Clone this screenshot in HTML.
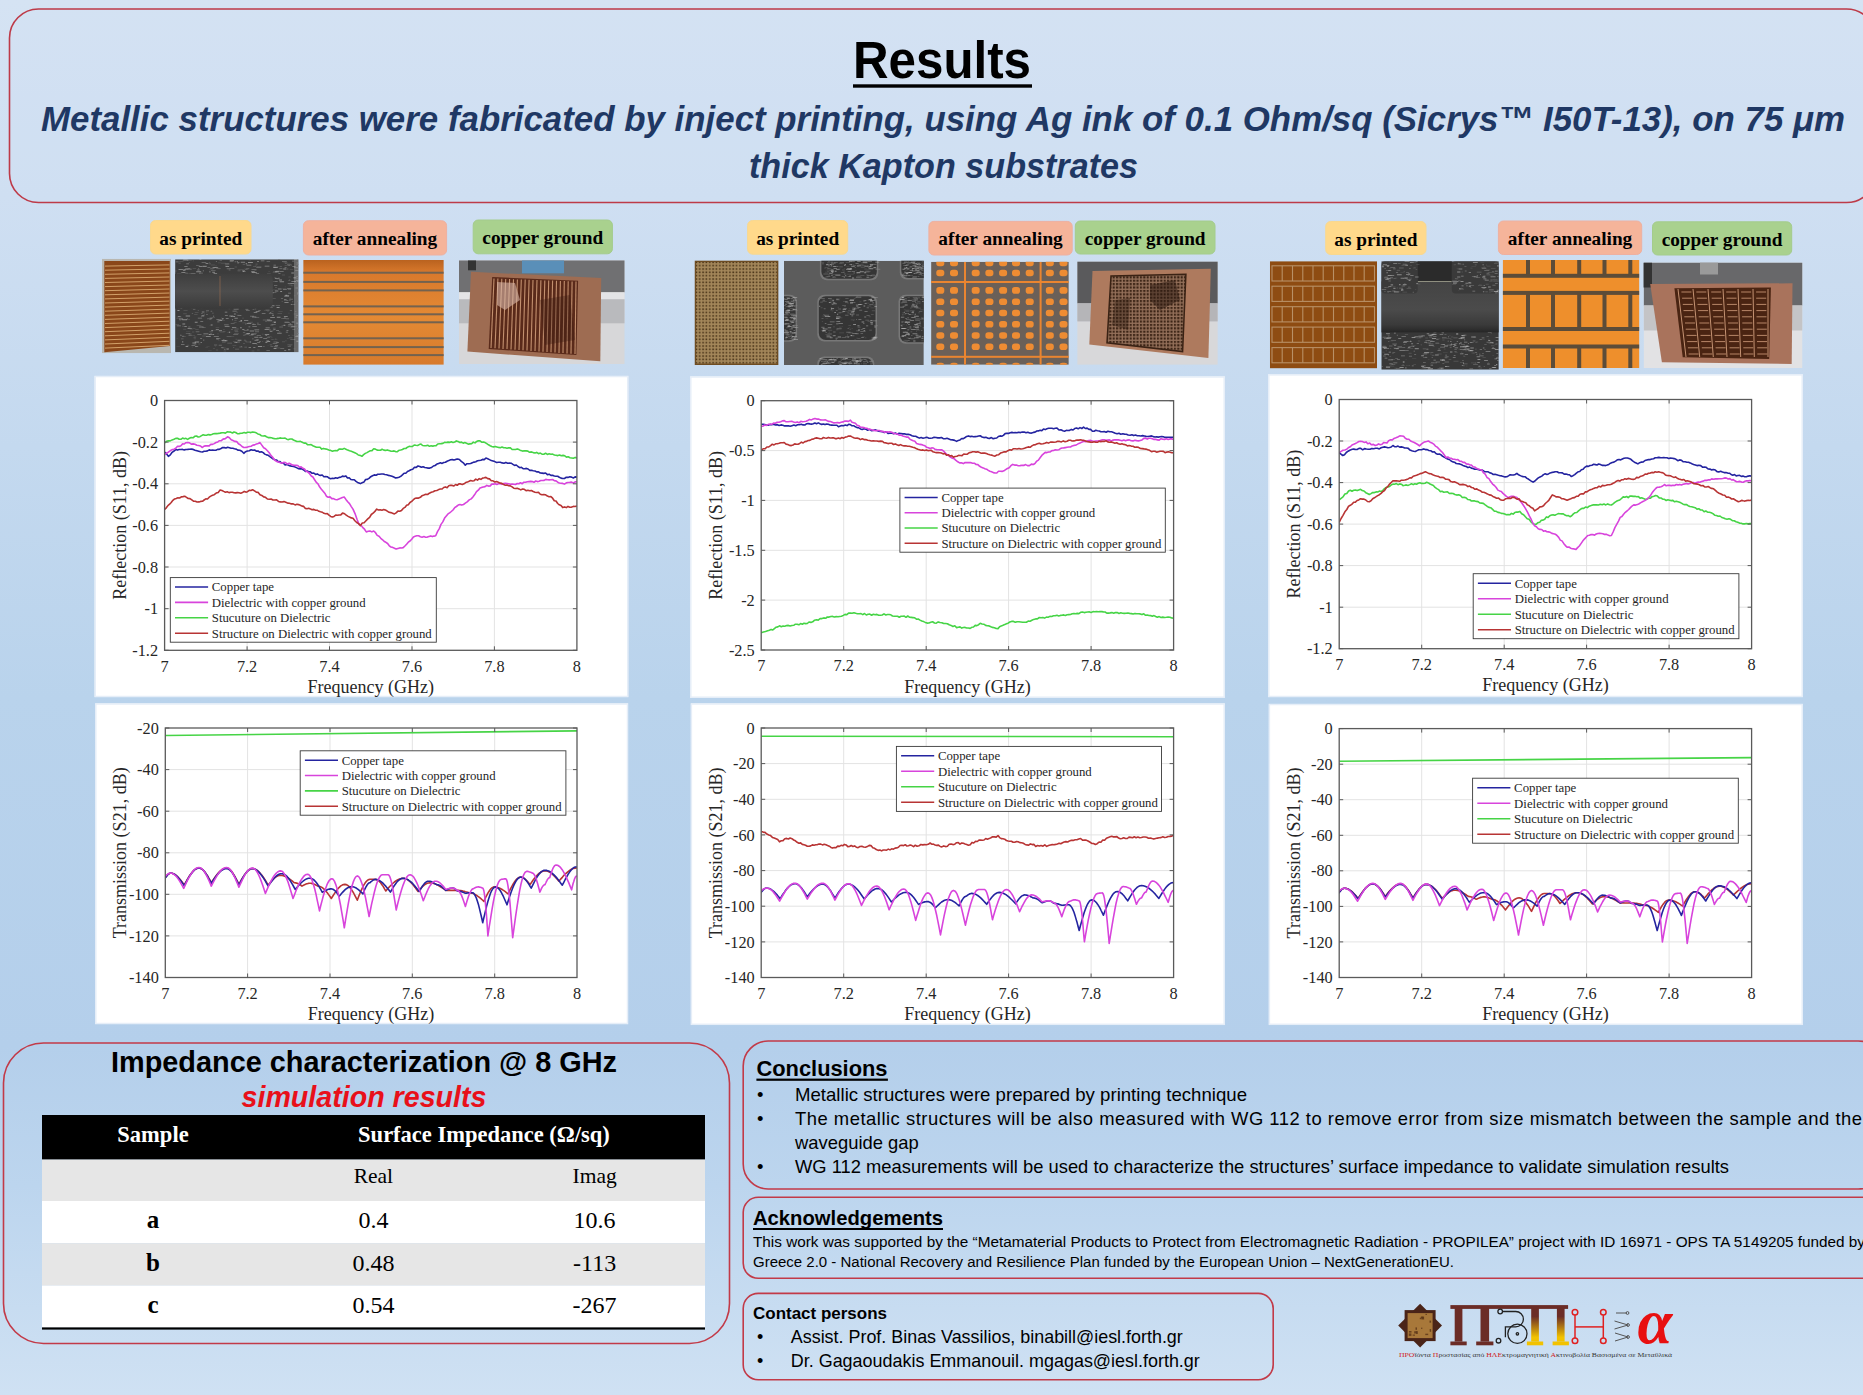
<!DOCTYPE html><html><head><meta charset="utf-8"><style>
html,body{margin:0;padding:0;width:1863px;height:1395px;overflow:hidden;}
svg{display:block;}
</style></head><body>
<svg width="1863" height="1395" viewBox="0 0 1863 1395" font-family="Liberation Sans">
<defs>
<linearGradient id="bg" x1="0" y1="0" x2="0" y2="1">
<stop offset="0" stop-color="#d5e3f3"/>
<stop offset="0.14" stop-color="#cfdff2"/>
<stop offset="0.5" stop-color="#b9d3ec"/>
<stop offset="0.75" stop-color="#b4cfeb"/>
<stop offset="0.85" stop-color="#bcd5ee"/>
<stop offset="1" stop-color="#cfe1f3"/>
</linearGradient>
</defs>
<rect x="0" y="0" width="1863" height="1395" fill="url(#bg)"/>

<rect x="9.5" y="9" width="1866" height="193.5" rx="29" ry="29" fill="#cfe0f2" fill-opacity="0.25" stroke="#bd3a48" stroke-width="1.6"/>
<text x="942" y="77.5" text-anchor="middle" font-size="51" font-weight="bold" fill="#000" textLength="178" lengthAdjust="spacingAndGlyphs">Results</text>
<rect x="853" y="84.3" width="179" height="3.4" fill="#000"/>
<text x="943" y="130.5" text-anchor="middle" font-size="35" font-weight="bold" font-style="italic" fill="#1f3864" textLength="1804" lengthAdjust="spacingAndGlyphs">Metallic structures were fabricated by inject printing, using Ag ink of 0.1 Ohm/sq (Sicrys™ I50T-13), on 75 μm</text>
<text x="943.5" y="178" text-anchor="middle" font-size="35" font-weight="bold" font-style="italic" fill="#1f3864" textLength="389" lengthAdjust="spacingAndGlyphs">thick Kapton substrates</text>
<rect x="150.5" y="220.5" width="100.5" height="33.5" rx="5" fill="#ffd98b" stroke="#f8d890" stroke-width="1"/>
<text x="200.75" y="244.5" text-anchor="middle" font-family="Liberation Serif" font-size="19.3" font-weight="bold" fill="#000">as printed</text>
<rect x="303.4" y="220.7" width="143.20000000000005" height="34.30000000000001" rx="5" fill="#f5b49a" stroke="#eeb0a0" stroke-width="1"/>
<text x="375.0" y="244.7" text-anchor="middle" font-family="Liberation Serif" font-size="19.3" font-weight="bold" fill="#000">after annealing</text>
<rect x="473.2" y="220" width="139.2" height="33.80000000000001" rx="5" fill="#a9d18e" stroke="#a4cc8c" stroke-width="1"/>
<text x="542.8" y="244" text-anchor="middle" font-family="Liberation Serif" font-size="19.3" font-weight="bold" fill="#000">copper ground</text>
<rect x="747.6" y="220.5" width="100.10000000000002" height="33.69999999999999" rx="5" fill="#ffd98b" stroke="#f8d890" stroke-width="1"/>
<text x="797.6500000000001" y="244.5" text-anchor="middle" font-family="Liberation Serif" font-size="19.3" font-weight="bold" fill="#000">as printed</text>
<rect x="928.9" y="221.4" width="143.30000000000007" height="33.599999999999994" rx="5" fill="#f5b49a" stroke="#eeb0a0" stroke-width="1"/>
<text x="1000.55" y="245.4" text-anchor="middle" font-family="Liberation Serif" font-size="19.3" font-weight="bold" fill="#000">after annealing</text>
<rect x="1075.3" y="221" width="139.70000000000005" height="33" rx="5" fill="#a9d18e" stroke="#a4cc8c" stroke-width="1"/>
<text x="1145.15" y="245" text-anchor="middle" font-family="Liberation Serif" font-size="19.3" font-weight="bold" fill="#000">copper ground</text>
<rect x="1325.7" y="221.5" width="100.29999999999995" height="33.0" rx="5" fill="#ffd98b" stroke="#f8d890" stroke-width="1"/>
<text x="1375.85" y="245.5" text-anchor="middle" font-family="Liberation Serif" font-size="19.3" font-weight="bold" fill="#000">as printed</text>
<rect x="1498.4" y="221" width="143.29999999999995" height="33.5" rx="5" fill="#f5b49a" stroke="#eeb0a0" stroke-width="1"/>
<text x="1570.0500000000002" y="245" text-anchor="middle" font-family="Liberation Serif" font-size="19.3" font-weight="bold" fill="#000">after annealing</text>
<rect x="1652.5" y="221.8" width="139.20000000000005" height="33.19999999999999" rx="5" fill="#a9d18e" stroke="#a4cc8c" stroke-width="1"/>
<text x="1722.1" y="245.8" text-anchor="middle" font-family="Liberation Serif" font-size="19.3" font-weight="bold" fill="#000">copper ground</text>
<clipPath id="cp1"><rect x="102" y="258.8" width="69" height="94.39999999999998"/></clipPath><g clip-path="url(#cp1)">
<rect x="102.0" y="258.8" width="69.0" height="94.4" fill="#b9b7b0" />
<polygon points="104.3,260.9 169.8,260.9 169.8,346.0 104.3,352.2" fill="#8a471a" />
<line x1="105" y1="266.1" x2="169.5" y2="264.9" stroke="#d2a068" stroke-width="1.0"/>
<line x1="105" y1="270.2" x2="169.5" y2="268.9" stroke="#d2a068" stroke-width="1.0"/>
<line x1="105" y1="274.3" x2="169.5" y2="272.9" stroke="#d2a068" stroke-width="1.0"/>
<line x1="105" y1="278.4" x2="169.5" y2="277.0" stroke="#d2a068" stroke-width="1.0"/>
<line x1="105" y1="282.5" x2="169.5" y2="281.0" stroke="#d2a068" stroke-width="1.0"/>
<line x1="105" y1="286.6" x2="169.5" y2="285.0" stroke="#d2a068" stroke-width="1.0"/>
<line x1="105" y1="290.7" x2="169.5" y2="289.0" stroke="#d2a068" stroke-width="1.0"/>
<line x1="105" y1="294.8" x2="169.5" y2="293.0" stroke="#d2a068" stroke-width="1.0"/>
<line x1="105" y1="298.9" x2="169.5" y2="297.1" stroke="#d2a068" stroke-width="1.0"/>
<line x1="105" y1="303.0" x2="169.5" y2="301.1" stroke="#d2a068" stroke-width="1.0"/>
<line x1="105" y1="307.1" x2="169.5" y2="305.1" stroke="#d2a068" stroke-width="1.0"/>
<line x1="105" y1="311.2" x2="169.5" y2="309.1" stroke="#d2a068" stroke-width="1.0"/>
<line x1="105" y1="315.3" x2="169.5" y2="313.1" stroke="#d2a068" stroke-width="1.0"/>
<line x1="105" y1="319.4" x2="169.5" y2="317.2" stroke="#d2a068" stroke-width="1.0"/>
<line x1="105" y1="323.5" x2="169.5" y2="321.2" stroke="#d2a068" stroke-width="1.0"/>
<line x1="105" y1="327.6" x2="169.5" y2="325.2" stroke="#d2a068" stroke-width="1.0"/>
<line x1="105" y1="331.7" x2="169.5" y2="329.2" stroke="#d2a068" stroke-width="1.0"/>
<line x1="105" y1="335.8" x2="169.5" y2="333.2" stroke="#d2a068" stroke-width="1.0"/>
<line x1="105" y1="339.9" x2="169.5" y2="337.3" stroke="#d2a068" stroke-width="1.0"/>
<line x1="105" y1="344.0" x2="169.5" y2="341.3" stroke="#d2a068" stroke-width="1.0"/>
<line x1="105" y1="348.1" x2="169.5" y2="345.3" stroke="#d2a068" stroke-width="1.0"/>
</g>
<clipPath id="cp2"><rect x="175.1" y="259.3" width="123.50000000000003" height="92.89999999999998"/></clipPath><g clip-path="url(#cp2)">
<rect x="175.1" y="259.3" width="123.5" height="93.0" fill="#3c3c3c" />
<path d="M254.8 265.7h2.2v0.6h-2.2zM242.6 264.4h2.6v0.6h-2.6zM198.0 268.0h1.2v0.8h-1.2zM289.4 297.8h1.5v0.7h-1.5zM222.9 339.2h1.3v0.6h-1.3zM244.4 346.7h2.6v0.7h-2.6zM194.9 290.3h1.1v0.6h-1.1zM240.8 346.3h1.2v0.8h-1.2zM178.3 307.6h1.4v0.8h-1.4zM295.8 315.1h2.2v0.8h-2.2zM273.0 266.8h2.8v0.9h-2.8zM242.3 271.1h3.6v0.7h-3.6zM191.0 273.0h4.3v1.0h-4.3zM234.2 330.4h3.7v0.8h-3.7zM269.7 305.7h1.8v0.7h-1.8zM189.9 299.7h4.3v0.6h-4.3zM201.1 286.9h3.6v0.8h-3.6zM232.3 327.7h1.9v0.6h-1.9zM238.4 286.2h3.8v0.7h-3.8zM203.0 339.6h1.3v1.1h-1.3zM245.0 323.4h1.4v1.1h-1.4zM296.9 262.4h1.9v1.0h-1.9zM213.0 291.8h1.8v1.1h-1.8zM211.7 316.9h3.3v0.7h-3.3zM244.7 333.8h4.6v1.0h-4.6zM272.8 327.8h2.9v0.5h-2.9zM265.3 282.2h3.6v0.5h-3.6zM233.7 321.9h2.9v0.7h-2.9zM232.0 301.9h2.0v0.8h-2.0zM287.4 344.6h5.0v0.7h-5.0zM234.6 261.3h1.8v1.0h-1.8zM222.8 339.0h1.9v0.5h-1.9zM208.7 263.4h2.3v0.8h-2.3zM234.2 320.5h2.5v0.6h-2.5zM186.1 290.5h1.4v0.6h-1.4zM274.2 277.6h2.1v0.7h-2.1zM282.0 261.0h4.8v1.0h-4.8zM188.4 273.2h4.9v0.6h-4.9zM175.2 270.6h1.2v1.0h-1.2zM283.5 318.5h1.0v0.6h-1.0zM288.4 279.9h1.9v0.9h-1.9zM219.4 295.5h3.7v0.9h-3.7zM248.1 297.2h1.0v0.5h-1.0zM262.3 287.9h1.6v0.8h-1.6zM274.5 329.5h0.9v0.7h-0.9zM216.6 284.1h3.9v1.0h-3.9zM213.8 284.4h1.9v0.9h-1.9zM273.8 346.1h3.8v0.9h-3.8zM214.2 292.3h3.4v0.7h-3.4zM194.6 296.5h2.9v0.7h-2.9zM194.7 298.2h2.8v0.8h-2.8zM266.7 336.9h3.4v0.9h-3.4zM270.4 346.0h2.7v0.7h-2.7zM242.4 317.8h1.2v0.7h-1.2zM285.0 262.8h1.8v0.9h-1.8zM270.3 306.1h1.1v0.9h-1.1zM255.0 331.2h4.0v1.0h-4.0zM195.7 331.2h3.7v1.0h-3.7zM229.2 275.3h2.3v1.0h-2.3zM180.9 303.9h2.6v0.7h-2.6zM212.9 286.6h4.2v0.6h-4.2zM207.1 318.2h1.5v1.1h-1.5zM260.2 336.8h2.2v0.9h-2.2zM284.6 266.9h2.0v1.1h-2.0zM201.0 316.3h3.2v0.7h-3.2zM178.5 262.8h2.2v0.6h-2.2zM188.7 262.2h1.2v0.6h-1.2zM210.2 268.2h4.3v0.9h-4.3zM225.6 299.2h3.4v0.5h-3.4zM240.9 278.9h2.3v0.9h-2.3zM253.0 266.4h2.9v0.6h-2.9zM224.2 295.3h3.4v0.7h-3.4zM247.8 322.4h4.8v0.6h-4.8zM294.6 326.0h2.2v0.6h-2.2zM228.3 277.0h4.1v0.9h-4.1zM230.6 287.8h3.7v0.9h-3.7zM235.1 348.7h4.1v0.7h-4.1zM296.4 275.9h3.9v0.8h-3.9zM231.7 274.1h5.0v1.1h-5.0zM214.3 303.6h2.3v0.9h-2.3zM288.9 337.6h3.6v0.7h-3.6zM294.3 267.1h3.8v0.6h-3.8zM198.3 343.8h2.1v0.5h-2.1zM250.0 315.7h4.1v1.0h-4.1zM231.1 329.2h1.7v0.9h-1.7zM226.7 268.3h3.6v1.0h-3.6zM179.2 260.9h4.4v0.6h-4.4zM232.9 341.4h3.1v0.5h-3.1zM257.1 349.8h2.6v0.5h-2.6zM287.0 263.8h3.6v1.0h-3.6zM254.8 334.2h0.8v0.5h-0.8zM274.0 285.1h3.3v1.0h-3.3zM194.3 343.7h2.2v0.7h-2.2zM295.4 287.5h4.1v0.9h-4.1zM200.3 282.4h3.6v0.8h-3.6zM185.8 333.2h4.1v0.8h-4.1zM288.5 284.7h3.3v0.6h-3.3zM296.9 293.8h4.3v0.7h-4.3zM281.7 301.2h1.0v0.8h-1.0zM288.1 324.0h4.4v0.9h-4.4zM290.4 264.5h1.5v1.1h-1.5zM192.5 279.4h2.8v0.9h-2.8zM203.2 275.2h4.3v0.8h-4.3zM264.8 296.5h1.6v0.5h-1.6zM218.7 344.8h3.2v1.0h-3.2zM202.4 275.8h0.9v1.1h-0.9zM281.6 325.0h3.8v0.6h-3.8zM246.8 329.1h1.9v0.8h-1.9zM266.5 274.1h1.4v0.8h-1.4zM226.6 336.3h4.7v0.7h-4.7zM297.3 300.7h2.6v0.7h-2.6zM252.0 333.2h4.7v0.9h-4.7zM238.8 298.9h3.4v0.7h-3.4zM245.8 284.2h4.5v1.0h-4.5zM227.3 342.8h4.8v0.6h-4.8zM247.9 291.3h2.4v0.7h-2.4zM244.3 268.8h2.5v0.5h-2.5zM175.3 324.4h3.7v0.5h-3.7zM187.1 260.4h4.7v0.7h-4.7zM189.9 273.4h3.2v0.7h-3.2zM208.8 262.0h1.4v0.6h-1.4zM223.5 329.3h0.9v0.6h-0.9zM210.6 310.7h1.6v1.1h-1.6zM216.2 318.9h2.2v1.0h-2.2zM237.5 270.5h3.0v0.7h-3.0zM192.8 260.4h0.9v0.9h-0.9zM203.4 276.3h3.7v1.0h-3.7zM295.2 310.9h1.2v0.9h-1.2zM293.9 267.2h1.5v0.8h-1.5zM201.8 293.3h4.4v0.8h-4.4zM262.1 340.9h1.1v0.5h-1.1zM251.0 333.6h4.9v1.1h-4.9zM245.2 269.4h3.1v0.6h-3.1zM273.1 271.4h4.4v0.9h-4.4zM198.5 302.7h3.1v1.1h-3.1zM292.2 301.3h1.0v0.9h-1.0zM291.2 325.4h2.4v0.9h-2.4zM218.6 289.1h4.2v0.7h-4.2zM274.1 346.3h3.1v0.9h-3.1zM234.7 303.5h0.9v1.1h-0.9zM272.7 272.0h4.1v0.6h-4.1zM269.7 344.5h2.5v0.7h-2.5zM208.2 318.1h3.8v0.5h-3.8zM201.0 289.1h3.5v1.1h-3.5zM258.2 290.1h3.5v0.7h-3.5zM290.3 339.3h4.9v0.7h-4.9zM200.8 307.7h1.5v0.5h-1.5zM224.1 349.1h1.4v0.9h-1.4zM188.2 326.5h2.2v1.0h-2.2zM211.8 267.1h4.8v0.6h-4.8zM178.0 269.3h5.0v0.7h-5.0zM179.0 280.6h4.5v1.1h-4.5zM203.4 298.6h1.0v0.8h-1.0zM284.6 264.9h3.9v0.5h-3.9zM252.6 309.2h1.7v0.8h-1.7zM293.5 277.1h0.9v0.7h-0.9zM219.5 260.0h2.5v0.8h-2.5zM273.5 341.6h4.0v1.0h-4.0zM256.3 267.0h5.0v1.0h-5.0zM196.8 346.2h1.4v0.9h-1.4zM223.5 350.7h2.7v0.6h-2.7zM206.0 310.2h3.0v1.0h-3.0zM235.9 341.9h2.4v0.8h-2.4zM202.1 266.1h4.0v0.6h-4.0zM267.4 310.9h1.2v0.6h-1.2zM291.6 334.8h0.8v0.5h-0.8zM181.0 338.4h2.6v0.9h-2.6zM270.3 324.8h3.0v0.6h-3.0zM189.0 335.2h2.6v0.9h-2.6zM255.4 307.2h3.6v0.6h-3.6zM267.0 304.7h2.0v0.7h-2.0zM212.1 312.7h1.6v0.7h-1.6zM246.1 268.3h3.2v0.7h-3.2zM215.4 292.5h2.3v0.8h-2.3zM183.5 310.4h4.1v0.7h-4.1zM194.8 295.2h3.9v0.6h-3.9zM251.5 269.1h5.0v0.8h-5.0zM203.7 313.8h1.2v0.8h-1.2zM215.5 265.4h1.0v0.8h-1.0zM278.7 331.4h1.6v0.9h-1.6zM255.3 317.2h3.9v0.9h-3.9zM243.9 339.7h1.8v0.9h-1.8zM192.9 309.2h2.5v0.7h-2.5zM250.9 285.9h2.3v1.0h-2.3zM205.7 291.4h2.7v1.0h-2.7zM182.0 335.8h2.3v1.1h-2.3zM226.6 349.0h2.0v0.8h-2.0zM194.8 311.9h3.7v0.7h-3.7zM192.1 306.5h4.1v0.7h-4.1zM195.9 287.7h1.5v0.9h-1.5zM239.9 285.5h2.3v1.1h-2.3zM207.6 281.4h2.3v1.1h-2.3zM248.9 335.2h4.5v0.6h-4.5zM196.6 325.5h4.7v0.6h-4.7zM288.3 265.1h1.7v0.9h-1.7zM236.4 341.6h3.6v1.0h-3.6zM222.1 341.5h3.5v1.0h-3.5zM244.8 340.7h2.1v0.7h-2.1zM268.7 300.1h1.7v0.8h-1.7zM195.3 328.9h3.4v0.6h-3.4zM287.8 325.5h3.9v1.1h-3.9zM196.5 291.7h2.1v0.5h-2.1zM275.8 270.8h4.1v0.8h-4.1zM222.7 291.6h3.0v0.7h-3.0zM294.3 266.9h0.9v1.0h-0.9zM218.5 340.0h0.8v0.6h-0.8zM202.5 326.9h3.2v0.9h-3.2zM289.1 279.2h1.0v0.6h-1.0zM292.3 328.9h2.8v0.8h-2.8zM195.0 306.1h1.6v1.0h-1.6zM221.8 339.9h2.9v1.1h-2.9zM275.7 305.2h4.4v0.8h-4.4zM250.4 301.1h3.8v0.9h-3.8zM265.2 320.8h1.7v0.9h-1.7zM238.7 321.3h3.4v0.6h-3.4zM272.7 343.0h4.6v0.9h-4.6zM260.2 287.0h3.6v0.9h-3.6zM184.0 265.9h3.9v0.8h-3.9zM222.6 331.2h2.2v0.6h-2.2zM257.2 284.5h4.4v1.0h-4.4zM192.6 267.9h3.6v0.6h-3.6zM244.8 279.5h2.4v0.9h-2.4zM289.8 310.0h2.3v0.8h-2.3zM209.4 331.6h3.5v0.6h-3.5zM234.0 275.6h1.3v1.1h-1.3zM285.7 318.2h3.4v1.0h-3.4z" fill="#8a8a8a" opacity="0.55"/>
<path d="M212.8 334.1h1.4v0.6h-1.4zM219.3 281.9h2.8v1.1h-2.8zM196.6 280.3h4.8v0.6h-4.8zM197.4 284.9h0.9v1.0h-0.9zM234.0 295.8h2.5v0.7h-2.5zM220.0 274.4h3.7v0.7h-3.7zM215.4 279.5h3.0v1.0h-3.0zM202.0 279.9h4.8v0.7h-4.8zM267.0 303.0h4.6v1.0h-4.6zM185.4 273.6h2.7v0.9h-2.7zM187.6 328.0h4.2v0.9h-4.2zM249.6 330.4h4.5v1.0h-4.5zM229.3 315.4h4.0v1.0h-4.0zM240.4 303.0h3.7v0.8h-3.7zM290.5 282.9h3.7v1.0h-3.7zM262.8 319.7h4.6v0.6h-4.6zM296.4 335.6h2.5v0.8h-2.5zM270.5 283.9h1.9v0.5h-1.9zM273.3 266.7h4.7v0.9h-4.7zM190.8 307.5h4.7v0.7h-4.7zM200.2 300.0h3.4v0.8h-3.4zM201.4 280.1h4.9v0.7h-4.9zM209.2 319.4h2.2v0.6h-2.2zM235.6 285.1h4.0v0.9h-4.0zM284.4 316.7h1.0v1.0h-1.0zM284.5 321.8h4.3v0.9h-4.3zM252.0 316.6h4.3v0.8h-4.3zM239.3 346.7h3.2v0.6h-3.2zM252.3 343.0h4.5v1.0h-4.5zM264.8 300.5h3.8v0.5h-3.8zM181.0 344.3h3.5v0.7h-3.5zM252.2 338.4h1.3v0.8h-1.3zM183.6 307.2h3.7v0.6h-3.7zM213.8 336.2h5.0v0.7h-5.0zM236.9 277.9h4.1v0.9h-4.1zM273.5 264.7h2.4v0.8h-2.4zM265.5 334.7h1.6v1.0h-1.6zM205.3 281.6h3.9v0.6h-3.9zM211.0 270.0h4.6v0.5h-4.6zM198.8 265.9h3.3v1.0h-3.3zM206.3 314.1h1.4v0.6h-1.4zM297.2 292.5h2.5v1.0h-2.5zM290.5 298.9h2.4v0.7h-2.4zM220.5 305.4h1.2v0.9h-1.2zM293.5 277.2h2.9v1.0h-2.9zM259.4 341.0h1.2v0.9h-1.2zM199.0 302.5h3.4v0.9h-3.4zM194.2 292.0h1.0v1.1h-1.0zM250.8 334.3h2.8v0.8h-2.8zM237.5 262.8h1.2v0.8h-1.2zM264.8 334.0h4.4v1.1h-4.4zM210.3 333.6h1.4v1.0h-1.4zM208.7 334.0h1.5v1.0h-1.5zM233.9 313.5h1.9v1.1h-1.9zM221.1 292.9h3.9v0.7h-3.9zM191.5 345.2h3.4v0.8h-3.4zM286.8 268.7h1.6v0.6h-1.6zM278.2 277.7h1.5v1.0h-1.5zM282.9 289.2h3.9v0.7h-3.9zM175.8 261.4h2.8v0.8h-2.8zM179.0 269.3h3.2v0.6h-3.2zM274.9 345.3h3.2v0.6h-3.2zM221.5 340.3h4.6v0.8h-4.6zM269.8 312.3h1.5v0.8h-1.5zM278.4 273.2h2.1v0.9h-2.1zM248.9 291.1h4.9v0.9h-4.9zM199.0 272.9h1.5v0.9h-1.5zM252.5 301.6h3.7v0.8h-3.7zM254.3 336.8h3.7v0.9h-3.7zM224.1 324.6h4.6v0.6h-4.6zM262.8 346.5h1.9v0.6h-1.9zM212.2 295.8h3.2v0.6h-3.2zM232.5 310.7h4.2v0.9h-4.2zM285.8 331.8h2.3v0.6h-2.3zM189.5 297.6h3.6v0.6h-3.6zM248.5 326.6h1.8v0.6h-1.8zM234.4 328.7h4.2v0.6h-4.2zM232.9 284.3h1.7v0.6h-1.7zM288.1 292.7h2.7v0.9h-2.7zM272.8 292.4h3.6v0.6h-3.6zM284.2 350.3h2.0v0.6h-2.0zM242.9 332.4h2.3v0.6h-2.3zM198.2 276.7h2.8v0.9h-2.8zM245.8 292.0h4.2v0.7h-4.2zM220.5 280.6h1.6v1.0h-1.6zM234.0 274.5h1.9v0.6h-1.9zM284.4 302.0h4.2v1.0h-4.2zM230.5 290.3h4.3v0.9h-4.3zM284.0 299.4h1.6v0.8h-1.6zM182.0 341.3h1.3v1.1h-1.3zM229.2 305.7h1.4v0.9h-1.4zM201.8 311.6h2.6v1.0h-2.6zM264.6 329.0h4.3v1.0h-4.3zM235.7 306.2h4.5v1.1h-4.5zM292.1 260.8h2.1v0.8h-2.1zM253.1 301.7h1.9v1.0h-1.9zM191.8 313.4h1.3v0.7h-1.3zM270.2 290.1h2.5v1.1h-2.5zM252.6 292.5h1.8v0.8h-1.8zM236.9 260.9h1.1v0.8h-1.1zM289.3 299.5h1.2v0.9h-1.2zM230.7 322.9h3.9v0.7h-3.9zM213.1 281.3h3.4v0.8h-3.4zM211.2 330.0h2.0v1.1h-2.0zM268.5 306.9h4.3v0.7h-4.3zM287.8 288.8h3.2v0.6h-3.2zM275.1 278.1h3.5v0.8h-3.5zM242.8 283.5h1.6v0.8h-1.6zM205.6 263.0h2.6v0.9h-2.6zM190.9 277.1h4.2v0.6h-4.2zM221.2 347.2h2.3v0.9h-2.3zM200.1 338.0h2.0v0.8h-2.0zM273.7 328.8h1.1v1.0h-1.1zM286.4 330.3h2.0v0.7h-2.0zM197.3 269.6h2.3v0.9h-2.3zM179.9 273.9h3.8v0.5h-3.8zM265.5 309.8h4.0v0.6h-4.0zM246.7 323.0h4.6v1.0h-4.6zM260.2 295.2h3.9v0.6h-3.9zM200.3 320.9h2.9v0.9h-2.9zM218.9 296.9h1.8v0.5h-1.8zM261.8 313.1h3.7v0.6h-3.7zM242.2 329.0h2.2v1.0h-2.2zM210.5 292.2h4.3v0.6h-4.3zM197.8 317.7h4.3v0.7h-4.3zM235.6 305.0h4.6v1.1h-4.6zM251.8 272.1h5.0v0.9h-5.0zM276.3 342.2h2.6v0.9h-2.6zM273.6 321.1h2.4v0.5h-2.4zM238.4 298.4h2.8v0.8h-2.8zM229.1 283.0h2.3v0.6h-2.3zM257.2 324.2h3.5v0.6h-3.5zM283.9 316.1h3.8v0.8h-3.8zM176.4 282.5h4.2v0.9h-4.2zM260.0 300.3h4.3v1.1h-4.3zM184.3 289.3h4.5v0.9h-4.5zM252.3 325.9h4.5v0.9h-4.5zM236.3 283.1h1.9v0.7h-1.9zM243.7 329.9h5.0v0.5h-5.0zM265.7 305.8h2.1v1.0h-2.1zM270.9 305.3h3.6v1.0h-3.6zM277.8 288.4h3.8v1.1h-3.8zM199.1 326.5h4.4v0.9h-4.4zM217.2 321.6h2.3v0.7h-2.3zM241.6 277.9h3.4v0.6h-3.4zM265.4 342.1h1.9v0.9h-1.9zM285.5 294.8h1.7v1.0h-1.7zM257.7 291.3h4.2v1.0h-4.2zM287.7 345.9h3.2v0.7h-3.2zM228.8 299.0h1.0v1.0h-1.0zM236.6 291.4h1.4v0.7h-1.4zM191.7 298.4h1.3v0.8h-1.3zM292.4 266.1h3.0v1.0h-3.0zM202.5 265.7h4.4v1.1h-4.4zM274.7 281.0h3.0v0.8h-3.0zM272.9 328.8h2.7v0.8h-2.7zM249.5 282.6h4.9v0.8h-4.9zM176.2 280.4h1.4v1.0h-1.4zM224.9 263.6h4.3v0.6h-4.3zM200.0 277.7h2.5v0.9h-2.5zM176.7 325.4h4.2v0.8h-4.2zM257.7 286.1h2.9v0.9h-2.9zM186.2 263.6h2.8v0.6h-2.8zM286.1 322.1h3.6v0.7h-3.6zM246.4 288.3h2.0v0.6h-2.0zM242.3 278.7h2.1v0.7h-2.1zM221.6 318.0h2.4v0.5h-2.4zM199.3 272.7h3.6v0.9h-3.6zM269.1 329.4h1.6v0.8h-1.6zM186.9 318.5h0.9v0.8h-0.9zM184.3 325.9h2.5v1.0h-2.5zM188.1 281.0h2.1v0.7h-2.1zM189.4 302.0h2.9v0.8h-2.9zM190.6 281.1h2.5v0.6h-2.5zM290.7 303.9h4.5v0.5h-4.5zM216.4 268.0h4.2v0.5h-4.2zM193.2 306.0h0.9v1.0h-0.9zM192.2 277.2h1.4v0.7h-1.4zM277.1 332.8h4.6v0.9h-4.6zM205.9 336.1h4.9v1.0h-4.9zM284.1 296.5h5.0v0.6h-5.0zM180.1 334.7h1.3v0.9h-1.3zM271.9 314.8h2.1v1.0h-2.1zM279.6 268.5h2.4v0.5h-2.4zM267.3 320.3h4.9v0.9h-4.9zM295.4 316.7h1.5v0.9h-1.5zM270.3 292.1h3.3v1.1h-3.3zM216.3 338.6h2.5v0.8h-2.5zM257.1 341.9h3.0v0.8h-3.0zM279.6 271.2h4.1v0.9h-4.1zM254.5 339.8h3.9v1.0h-3.9zM237.4 314.9h4.0v0.9h-4.0zM240.8 261.8h4.3v1.0h-4.3zM228.8 277.2h3.9v0.8h-3.9zM187.5 268.8h4.2v0.8h-4.2zM234.4 317.8h3.4v1.0h-3.4zM263.2 338.3h4.0v0.8h-4.0zM287.7 283.2h4.7v0.9h-4.7zM184.2 269.5h4.0v0.5h-4.0zM224.9 315.2h3.0v0.8h-3.0zM270.2 317.1h4.7v0.8h-4.7zM196.6 299.3h3.8v1.1h-3.8zM281.2 318.0h4.8v0.6h-4.8zM212.2 296.6h1.5v0.6h-1.5zM256.3 339.3h2.4v0.6h-2.4zM268.8 279.6h2.0v0.7h-2.0zM224.6 303.6h3.1v0.8h-3.1zM239.3 281.1h1.3v1.1h-1.3zM212.3 287.9h4.9v1.0h-4.9z" fill="#b8b8b8" opacity="0.55"/>
<path d="M235.9 307.9h3.2v0.9h-3.2zM245.4 307.3h3.7v0.6h-3.7zM282.3 287.9h4.0v0.8h-4.0zM230.9 336.3h3.3v0.8h-3.3zM235.5 279.1h2.3v0.9h-2.3zM221.1 317.4h1.1v0.6h-1.1zM192.7 328.0h2.8v0.7h-2.8zM238.3 277.9h2.8v0.9h-2.8zM178.4 284.7h2.3v0.5h-2.3zM217.2 333.4h1.6v0.9h-1.6zM276.3 278.4h2.6v1.0h-2.6zM263.9 310.2h1.5v0.8h-1.5zM224.5 297.8h3.8v1.1h-3.8zM197.5 341.4h2.0v1.0h-2.0zM207.1 275.7h4.7v1.1h-4.7zM253.0 296.2h4.3v0.9h-4.3zM176.7 316.5h4.9v1.0h-4.9zM256.6 294.0h2.6v0.5h-2.6zM180.5 276.1h3.3v0.9h-3.3zM292.9 348.5h2.7v0.7h-2.7zM184.5 272.6h3.4v0.9h-3.4zM209.3 269.4h3.3v0.9h-3.3zM278.0 259.2h2.2v0.7h-2.2zM288.6 324.6h4.3v0.6h-4.3zM252.8 272.7h1.0v0.9h-1.0zM209.5 282.5h1.5v0.7h-1.5zM236.1 311.8h1.9v1.0h-1.9zM248.7 260.0h2.4v0.6h-2.4zM205.3 347.4h2.8v0.6h-2.8zM203.3 279.4h2.1v1.0h-2.1zM221.4 293.4h0.9v0.9h-0.9zM293.2 278.1h4.8v0.6h-4.8zM209.3 283.6h4.1v0.7h-4.1zM198.1 265.0h2.0v1.0h-2.0zM217.9 262.4h3.5v0.9h-3.5zM225.1 293.2h4.2v1.0h-4.2zM208.2 349.9h3.5v0.7h-3.5zM222.8 300.9h3.6v0.7h-3.6zM205.6 294.8h3.5v0.7h-3.5zM183.2 292.0h4.2v0.7h-4.2zM202.1 335.6h3.7v0.9h-3.7zM197.3 273.8h2.1v0.5h-2.1zM213.0 347.9h2.0v0.8h-2.0zM218.5 268.8h0.9v0.5h-0.9zM211.9 271.3h3.0v0.7h-3.0zM182.8 272.3h3.8v0.8h-3.8zM176.4 318.3h2.5v0.7h-2.5zM228.5 331.5h1.9v0.8h-1.9zM183.1 313.3h3.7v0.9h-3.7zM211.1 290.0h4.1v0.9h-4.1zM209.6 324.9h0.9v0.7h-0.9zM248.8 302.8h4.6v1.0h-4.6zM228.5 307.2h3.2v0.7h-3.2zM293.6 313.5h3.7v1.0h-3.7zM194.0 336.6h2.3v0.7h-2.3zM260.4 305.7h2.2v0.9h-2.2zM282.0 341.3h3.0v0.9h-3.0zM226.3 297.7h2.5v0.5h-2.5zM207.8 293.6h2.3v1.0h-2.3zM234.0 333.1h4.9v0.9h-4.9zM214.8 345.7h1.2v0.8h-1.2zM176.4 346.6h3.5v0.5h-3.5zM294.8 267.3h3.4v0.9h-3.4zM292.8 265.9h2.4v0.8h-2.4zM249.7 321.8h3.5v0.5h-3.5zM251.7 290.2h0.9v0.9h-0.9zM242.9 342.9h2.2v1.0h-2.2zM242.9 335.1h2.6v0.8h-2.6zM215.9 349.6h2.3v0.8h-2.3zM272.1 289.4h4.9v0.9h-4.9zM271.4 310.7h2.3v1.0h-2.3zM222.3 331.3h3.4v0.8h-3.4zM210.8 264.6h4.1v0.8h-4.1zM176.9 272.9h4.5v0.9h-4.5zM285.0 340.4h1.8v0.8h-1.8zM235.5 338.7h1.8v1.1h-1.8zM194.1 313.9h3.5v1.0h-3.5zM275.4 347.6h4.8v1.0h-4.8zM267.6 345.4h1.0v0.6h-1.0zM255.0 302.3h3.3v0.8h-3.3zM277.1 266.2h4.2v0.6h-4.2zM194.1 283.9h1.9v0.7h-1.9zM189.6 328.4h3.2v1.0h-3.2zM182.0 325.8h2.0v1.0h-2.0zM290.7 285.3h2.7v1.0h-2.7zM261.8 333.7h1.7v0.9h-1.7zM268.5 271.3h1.2v0.7h-1.2zM295.8 262.4h1.8v0.8h-1.8zM275.1 338.6h1.3v0.9h-1.3zM245.7 341.6h4.1v1.0h-4.1zM278.4 310.9h4.3v0.9h-4.3zM181.6 306.6h4.2v1.0h-4.2zM283.5 262.2h4.2v1.0h-4.2zM254.4 270.1h2.0v0.7h-2.0zM262.1 301.4h3.5v0.6h-3.5zM293.9 295.5h1.6v0.8h-1.6zM214.7 288.9h1.5v1.1h-1.5zM192.2 277.6h2.6v0.9h-2.6zM193.3 337.2h2.5v1.1h-2.5zM284.8 286.6h0.9v0.7h-0.9zM251.6 350.6h2.8v0.8h-2.8zM186.3 292.4h3.7v0.9h-3.7zM237.8 269.2h4.9v1.0h-4.9zM182.6 260.1h3.4v1.0h-3.4zM275.0 286.9h2.1v1.0h-2.1zM179.3 320.1h2.0v0.6h-2.0zM272.5 281.1h3.1v0.8h-3.1zM248.1 299.5h4.8v1.1h-4.8zM219.9 332.5h4.7v0.6h-4.7zM289.7 269.3h3.6v0.8h-3.6zM214.1 330.5h3.7v0.5h-3.7zM291.0 298.0h2.0v0.6h-2.0zM291.8 334.9h2.9v0.6h-2.9zM270.7 280.7h1.5v0.6h-1.5zM238.2 299.9h1.8v0.6h-1.8zM212.3 269.2h1.0v1.0h-1.0zM214.8 302.1h2.7v0.6h-2.7zM234.9 331.1h3.5v1.1h-3.5zM254.0 316.8h0.8v1.1h-0.8zM214.3 292.9h1.6v1.0h-1.6zM271.5 298.1h4.3v1.0h-4.3zM254.4 286.5h4.8v0.8h-4.8zM242.2 269.3h1.6v1.0h-1.6zM182.1 280.8h1.4v1.0h-1.4zM281.8 274.5h3.2v1.1h-3.2zM197.7 310.0h1.3v1.0h-1.3zM277.5 313.1h4.5v0.9h-4.5zM251.6 278.4h2.1v0.6h-2.1zM232.4 345.2h3.9v0.7h-3.9zM252.8 292.4h4.1v0.9h-4.1zM224.8 264.6h2.3v0.8h-2.3zM205.9 311.6h1.4v0.9h-1.4zM288.4 312.8h1.1v0.6h-1.1zM177.8 274.1h2.0v0.7h-2.0zM180.8 300.2h1.8v0.5h-1.8zM274.2 339.5h3.3v0.5h-3.3zM296.1 264.2h4.7v0.8h-4.7zM215.6 327.2h3.6v0.9h-3.6zM239.9 284.2h3.1v0.7h-3.1zM255.3 330.2h0.8v0.8h-0.8zM262.0 281.2h0.9v0.5h-0.9zM194.2 338.4h1.7v0.8h-1.7zM270.9 337.3h1.7v0.5h-1.7zM242.3 322.5h3.5v0.8h-3.5zM294.6 283.5h2.3v0.5h-2.3zM256.4 344.0h1.1v1.0h-1.1zM183.1 328.7h3.2v1.1h-3.2zM187.6 291.8h1.4v0.7h-1.4zM234.9 319.7h0.8v0.6h-0.8zM196.9 325.1h3.2v0.5h-3.2zM226.9 331.9h4.4v0.6h-4.4zM221.1 262.8h4.7v0.9h-4.7zM288.4 276.6h2.4v0.8h-2.4zM295.4 276.1h2.1v0.6h-2.1zM222.0 320.1h3.0v0.6h-3.0zM226.5 263.7h3.1v0.8h-3.1zM228.5 308.6h1.8v0.7h-1.8zM192.3 344.6h3.6v0.9h-3.6zM243.2 263.7h1.6v1.1h-1.6zM255.5 263.6h2.2v1.1h-2.2zM206.4 346.3h3.2v0.5h-3.2zM267.0 273.1h3.7v0.6h-3.7zM191.5 335.2h3.6v0.9h-3.6zM271.2 339.1h2.6v1.0h-2.6zM272.3 321.8h2.4v1.0h-2.4zM185.7 319.0h4.3v0.7h-4.3zM227.3 287.0h3.6v1.0h-3.6zM193.5 274.4h2.4v0.7h-2.4zM256.7 266.0h4.7v1.0h-4.7zM191.8 346.7h0.9v0.7h-0.9zM221.6 347.6h4.2v0.9h-4.2zM180.1 335.1h1.9v1.0h-1.9zM290.3 327.3h4.1v0.7h-4.1zM245.8 296.1h4.4v0.9h-4.4zM183.8 336.2h2.3v0.9h-2.3zM252.2 290.3h1.3v0.6h-1.3zM243.2 334.5h3.0v0.6h-3.0zM227.0 264.8h0.9v0.8h-0.9zM297.1 333.0h1.8v1.0h-1.8zM261.9 300.8h2.7v0.9h-2.7zM267.6 336.1h4.0v0.6h-4.0zM176.6 338.4h1.1v0.6h-1.1zM244.3 288.0h3.1v0.9h-3.1zM234.6 266.6h2.3v1.0h-2.3zM287.0 338.0h1.7v0.8h-1.7zM279.0 268.3h3.9v1.0h-3.9zM211.3 304.5h2.0v0.7h-2.0zM250.9 286.0h4.2v0.5h-4.2zM211.8 291.1h3.8v0.7h-3.8zM296.9 328.2h4.0v1.0h-4.0zM240.9 290.3h4.2v0.5h-4.2zM269.5 330.3h4.7v0.7h-4.7zM187.9 334.9h4.1v0.8h-4.1zM267.3 281.9h3.7v0.9h-3.7zM186.6 344.8h2.7v0.9h-2.7zM186.0 331.0h4.4v0.5h-4.4zM289.1 345.1h2.0v0.7h-2.0zM192.0 331.5h2.3v0.9h-2.3zM187.2 293.7h1.9v0.5h-1.9zM182.4 276.6h4.6v0.8h-4.6zM236.2 314.7h3.1v0.6h-3.1zM290.9 327.1h1.4v1.0h-1.4z" fill="#666666" opacity="0.55"/>
<path d="M237.2 262.4h2.3v0.5h-2.3zM246.5 264.7h4.8v0.9h-4.8zM243.2 271.3h1.0v0.6h-1.0zM295.2 269.9h3.9v0.7h-3.9zM182.4 323.5h2.8v0.9h-2.8zM257.0 261.1h2.0v0.7h-2.0zM209.1 271.6h1.5v0.7h-1.5zM225.9 292.0h4.4v0.7h-4.4zM291.7 321.6h2.7v1.0h-2.7zM189.1 303.9h3.3v0.8h-3.3zM265.7 279.9h4.2v1.0h-4.2zM185.6 346.0h2.6v0.9h-2.6zM232.1 319.3h0.9v0.9h-0.9zM268.6 289.0h1.7v0.8h-1.7zM265.7 341.6h4.3v0.5h-4.3zM177.4 310.0h2.1v0.9h-2.1zM257.9 346.0h4.2v1.0h-4.2zM230.6 290.2h1.1v1.0h-1.1zM198.2 302.7h3.9v0.8h-3.9zM228.0 304.5h1.2v1.0h-1.2zM207.4 267.3h2.9v0.5h-2.9zM267.0 319.5h3.3v0.8h-3.3zM253.1 347.3h1.2v0.5h-1.2zM267.7 280.2h4.4v0.6h-4.4zM251.2 271.3h3.5v0.9h-3.5zM257.4 322.7h1.1v0.7h-1.1zM213.2 266.9h5.0v0.8h-5.0zM275.5 348.1h0.9v0.8h-0.9zM224.7 325.9h4.8v0.9h-4.8zM269.8 331.2h2.6v0.7h-2.6zM200.5 342.3h1.5v0.6h-1.5zM215.8 328.9h3.1v0.8h-3.1zM225.7 307.2h3.9v0.7h-3.9zM222.1 318.4h1.2v1.0h-1.2zM273.6 348.1h2.6v1.0h-2.6zM288.6 335.0h0.8v0.7h-0.8zM254.4 329.4h4.8v0.9h-4.8zM190.7 282.2h3.5v0.7h-3.5zM249.8 341.5h1.3v0.9h-1.3zM291.3 272.5h2.6v0.9h-2.6zM215.4 276.1h5.0v1.1h-5.0zM184.6 266.4h2.7v0.6h-2.7zM273.6 267.1h4.0v0.7h-4.0zM229.7 288.7h1.6v0.8h-1.6zM233.3 347.0h0.9v0.6h-0.9zM274.9 271.2h4.1v1.0h-4.1zM185.3 267.9h4.9v0.7h-4.9zM196.2 271.2h5.0v1.1h-5.0zM203.4 333.4h5.0v0.8h-5.0zM233.2 334.4h5.0v0.6h-5.0zM235.8 303.5h1.1v0.5h-1.1zM266.4 340.3h2.6v0.5h-2.6zM224.8 340.2h2.6v1.0h-2.6zM181.3 272.1h4.0v0.6h-4.0zM196.1 265.2h2.3v0.6h-2.3zM286.9 287.9h4.3v0.5h-4.3zM177.9 315.9h2.7v0.8h-2.7zM280.2 347.9h4.0v0.5h-4.0zM283.2 268.6h3.1v0.8h-3.1zM202.2 285.8h3.9v0.9h-3.9zM248.8 306.6h3.3v0.8h-3.3zM180.4 307.9h1.8v1.0h-1.8zM249.6 305.6h1.4v0.6h-1.4zM233.6 308.5h5.0v0.9h-5.0zM232.0 327.2h4.3v0.9h-4.3zM288.0 349.3h2.4v1.0h-2.4zM240.5 320.1h1.6v1.1h-1.6zM175.5 304.2h4.0v1.1h-4.0zM220.6 286.9h2.6v0.9h-2.6zM231.9 260.2h2.0v1.0h-2.0zM175.7 281.3h1.9v0.9h-1.9zM230.8 316.2h1.9v0.8h-1.9zM245.4 308.8h3.0v0.6h-3.0zM276.6 307.0h3.0v0.9h-3.0zM253.2 282.2h3.9v0.9h-3.9zM256.7 335.4h4.2v0.6h-4.2zM242.2 270.5h2.8v0.7h-2.8zM192.5 280.5h1.9v0.6h-1.9zM240.1 327.3h1.6v0.9h-1.6zM234.4 342.3h2.8v0.8h-2.8zM244.0 320.2h4.3v0.8h-4.3zM224.8 311.8h2.5v0.8h-2.5zM276.1 330.2h2.9v0.8h-2.9zM229.7 260.3h3.2v1.1h-3.2zM255.8 273.3h3.3v1.1h-3.3zM252.1 324.2h3.9v0.6h-3.9zM248.6 347.1h2.4v0.7h-2.4zM291.3 326.0h3.4v0.7h-3.4zM205.2 294.6h3.3v1.1h-3.3zM273.9 322.0h2.0v1.0h-2.0zM186.5 277.8h2.0v0.9h-2.0zM253.5 347.0h1.9v0.8h-1.9zM271.4 324.3h4.3v0.5h-4.3zM229.8 267.9h4.5v0.6h-4.5zM235.2 288.3h2.2v0.6h-2.2zM204.3 280.9h2.6v0.7h-2.6zM209.5 317.8h3.0v0.7h-3.0zM217.7 319.5h3.1v0.9h-3.1zM265.6 327.4h4.2v0.8h-4.2zM252.5 323.7h1.9v0.9h-1.9zM268.9 312.9h4.5v0.5h-4.5zM221.5 300.6h4.5v0.9h-4.5zM218.3 307.4h2.0v0.7h-2.0zM266.4 350.1h3.5v0.5h-3.5zM212.3 272.3h2.7v0.6h-2.7zM238.4 306.6h3.1v1.1h-3.1zM187.1 293.4h3.6v0.8h-3.6zM193.9 276.3h3.5v1.1h-3.5zM296.4 340.7h3.7v1.0h-3.7zM291.2 304.1h0.9v0.5h-0.9zM182.7 276.6h4.4v1.1h-4.4zM291.4 281.3h4.8v0.8h-4.8zM225.7 295.7h3.6v0.9h-3.6zM185.7 274.6h0.9v1.0h-0.9zM242.9 294.6h2.6v1.0h-2.6zM279.4 326.7h3.6v0.6h-3.6zM202.8 270.6h1.1v0.7h-1.1zM261.3 301.6h4.6v0.5h-4.6zM236.0 306.9h3.2v0.6h-3.2zM276.8 316.8h3.7v0.9h-3.7zM259.1 303.8h3.5v0.6h-3.5zM295.1 336.2h3.6v0.6h-3.6zM180.6 302.1h2.0v0.8h-2.0zM266.6 261.3h3.5v0.5h-3.5zM213.0 315.7h1.2v0.9h-1.2zM182.1 268.9h4.3v0.7h-4.3zM255.7 311.0h3.8v0.7h-3.8zM279.0 279.5h3.0v0.9h-3.0zM246.0 310.0h3.7v0.6h-3.7zM238.2 301.3h3.4v1.1h-3.4zM204.7 291.6h0.9v1.0h-0.9zM228.9 331.8h0.9v1.1h-0.9zM197.3 334.3h4.2v0.5h-4.2zM215.9 260.9h0.8v0.8h-0.8zM193.5 277.9h4.2v1.1h-4.2zM218.8 330.2h3.2v1.1h-3.2zM185.7 315.4h4.4v1.0h-4.4zM178.9 318.6h4.2v0.8h-4.2zM262.0 299.6h3.0v0.7h-3.0zM253.8 286.5h1.7v1.0h-1.7zM194.8 321.8h2.8v1.0h-2.8zM225.8 318.1h2.8v0.7h-2.8zM226.4 348.5h2.5v0.7h-2.5zM296.2 322.8h1.8v0.8h-1.8zM260.1 288.8h4.6v0.5h-4.6zM294.1 259.1h3.1v0.7h-3.1zM297.0 280.6h2.9v0.9h-2.9zM280.2 291.0h1.9v1.0h-1.9zM280.9 298.4h2.2v0.7h-2.2zM207.5 299.3h4.7v0.7h-4.7zM280.5 266.4h1.1v0.6h-1.1zM289.6 323.5h1.3v0.8h-1.3zM284.2 299.5h2.5v0.8h-2.5zM258.3 310.0h2.5v0.5h-2.5zM216.1 338.4h4.3v0.6h-4.3zM240.8 293.4h1.6v0.5h-1.6zM210.7 324.4h1.9v1.0h-1.9zM191.4 273.7h4.4v1.1h-4.4zM186.0 259.5h2.3v0.9h-2.3zM274.9 290.5h3.4v0.9h-3.4zM213.9 344.7h3.3v0.6h-3.3zM183.2 259.3h3.7v0.9h-3.7zM246.4 332.9h3.5v1.1h-3.5zM188.6 333.7h2.9v0.5h-2.9zM284.6 295.3h4.5v0.9h-4.5zM219.4 319.8h2.7v1.1h-2.7zM182.3 319.2h4.7v1.0h-4.7zM267.1 341.0h3.1v0.8h-3.1zM245.7 263.3h1.4v0.9h-1.4zM233.2 316.1h1.9v1.0h-1.9zM219.4 288.4h2.5v0.9h-2.5zM286.4 300.4h1.9v0.6h-1.9zM213.6 273.0h3.5v1.0h-3.5zM225.5 266.0h3.6v1.0h-3.6zM248.0 262.0h4.9v0.9h-4.9zM224.1 306.1h3.8v0.9h-3.8zM253.7 312.0h3.6v0.7h-3.6zM209.1 334.0h4.7v0.6h-4.7zM194.7 341.5h4.1v0.9h-4.1zM201.2 312.9h1.4v0.5h-1.4zM199.5 301.0h3.3v0.6h-3.3zM262.5 281.1h2.5v0.9h-2.5zM192.4 342.6h3.7v0.8h-3.7zM296.0 280.0h1.1v0.6h-1.1zM199.5 259.1h1.8v1.0h-1.8zM198.0 305.6h3.2v0.6h-3.2zM258.5 337.2h3.8v0.5h-3.8zM195.0 346.1h2.4v0.6h-2.4zM182.9 270.2h2.6v0.7h-2.6zM254.7 308.5h1.5v0.8h-1.5zM283.6 324.7h1.7v1.0h-1.7zM237.6 339.8h3.8v0.9h-3.8zM279.6 281.2h4.5v1.0h-4.5zM228.7 269.7h1.8v0.5h-1.8zM201.5 315.2h2.9v0.8h-2.9zM187.4 302.9h2.9v0.7h-2.9zM264.7 265.8h4.7v0.8h-4.7zM260.8 260.4h3.6v0.9h-3.6zM201.6 262.3h4.6v0.5h-4.6z" fill="#d0d0d0" opacity="0.55"/>
<defs><linearGradient id="g1b" x1="0" y1="0" x2="0" y2="1"><stop offset="0" stop-color="#3e3e3e"/><stop offset="0.5" stop-color="#4d4d4d"/><stop offset="1" stop-color="#3a3a3a"/></linearGradient></defs>
<rect x="170.0" y="273.8" width="102.8" height="34.9" fill="url(#g1b)" rx="6"/>
<line x1="220" y1="276" x2="220" y2="306" stroke="#a07050" stroke-width="0.6"/>
<rect x="294.0" y="259.3" width="4.6" height="93.0" fill="#bdbdbd" opacity="0.35"/>
</g>
<defs><linearGradient id="g1c" x1="0" y1="0" x2="0" y2="1"><stop offset="0" stop-color="#b9621f"/><stop offset="0.12" stop-color="#d9792c"/><stop offset="0.55" stop-color="#e48a34"/><stop offset="1" stop-color="#d77a2c"/></linearGradient></defs>
<clipPath id="cp3"><rect x="303.2" y="260" width="140.60000000000002" height="104.80000000000001"/></clipPath><g clip-path="url(#cp3)">
<rect x="303.2" y="260.0" width="140.6" height="104.8" fill="url(#g1c)" />
<rect x="303.2" y="271.7" width="140.6" height="2.0" fill="#73624f" />
<rect x="303.2" y="280.9" width="140.6" height="2.0" fill="#73624f" />
<rect x="303.2" y="289.4" width="140.6" height="2.0" fill="#73624f" />
<rect x="303.2" y="305.4" width="140.6" height="2.0" fill="#73624f" />
<rect x="303.2" y="313.3" width="140.6" height="2.0" fill="#73624f" />
<rect x="303.2" y="321.3" width="140.6" height="2.0" fill="#73624f" />
<rect x="303.2" y="337.3" width="140.6" height="2.0" fill="#73624f" />
<rect x="303.2" y="346.1" width="140.6" height="2.0" fill="#73624f" />
<rect x="303.2" y="354.1" width="140.6" height="2.0" fill="#73624f" />
</g>
<clipPath id="cp4"><rect x="459" y="260.3" width="165.70000000000005" height="103.69999999999999"/></clipPath><g clip-path="url(#cp4)">
<rect x="459.0" y="260.3" width="165.7" height="103.7" fill="#d7d7d9" />
<rect x="459.0" y="260.3" width="165.7" height="32.0" fill="#707072" />
<rect x="459.0" y="292.3" width="165.7" height="7.0" fill="#e4e4e6" />
<rect x="459.0" y="299.3" width="165.7" height="24.0" fill="#b9babd" />
<rect x="522.0" y="260.3" width="42.0" height="13.0" fill="#5a8fb8" />
<rect x="468.0" y="260.3" width="8.0" height="10.0" fill="#333" />
<polygon points="471.0,271.8 601.2,278.0 600.3,361.3 467.4,351.5" fill="#9e6c52" />
<polygon points="492.2,277.1 578.1,280.7 576.4,355.1 488.7,348.9" fill="#5a2a1a" />
<line x1="494.0" y1="278.5" x2="491.0" y2="348.0" stroke="#c3906f" stroke-width="1.1"/>
<line x1="497.9" y1="278.6" x2="495.0" y2="348.3" stroke="#c3906f" stroke-width="1.1"/>
<line x1="501.8" y1="278.8" x2="499.0" y2="348.6" stroke="#c3906f" stroke-width="1.1"/>
<line x1="505.7" y1="278.9" x2="503.0" y2="348.9" stroke="#c3906f" stroke-width="1.1"/>
<line x1="509.6" y1="279.1" x2="507.0" y2="349.1" stroke="#c3906f" stroke-width="1.1"/>
<line x1="513.5" y1="279.2" x2="511.0" y2="349.4" stroke="#c3906f" stroke-width="1.1"/>
<line x1="517.4" y1="279.4" x2="515.0" y2="349.7" stroke="#c3906f" stroke-width="1.1"/>
<line x1="521.3" y1="279.5" x2="519.0" y2="350.0" stroke="#c3906f" stroke-width="1.1"/>
<line x1="525.2" y1="279.6" x2="523.0" y2="350.3" stroke="#c3906f" stroke-width="1.1"/>
<line x1="529.1" y1="279.8" x2="527.0" y2="350.6" stroke="#c3906f" stroke-width="1.1"/>
<line x1="533.0" y1="279.9" x2="531.0" y2="350.9" stroke="#c3906f" stroke-width="1.1"/>
<line x1="537.0" y1="280.1" x2="535.0" y2="351.1" stroke="#c3906f" stroke-width="1.1"/>
<line x1="540.9" y1="280.2" x2="539.0" y2="351.4" stroke="#c3906f" stroke-width="1.1"/>
<line x1="544.8" y1="280.4" x2="543.0" y2="351.7" stroke="#c3906f" stroke-width="1.1"/>
<line x1="548.7" y1="280.5" x2="547.0" y2="352.0" stroke="#c3906f" stroke-width="1.1"/>
<line x1="552.6" y1="280.6" x2="551.0" y2="352.3" stroke="#c3906f" stroke-width="1.1"/>
<line x1="556.5" y1="280.8" x2="555.0" y2="352.6" stroke="#c3906f" stroke-width="1.1"/>
<line x1="560.4" y1="280.9" x2="559.0" y2="352.9" stroke="#c3906f" stroke-width="1.1"/>
<line x1="564.3" y1="281.1" x2="563.0" y2="353.1" stroke="#c3906f" stroke-width="1.1"/>
<line x1="568.2" y1="281.2" x2="567.0" y2="353.4" stroke="#c3906f" stroke-width="1.1"/>
<line x1="572.1" y1="281.4" x2="571.0" y2="353.7" stroke="#c3906f" stroke-width="1.1"/>
<line x1="576.0" y1="281.5" x2="575.0" y2="354.0" stroke="#c3906f" stroke-width="1.1"/>
<polygon points="497.0,282.0 515.0,283.0 520.0,300.0 505.0,310.0 497.0,305.0" fill="#d8b8a8" opacity="0.6"/>
<polygon points="540.0,300.0 570.0,295.0 575.0,340.0 545.0,345.0" fill="#3a1a10" opacity="0.35"/>
</g>
<defs><pattern id="pt2a" x="694.5" y="260.4" width="3.35" height="3.35" patternUnits="userSpaceOnUse"><rect width="3.35" height="3.35" fill="#a4875a"/><rect x="1.1" y="1.1" width="1.6" height="1.6" fill="#4a3418"/></pattern></defs>
<clipPath id="cp5"><rect x="694.5" y="260.4" width="84.10000000000002" height="104.70000000000005"/></clipPath><g clip-path="url(#cp5)">
<rect x="694.5" y="260.4" width="84.1" height="104.7" fill="#6e4c22" />
<rect x="696.0" y="262.0" width="81.0" height="101.5" fill="url(#pt2a)" />
</g>
<clipPath id="cp6"><rect x="784" y="260.8" width="139.79999999999995" height="104.30000000000001"/></clipPath><g clip-path="url(#cp6)">
<rect x="784.0" y="260.8" width="139.8" height="104.3" fill="#5c5c5c" />
<rect x="817.3" y="294.7" width="59.7" height="46.8" fill="#8a8a8a" rx="7" opacity="0.6"/>
<rect x="818.8" y="296.2" width="56.7" height="43.8" fill="#353535" rx="7"/>
<path d="M824.1 314.8h4.9v0.9h-4.9zM848.3 332.5h4.5v0.8h-4.5zM833.1 331.4h2.5v1.1h-2.5zM856.2 330.4h3.4v0.8h-3.4zM872.9 338.1h2.8v0.7h-2.8zM830.8 307.6h1.3v0.6h-1.3zM822.4 315.7h3.5v0.6h-3.5zM829.3 336.0h2.2v0.8h-2.2zM842.4 308.8h4.0v1.0h-4.0zM845.1 314.8h3.4v1.0h-3.4zM847.9 310.4h4.0v0.8h-4.0zM836.1 299.4h3.7v0.8h-3.7zM859.2 309.7h3.0v1.0h-3.0zM854.3 308.1h1.2v0.8h-1.2zM849.9 298.9h4.4v1.1h-4.4zM857.6 326.8h3.0v0.6h-3.0zM856.1 318.9h0.9v1.0h-0.9zM842.5 310.7h1.5v1.0h-1.5zM850.4 335.2h4.0v1.0h-4.0zM826.5 336.4h4.4v1.0h-4.4zM825.4 334.1h2.3v0.5h-2.3zM867.5 320.7h3.9v0.7h-3.9zM855.5 333.1h3.1v1.1h-3.1zM820.1 301.8h2.7v0.8h-2.7zM847.5 328.1h1.6v0.7h-1.6zM859.6 304.2h2.1v0.7h-2.1zM853.8 298.5h1.8v0.6h-1.8zM870.3 298.4h1.9v1.0h-1.9zM838.4 312.6h2.9v0.6h-2.9zM865.3 319.7h3.5v0.8h-3.5zM827.5 324.1h4.8v0.9h-4.8zM826.4 334.9h3.5v0.7h-3.5zM843.4 308.0h3.4v1.0h-3.4zM822.5 330.9h0.9v1.0h-0.9zM843.1 301.4h2.1v0.6h-2.1zM821.9 301.5h4.9v0.5h-4.9zM828.2 316.0h2.2v0.9h-2.2zM863.0 323.0h1.5v1.0h-1.5zM869.2 329.7h2.7v0.9h-2.7zM827.5 323.9h2.9v0.9h-2.9zM833.8 334.9h2.1v0.7h-2.1zM846.2 331.7h4.4v1.1h-4.4zM866.6 307.3h2.3v1.0h-2.3zM823.4 330.1h2.7v0.5h-2.7zM829.1 302.0h2.2v1.1h-2.2zM835.6 338.7h1.5v1.1h-1.5zM866.4 315.2h3.4v0.8h-3.4zM842.2 305.2h3.8v0.9h-3.8zM825.4 332.0h1.7v0.8h-1.7zM874.1 325.2h3.7v1.1h-3.7zM823.7 308.2h1.9v1.1h-1.9zM828.8 331.8h0.9v0.6h-0.9zM850.0 313.9h2.9v0.8h-2.9zM826.6 335.8h3.9v0.6h-3.9zM845.3 298.0h3.3v0.8h-3.3zM835.8 310.1h1.8v0.6h-1.8zM828.0 298.1h3.8v0.8h-3.8zM860.1 331.2h5.0v0.9h-5.0zM822.6 299.8h2.5v1.0h-2.5zM821.3 326.8h3.2v1.1h-3.2zM827.5 333.5h4.4v0.9h-4.4zM856.2 296.4h1.3v0.7h-1.3z" fill="#8a8a8a" opacity="0.55"/>
<path d="M872.3 302.6h1.8v0.6h-1.8zM836.7 328.4h5.0v0.6h-5.0zM822.7 328.4h4.9v1.0h-4.9zM857.3 307.1h3.2v0.6h-3.2zM861.2 337.1h2.7v0.7h-2.7zM841.6 337.4h4.8v0.6h-4.8zM857.4 325.2h2.1v1.0h-2.1zM853.9 308.7h2.5v0.6h-2.5zM865.4 299.9h0.9v1.0h-0.9zM833.6 326.6h0.8v0.6h-0.8zM870.9 337.7h0.9v0.6h-0.9zM863.5 300.2h1.8v1.0h-1.8zM863.6 330.1h1.6v0.9h-1.6zM824.8 323.3h1.6v0.8h-1.6zM847.4 302.7h1.2v0.5h-1.2zM822.5 330.6h3.4v0.8h-3.4zM852.4 313.6h2.1v1.0h-2.1zM843.1 309.3h2.9v0.7h-2.9zM864.5 311.0h3.1v0.7h-3.1zM822.6 327.9h1.8v0.5h-1.8zM872.1 339.0h3.6v0.6h-3.6zM846.9 334.8h1.0v0.5h-1.0zM831.7 303.7h1.8v1.0h-1.8zM824.9 316.0h4.9v0.9h-4.9zM836.4 317.8h1.2v0.6h-1.2zM829.8 321.5h4.8v0.8h-4.8zM822.1 330.7h0.9v0.6h-0.9zM870.2 300.0h4.8v0.8h-4.8zM858.3 303.9h2.6v0.9h-2.6zM874.2 326.4h1.8v1.1h-1.8zM821.5 329.9h2.9v0.6h-2.9zM872.3 337.1h3.9v0.7h-3.9zM845.1 301.3h2.5v1.1h-2.5zM852.3 333.2h4.2v0.7h-4.2zM833.3 303.2h3.5v1.0h-3.5zM832.7 335.3h2.8v1.0h-2.8zM849.7 313.5h1.5v0.9h-1.5zM872.3 338.2h4.5v0.7h-4.5zM837.2 320.9h2.9v0.7h-2.9zM829.8 337.2h2.8v1.1h-2.8zM835.5 337.7h2.3v0.9h-2.3zM858.4 319.0h3.0v0.7h-3.0zM827.8 327.3h3.4v0.9h-3.4zM833.0 302.3h2.3v1.0h-2.3zM870.2 322.1h2.7v0.8h-2.7zM821.5 318.5h2.0v0.5h-2.0zM864.2 316.5h2.0v1.1h-2.0zM855.6 297.3h1.1v0.8h-1.1zM871.6 320.4h4.9v0.9h-4.9zM831.2 308.1h2.9v0.9h-2.9z" fill="#b8b8b8" opacity="0.55"/>
<path d="M844.2 305.9h1.6v1.1h-1.6zM841.8 326.5h0.9v0.6h-0.9zM865.4 302.8h4.0v0.6h-4.0zM849.3 312.7h3.3v0.8h-3.3zM831.2 302.7h1.9v0.8h-1.9zM848.3 325.3h2.7v0.8h-2.7zM829.5 299.5h4.6v1.1h-4.6zM840.0 317.4h2.4v0.9h-2.4zM872.6 304.6h3.5v0.9h-3.5zM848.6 327.3h1.6v0.5h-1.6zM870.4 307.5h4.5v0.7h-4.5zM857.6 307.5h1.2v0.9h-1.2zM830.2 309.5h3.4v1.0h-3.4zM844.6 310.7h1.4v0.5h-1.4zM835.9 329.4h2.5v0.8h-2.5zM825.5 317.9h2.7v0.6h-2.7zM871.0 314.1h2.7v1.0h-2.7zM837.7 306.8h1.2v1.0h-1.2zM857.5 338.0h3.0v1.0h-3.0zM831.7 310.9h1.0v0.5h-1.0zM871.8 310.2h3.3v1.0h-3.3zM839.2 312.2h4.2v0.7h-4.2zM860.8 331.0h5.0v0.9h-5.0zM867.3 305.4h4.1v1.0h-4.1zM868.6 316.3h2.1v0.9h-2.1zM855.9 305.1h2.5v1.0h-2.5zM823.1 314.0h1.5v0.9h-1.5zM849.5 328.7h1.6v1.0h-1.6zM852.3 307.3h4.2v0.8h-4.2zM828.0 329.7h4.2v1.0h-4.2zM854.4 338.9h1.4v0.8h-1.4zM839.2 332.6h4.8v0.6h-4.8zM852.8 320.4h1.3v0.7h-1.3zM856.3 337.7h1.6v0.9h-1.6zM836.5 328.6h5.0v0.9h-5.0zM850.8 319.6h4.2v0.7h-4.2zM867.3 315.1h2.0v0.6h-2.0zM839.3 297.7h1.1v0.8h-1.1zM854.9 308.1h4.0v0.9h-4.0zM867.6 299.6h1.7v0.9h-1.7zM864.6 337.4h1.8v0.8h-1.8zM845.0 336.1h4.6v1.0h-4.6zM873.1 310.3h1.2v0.8h-1.2zM830.2 301.5h2.1v0.5h-2.1zM862.1 336.4h2.7v0.7h-2.7zM851.4 327.9h1.7v0.6h-1.7zM833.9 302.5h1.3v0.9h-1.3zM863.2 301.5h1.4v0.6h-1.4zM861.9 328.5h1.6v0.7h-1.6zM848.7 308.5h1.2v0.7h-1.2zM821.8 321.2h1.3v0.7h-1.3zM839.2 326.7h2.3v0.9h-2.3zM859.3 301.6h2.1v0.6h-2.1zM855.8 304.1h2.9v0.8h-2.9zM847.3 312.3h1.8v1.1h-1.8zM820.6 307.2h2.0v1.0h-2.0zM844.0 311.5h3.9v0.6h-3.9z" fill="#666666" opacity="0.55"/>
<path d="M856.6 296.7h4.7v0.7h-4.7zM847.3 336.8h1.8v0.8h-1.8zM869.3 304.4h3.6v0.6h-3.6zM851.4 315.6h1.8v0.6h-1.8zM853.1 323.9h2.9v1.0h-2.9zM850.9 311.4h3.2v1.1h-3.2zM838.2 308.7h2.8v0.5h-2.8zM831.1 308.6h0.9v0.9h-0.9zM860.6 329.2h2.1v0.5h-2.1zM849.5 300.1h4.5v0.8h-4.5zM852.4 308.6h2.8v1.1h-2.8zM862.7 328.3h2.5v0.6h-2.5zM866.1 325.4h2.1v0.9h-2.1zM871.3 296.7h2.5v0.7h-2.5zM873.3 336.7h4.1v1.0h-4.1zM836.1 316.6h4.4v0.9h-4.4zM868.7 299.1h3.3v1.1h-3.3zM863.5 305.6h1.7v0.9h-1.7zM850.0 302.3h2.9v1.1h-2.9zM822.7 330.3h2.7v0.6h-2.7zM874.3 305.9h2.5v0.9h-2.5zM836.1 323.4h2.3v0.8h-2.3zM861.6 321.5h2.6v1.0h-2.6zM842.5 311.3h2.5v0.7h-2.5zM838.5 323.2h4.4v0.9h-4.4zM837.7 336.6h3.3v0.9h-3.3zM870.6 323.6h2.3v0.8h-2.3zM864.6 303.1h2.0v0.7h-2.0zM860.5 332.9h2.6v0.6h-2.6zM836.9 313.7h1.3v1.0h-1.3zM852.3 310.6h2.7v1.0h-2.7zM858.1 304.3h4.3v0.7h-4.3zM850.7 335.0h1.4v1.0h-1.4zM851.6 301.9h3.8v0.5h-3.8zM834.3 312.1h1.7v0.9h-1.7zM836.2 298.8h2.5v0.8h-2.5zM874.1 297.4h3.6v0.7h-3.6zM820.3 298.5h4.5v0.5h-4.5zM832.3 300.2h1.8v1.0h-1.8zM836.0 318.1h3.5v0.8h-3.5zM856.1 314.7h2.9v0.6h-2.9zM819.0 305.7h1.2v1.0h-1.2zM856.2 305.7h2.2v0.7h-2.2zM870.0 300.5h3.1v1.1h-3.1zM870.3 320.3h1.9v0.6h-1.9zM828.8 301.9h1.5v0.8h-1.5zM835.8 321.5h4.5v0.6h-4.5zM858.0 329.6h2.0v1.0h-2.0z" fill="#d0d0d0" opacity="0.55"/>
<rect x="819.9" y="246.5" width="58.4" height="33.8" fill="#8a8a8a" rx="7" opacity="0.6"/>
<rect x="821.4" y="248.0" width="55.4" height="30.8" fill="#353535" rx="7"/>
<path d="M824.7 266.9h3.7v0.7h-3.7zM852.6 264.7h1.7v0.8h-1.7zM849.5 275.3h1.3v0.8h-1.3zM821.5 262.4h2.7v0.6h-2.7zM839.2 266.4h3.6v0.8h-3.6zM830.3 261.8h2.9v0.8h-2.9zM831.0 274.9h1.9v1.0h-1.9zM841.7 276.3h3.3v0.6h-3.3zM851.5 260.9h3.3v1.1h-3.3zM860.7 266.8h4.1v0.6h-4.1zM873.2 264.0h2.6v0.9h-2.6zM872.0 264.2h4.3v0.5h-4.3zM861.3 262.5h1.4v0.8h-1.4zM843.9 273.6h1.8v1.0h-1.8zM846.0 269.1h1.3v0.9h-1.3zM869.9 267.7h1.5v0.7h-1.5zM852.7 265.0h3.2v0.8h-3.2zM869.3 277.4h1.1v0.7h-1.1zM834.0 262.0h3.8v0.8h-3.8zM825.1 276.7h1.3v0.9h-1.3zM870.2 264.8h2.6v1.1h-2.6zM862.9 262.5h4.6v0.8h-4.6zM851.5 271.1h3.5v1.0h-3.5zM828.4 274.6h1.4v0.8h-1.4zM856.8 265.9h2.5v0.6h-2.5zM875.4 268.7h4.9v1.0h-4.9zM825.9 264.3h4.9v0.7h-4.9zM860.0 270.7h0.9v0.6h-0.9zM874.2 267.1h1.8v0.7h-1.8zM845.7 261.9h4.2v0.5h-4.2zM842.9 271.8h2.1v0.8h-2.1zM835.6 271.4h0.9v0.7h-0.9zM827.0 262.5h2.9v0.8h-2.9zM827.0 271.5h2.3v0.8h-2.3z" fill="#8a8a8a" opacity="0.55"/>
<path d="M841.0 271.9h2.7v0.6h-2.7zM839.7 262.6h4.2v0.6h-4.2zM836.1 269.1h2.8v0.7h-2.8zM867.8 266.4h2.0v1.1h-2.0zM828.3 261.4h1.3v0.7h-1.3zM848.4 268.8h3.7v0.9h-3.7zM830.9 264.0h3.1v0.5h-3.1zM847.7 271.3h3.1v0.6h-3.1zM832.3 277.4h1.9v0.7h-1.9zM853.6 272.5h1.1v0.9h-1.1zM866.5 276.8h2.4v1.0h-2.4zM844.5 263.9h1.5v1.0h-1.5zM828.0 265.6h1.9v0.7h-1.9zM868.9 265.9h2.1v1.0h-2.1zM855.5 262.9h3.1v0.9h-3.1zM831.4 270.6h2.4v0.6h-2.4zM830.0 264.1h1.9v0.8h-1.9zM856.0 276.7h4.5v0.8h-4.5zM864.4 266.0h3.6v0.7h-3.6zM856.9 265.3h4.3v0.9h-4.3zM854.6 266.9h1.4v0.7h-1.4zM822.3 263.4h1.3v0.8h-1.3zM844.1 265.1h1.4v1.0h-1.4zM827.5 268.1h2.1v0.5h-2.1zM836.5 269.2h3.3v0.9h-3.3zM870.0 265.5h2.4v0.7h-2.4zM835.4 274.6h5.0v1.1h-5.0zM830.9 265.2h1.1v1.0h-1.1zM850.2 267.9h1.6v0.9h-1.6zM849.4 264.0h2.5v0.8h-2.5zM869.8 263.9h3.3v1.1h-3.3zM872.8 267.7h4.1v0.6h-4.1zM830.9 262.7h4.7v0.9h-4.7zM864.5 271.5h5.0v0.8h-5.0zM871.5 274.8h3.6v0.7h-3.6z" fill="#b8b8b8" opacity="0.55"/>
<path d="M861.4 265.1h4.9v0.8h-4.9zM869.8 275.6h2.6v0.9h-2.6zM856.3 272.9h1.5v0.6h-1.5zM831.9 273.9h4.5v0.8h-4.5zM836.2 269.5h2.9v0.6h-2.9zM831.5 274.1h4.9v0.7h-4.9zM870.9 264.8h1.6v1.0h-1.6zM864.9 262.6h3.1v0.7h-3.1zM872.5 275.7h4.0v0.9h-4.0zM843.7 268.5h1.6v0.5h-1.6zM854.8 270.4h2.3v0.7h-2.3zM860.4 275.1h4.0v0.9h-4.0zM832.2 269.8h0.8v1.1h-0.8zM864.4 268.6h2.5v0.6h-2.5zM841.9 275.9h4.2v0.5h-4.2zM857.2 275.6h3.7v1.0h-3.7zM838.8 262.9h3.6v0.9h-3.6zM832.4 276.1h3.0v1.0h-3.0zM830.1 265.8h3.4v0.6h-3.4zM866.6 265.0h2.0v0.9h-2.0zM833.2 277.0h2.5v0.6h-2.5zM847.8 271.4h2.7v0.7h-2.7zM826.9 268.2h4.5v0.9h-4.5zM872.5 263.7h3.4v0.9h-3.4zM824.9 271.7h2.4v0.8h-2.4zM835.3 275.0h1.6v0.6h-1.6zM837.7 268.6h2.9v0.7h-2.9zM850.3 273.7h3.6v0.9h-3.6zM833.8 277.3h2.4v0.8h-2.4zM842.0 269.6h2.8v0.9h-2.8zM845.6 276.4h2.5v0.5h-2.5zM865.9 274.6h2.5v0.8h-2.5zM846.2 266.3h3.2v0.5h-3.2zM826.5 269.6h3.5v0.8h-3.5zM849.1 269.4h1.8v0.6h-1.8zM858.7 264.1h4.8v0.7h-4.8zM860.3 276.8h1.8v0.9h-1.8zM864.2 268.9h4.5v0.7h-4.5zM852.3 264.4h1.5v0.6h-1.5zM829.2 270.2h4.4v0.8h-4.4zM829.8 270.0h3.1v1.0h-3.1zM826.3 277.5h2.3v0.6h-2.3zM865.6 270.4h3.3v1.1h-3.3zM849.0 261.4h1.0v0.8h-1.0zM846.5 273.7h4.1v0.8h-4.1zM857.7 264.0h1.7v0.6h-1.7zM824.1 267.8h1.8v0.6h-1.8zM875.6 264.2h2.2v0.9h-2.2zM866.9 270.8h3.7v1.1h-3.7z" fill="#666666" opacity="0.55"/>
<path d="M868.6 268.3h4.6v1.0h-4.6zM833.0 266.1h2.9v0.6h-2.9zM833.8 266.4h4.6v0.5h-4.6zM834.7 270.8h1.8v1.0h-1.8zM851.3 266.0h3.5v0.8h-3.5zM875.1 261.7h4.1v0.8h-4.1zM830.9 271.0h2.7v0.9h-2.7zM830.6 269.5h3.0v1.1h-3.0zM850.8 264.5h1.3v0.7h-1.3zM873.5 266.9h2.2v0.8h-2.2zM845.3 274.9h0.9v1.0h-0.9zM826.2 264.3h2.1v0.9h-2.1zM826.4 276.5h3.9v0.6h-3.9zM829.2 272.7h3.4v1.0h-3.4zM848.4 276.3h2.5v0.6h-2.5zM864.2 272.3h2.0v1.0h-2.0zM870.2 266.2h1.5v0.6h-1.5zM831.9 271.8h1.5v0.9h-1.5zM823.4 273.7h5.0v0.6h-5.0zM833.6 267.9h3.5v0.8h-3.5zM857.2 261.2h3.5v0.9h-3.5zM859.7 271.3h4.1v1.0h-4.1zM846.6 269.1h4.6v0.6h-4.6zM852.0 277.4h2.1v1.1h-2.1zM846.8 268.3h4.8v0.6h-4.8zM867.5 261.2h4.5v0.6h-4.5zM856.5 272.1h3.8v1.1h-3.8zM843.8 277.0h0.9v0.8h-0.9zM867.2 275.3h4.9v0.5h-4.9zM848.9 261.2h2.9v0.8h-2.9zM862.7 261.6h4.5v1.1h-4.5z" fill="#d0d0d0" opacity="0.55"/>
<rect x="899.8" y="246.5" width="43.0" height="33.0" fill="#8a8a8a" rx="7" opacity="0.6"/>
<rect x="901.3" y="248.0" width="40.0" height="30.0" fill="#353535" rx="7"/>
<path d="M921.3 270.0h2.2v0.8h-2.2zM908.2 275.0h4.8v0.5h-4.8zM918.6 274.1h3.4v0.6h-3.4zM917.9 276.0h1.5v0.8h-1.5zM902.4 262.8h3.0v1.0h-3.0zM921.3 269.6h1.1v0.7h-1.1zM902.9 273.0h4.5v0.6h-4.5zM904.0 268.2h4.6v0.7h-4.6zM905.0 264.9h3.4v0.9h-3.4zM916.3 271.9h5.0v0.9h-5.0zM912.8 261.5h2.7v0.8h-2.7zM908.3 267.7h2.3v0.6h-2.3zM907.2 264.6h2.1v0.7h-2.1zM914.6 266.0h3.1v0.7h-3.1zM921.2 275.2h3.4v0.6h-3.4zM905.3 272.3h2.6v1.1h-2.6zM913.0 276.0h4.5v0.6h-4.5zM922.1 264.4h3.7v0.8h-3.7zM901.8 268.7h2.1v0.8h-2.1zM913.8 263.8h1.7v0.7h-1.7zM921.2 265.2h2.0v0.5h-2.0zM920.6 267.8h2.8v0.7h-2.8zM912.0 270.3h2.9v1.1h-2.9zM921.2 266.7h1.2v0.6h-1.2zM906.3 264.5h1.4v0.6h-1.4z" fill="#8a8a8a" opacity="0.55"/>
<path d="M914.9 270.2h2.6v1.0h-2.6zM918.5 269.0h3.2v0.6h-3.2zM903.9 275.2h2.8v1.0h-2.8zM914.5 266.8h3.3v0.6h-3.3zM906.9 262.5h4.4v0.7h-4.4zM915.5 270.0h4.0v1.1h-4.0zM907.0 268.4h2.4v1.1h-2.4zM916.7 266.4h4.2v0.8h-4.2zM909.7 269.9h3.3v0.9h-3.3zM912.0 267.9h3.4v0.9h-3.4zM907.6 272.0h4.1v0.9h-4.1zM917.1 271.6h3.5v0.8h-3.5zM907.7 275.6h2.5v0.5h-2.5zM917.0 262.7h3.2v0.6h-3.2zM915.0 266.3h1.4v0.7h-1.4zM915.6 263.9h2.3v0.8h-2.3zM911.7 269.1h1.2v0.7h-1.2zM916.4 272.6h4.8v0.5h-4.8zM905.8 274.8h1.9v0.8h-1.9zM915.6 270.2h1.4v1.0h-1.4zM912.3 276.8h4.5v0.8h-4.5zM921.1 268.6h2.6v0.5h-2.6z" fill="#b8b8b8" opacity="0.55"/>
<path d="M914.9 269.4h3.4v0.8h-3.4zM920.9 263.5h4.0v0.6h-4.0zM906.2 272.2h1.8v0.7h-1.8zM921.3 261.8h2.5v0.8h-2.5zM901.3 274.9h4.2v0.6h-4.2zM917.9 271.1h1.2v1.0h-1.2zM913.5 265.3h3.7v1.0h-3.7zM915.8 262.8h1.8v0.9h-1.8zM911.0 261.3h4.5v0.7h-4.5zM904.0 267.0h3.0v0.9h-3.0zM901.4 275.1h2.9v0.6h-2.9zM912.2 276.8h1.8v0.9h-1.8zM902.5 263.4h3.2v0.6h-3.2zM905.9 268.9h2.1v0.5h-2.1zM903.3 263.3h1.5v0.6h-1.5zM902.0 272.7h1.0v0.8h-1.0zM918.1 272.4h2.7v1.0h-2.7zM906.0 264.2h2.9v0.8h-2.9zM905.3 275.5h2.0v0.8h-2.0zM917.4 272.1h4.7v0.7h-4.7zM921.9 261.0h1.9v1.1h-1.9zM918.4 265.1h1.8v1.0h-1.8zM907.9 261.0h0.9v1.0h-0.9zM921.2 268.9h2.6v0.6h-2.6zM916.9 266.4h3.0v1.0h-3.0zM908.4 263.0h3.2v0.8h-3.2zM905.4 269.9h2.2v0.6h-2.2zM903.5 269.6h2.3v0.5h-2.3zM918.6 268.4h4.7v0.7h-4.7zM910.7 270.4h0.9v1.1h-0.9zM920.1 267.6h4.2v0.6h-4.2z" fill="#666666" opacity="0.55"/>
<path d="M909.6 266.4h1.8v0.8h-1.8zM905.3 272.2h4.9v0.6h-4.9zM903.4 265.4h4.0v0.7h-4.0zM910.8 262.3h4.2v0.8h-4.2zM910.7 266.4h1.6v0.9h-1.6zM903.8 267.9h2.6v0.7h-2.6zM915.0 268.6h2.0v1.0h-2.0zM903.9 261.8h3.4v0.6h-3.4zM915.0 272.8h2.4v0.6h-2.4zM912.4 265.5h3.6v0.7h-3.6zM920.0 273.4h4.3v0.7h-4.3zM901.8 274.5h2.5v1.1h-2.5zM905.9 273.0h2.4v1.0h-2.4zM906.1 266.9h1.2v1.1h-1.2zM916.0 268.2h2.4v0.9h-2.4zM902.8 269.2h2.3v0.6h-2.3zM911.9 268.0h1.9v0.7h-1.9zM909.0 272.1h3.2v0.8h-3.2zM913.7 273.0h1.1v1.0h-1.1zM917.9 264.3h2.9v0.5h-2.9zM917.6 267.5h4.8v0.7h-4.8zM904.1 271.8h1.6v0.8h-1.6zM912.4 263.2h4.8v0.9h-4.8zM917.7 268.4h1.3v0.6h-1.3zM921.9 266.4h2.2v0.7h-2.2zM917.9 263.6h2.5v0.6h-2.5zM917.0 264.1h4.0v0.7h-4.0z" fill="#d0d0d0" opacity="0.55"/>
<rect x="758.5" y="294.7" width="38.6" height="47.0" fill="#8a8a8a" rx="7" opacity="0.6"/>
<rect x="760.0" y="296.2" width="35.6" height="44.0" fill="#353535" rx="7"/>
<path d="M789.5 320.4h3.5v1.0h-3.5zM789.2 328.7h3.6v0.9h-3.6zM786.8 309.0h3.0v0.6h-3.0zM786.5 296.9h3.3v0.7h-3.3zM788.9 310.1h4.7v0.7h-4.7zM788.5 306.9h1.2v0.9h-1.2zM786.3 334.6h3.3v0.8h-3.3zM784.7 333.7h4.9v0.9h-4.9zM792.3 325.3h4.9v1.0h-4.9zM790.9 301.1h3.7v1.0h-3.7zM786.7 332.7h1.0v1.1h-1.0zM792.3 320.0h2.5v1.0h-2.5zM784.9 338.5h2.0v0.7h-2.0zM784.4 331.9h4.6v0.8h-4.6zM793.0 325.8h1.3v0.7h-1.3zM787.5 336.3h4.2v0.6h-4.2zM792.3 320.8h4.0v0.8h-4.0zM787.6 310.0h2.7v1.0h-2.7zM792.5 309.3h1.9v1.0h-1.9zM788.3 320.2h3.1v0.8h-3.1zM791.3 336.2h3.5v1.0h-3.5zM791.8 317.1h3.7v0.7h-3.7zM790.9 298.1h2.4v1.1h-2.4zM784.2 308.0h1.7v0.6h-1.7zM790.7 318.0h4.8v0.7h-4.8zM792.6 302.3h2.2v0.9h-2.2zM784.2 298.3h0.9v0.7h-0.9zM787.7 302.4h1.1v0.9h-1.1zM792.7 299.9h3.4v0.8h-3.4zM791.2 327.0h2.7v0.9h-2.7zM793.0 310.0h4.9v0.5h-4.9zM786.4 306.1h4.7v0.9h-4.7zM793.9 325.0h3.9v0.9h-3.9zM793.9 304.9h3.5v0.6h-3.5zM791.9 332.6h4.8v1.1h-4.8zM790.5 331.0h1.0v0.7h-1.0zM793.8 319.1h2.1v0.7h-2.1zM784.2 329.3h2.0v1.0h-2.0zM784.0 314.2h4.6v1.0h-4.6zM792.9 300.1h4.1v0.8h-4.1zM790.0 303.3h3.7v1.1h-3.7zM793.9 306.2h1.7v0.8h-1.7zM787.3 301.5h1.1v0.6h-1.1z" fill="#8a8a8a" opacity="0.55"/>
<path d="M785.2 317.5h2.7v0.7h-2.7zM793.5 336.3h3.6v0.8h-3.6zM787.1 326.4h2.7v0.9h-2.7zM786.0 301.9h4.6v0.6h-4.6zM787.1 317.7h1.2v0.6h-1.2zM785.2 303.7h1.6v1.0h-1.6zM784.3 298.8h3.5v1.0h-3.5zM785.7 313.5h2.1v0.6h-2.1zM784.0 332.2h4.9v1.0h-4.9zM789.7 317.1h3.2v0.8h-3.2zM785.3 311.1h4.3v0.5h-4.3zM791.1 305.2h3.1v1.1h-3.1zM791.8 325.8h3.3v0.7h-3.3zM793.0 315.5h3.9v1.0h-3.9zM793.0 308.9h2.2v0.7h-2.2zM790.2 338.4h2.6v0.6h-2.6zM790.4 334.8h2.0v0.6h-2.0zM790.7 328.0h2.2v0.6h-2.2zM784.8 301.3h4.3v0.7h-4.3zM789.5 304.3h2.5v0.8h-2.5zM793.3 319.0h1.9v0.7h-1.9z" fill="#b8b8b8" opacity="0.55"/>
<path d="M787.6 331.6h4.1v0.6h-4.1zM786.2 300.8h4.9v0.6h-4.9zM788.5 314.8h1.3v0.8h-1.3zM786.0 330.9h2.7v0.6h-2.7zM785.9 327.2h2.6v1.0h-2.6zM790.6 323.6h1.3v0.7h-1.3zM787.4 305.0h4.3v0.8h-4.3zM794.4 307.7h3.1v0.6h-3.1zM787.9 298.3h4.9v0.6h-4.9zM787.5 305.1h1.5v1.0h-1.5zM785.5 323.9h3.0v0.9h-3.0zM788.6 299.2h0.8v0.9h-0.8zM793.0 322.2h3.9v1.1h-3.9zM790.1 324.3h1.2v0.7h-1.2zM785.7 323.3h4.7v0.6h-4.7zM793.5 324.1h2.9v0.6h-2.9zM787.4 306.5h2.1v0.6h-2.1zM787.4 302.5h4.1v1.0h-4.1zM788.6 297.9h3.7v0.9h-3.7zM791.3 315.6h2.3v1.0h-2.3zM789.2 303.8h4.4v1.0h-4.4zM790.4 310.3h2.4v0.9h-2.4zM792.0 336.9h4.6v0.7h-4.6zM784.7 319.5h3.3v1.0h-3.3zM786.7 297.3h3.0v1.1h-3.0zM790.9 300.3h1.8v0.9h-1.8zM789.6 308.0h4.9v1.1h-4.9zM791.6 301.9h0.8v0.6h-0.8zM784.8 306.5h3.2v0.8h-3.2zM793.2 304.9h2.6v0.9h-2.6zM788.4 337.5h1.6v1.0h-1.6zM786.4 310.2h1.1v1.0h-1.1z" fill="#666666" opacity="0.55"/>
<path d="M791.1 315.5h4.6v0.6h-4.6zM794.4 327.0h1.3v0.9h-1.3zM788.5 305.5h4.6v1.1h-4.6zM792.7 309.3h3.8v0.6h-3.8zM793.7 339.1h4.3v0.6h-4.3zM793.2 299.6h0.9v0.8h-0.9zM789.8 330.9h1.6v0.8h-1.6zM785.4 337.1h2.3v0.8h-2.3zM785.6 310.3h3.2v0.9h-3.2zM785.9 336.5h0.9v0.6h-0.9zM787.6 302.8h3.7v0.7h-3.7zM787.7 326.0h3.9v1.0h-3.9zM789.9 321.6h3.7v0.7h-3.7zM791.2 337.2h1.4v0.6h-1.4zM792.0 336.1h1.7v0.9h-1.7zM785.7 318.9h3.0v1.0h-3.0zM793.5 326.9h4.8v0.5h-4.8zM784.1 316.8h3.1v0.8h-3.1zM788.2 306.2h2.8v0.6h-2.8zM789.7 332.5h3.5v0.8h-3.5zM793.7 330.1h0.9v0.8h-0.9zM787.0 297.9h2.8v0.8h-2.8zM785.1 312.2h4.9v1.1h-4.9zM784.8 320.1h3.7v0.9h-3.7zM792.7 297.0h4.5v0.7h-4.5zM791.1 332.4h4.9v0.9h-4.9zM784.6 330.5h3.1v1.0h-3.1zM787.4 309.8h2.6v1.1h-2.6zM789.0 303.0h4.7v1.0h-4.7zM785.1 323.2h4.1v0.6h-4.1zM791.2 313.9h4.4v0.6h-4.4zM793.2 317.5h2.4v0.6h-2.4zM793.1 317.9h2.7v1.0h-2.7zM794.3 332.1h0.9v1.1h-0.9zM784.2 323.5h2.3v1.0h-2.3zM792.8 325.1h1.4v0.5h-1.4zM791.3 322.3h2.5v0.6h-2.5zM787.7 324.8h2.4v1.0h-2.4zM784.1 304.9h1.6v0.7h-1.6zM790.1 313.7h4.4v0.9h-4.4z" fill="#d0d0d0" opacity="0.55"/>
<rect x="898.5" y="294.7" width="43.0" height="49.0" fill="#8a8a8a" rx="7" opacity="0.6"/>
<rect x="900.0" y="296.2" width="40.0" height="46.0" fill="#353535" rx="7"/>
<path d="M915.8 297.6h4.4v0.6h-4.4zM906.0 319.1h4.7v0.6h-4.7zM912.4 329.1h3.5v0.9h-3.5zM915.0 302.1h1.3v0.6h-1.3zM918.7 336.3h2.7v0.6h-2.7zM920.2 325.7h1.1v0.7h-1.1zM921.2 297.0h4.9v0.5h-4.9zM916.3 324.9h4.0v0.8h-4.0zM910.7 329.3h4.6v0.8h-4.6zM915.3 318.5h4.2v0.7h-4.2zM903.0 321.6h1.7v0.7h-1.7zM918.9 311.2h3.5v0.9h-3.5zM902.6 305.7h2.8v1.1h-2.8zM915.7 307.7h5.0v0.8h-5.0zM911.0 317.3h4.4v0.6h-4.4zM910.3 307.7h1.1v0.7h-1.1zM905.4 310.8h3.9v0.6h-3.9zM911.9 300.6h4.0v1.1h-4.0zM906.0 324.8h1.2v0.5h-1.2zM917.5 327.3h0.8v0.6h-0.8zM913.1 305.6h1.1v0.6h-1.1zM905.5 340.4h1.2v0.7h-1.2zM909.6 319.0h1.6v0.6h-1.6zM914.9 299.8h1.3v0.6h-1.3zM905.4 321.6h4.8v0.8h-4.8zM902.6 302.1h4.6v0.6h-4.6zM910.5 331.6h1.8v0.6h-1.8zM921.4 318.1h2.0v0.8h-2.0zM914.9 318.7h3.7v0.9h-3.7zM912.4 303.6h1.3v1.0h-1.3zM902.4 312.4h2.0v0.8h-2.0zM912.7 329.0h1.7v1.0h-1.7zM916.4 318.7h2.9v0.6h-2.9zM901.9 314.5h1.7v0.8h-1.7zM903.1 336.0h1.0v1.1h-1.0zM919.5 318.8h4.9v0.8h-4.9zM909.9 310.5h4.7v0.7h-4.7zM910.8 338.2h3.9v1.0h-3.9zM907.3 340.3h2.3v0.8h-2.3zM912.9 297.0h3.9v0.6h-3.9zM921.8 318.2h3.0v0.5h-3.0zM901.9 301.7h1.7v1.1h-1.7z" fill="#8a8a8a" opacity="0.55"/>
<path d="M912.4 312.7h1.5v0.6h-1.5zM915.6 334.7h2.8v1.0h-2.8zM922.5 296.4h4.8v0.8h-4.8zM903.9 311.8h1.1v1.0h-1.1zM913.1 326.5h4.7v0.7h-4.7zM909.7 320.1h1.9v0.7h-1.9zM914.6 324.9h1.4v0.7h-1.4zM922.7 327.4h3.2v0.8h-3.2zM905.3 318.0h1.6v0.8h-1.6zM913.6 298.5h4.4v1.1h-4.4zM907.4 313.2h1.5v0.7h-1.5zM909.7 337.8h1.2v1.0h-1.2zM911.1 305.8h4.8v0.6h-4.8zM907.3 317.5h1.6v0.8h-1.6zM909.4 326.5h1.9v1.1h-1.9zM916.2 336.5h4.6v1.0h-4.6zM901.9 327.9h4.7v0.8h-4.7zM902.4 300.5h4.5v0.9h-4.5zM906.5 332.4h1.5v1.0h-1.5zM906.1 333.7h3.3v0.9h-3.3zM901.4 326.4h1.1v0.6h-1.1zM916.4 323.2h4.4v1.0h-4.4zM901.4 321.5h1.6v0.9h-1.6zM908.4 337.9h1.3v1.0h-1.3zM912.5 333.3h4.8v0.9h-4.8zM911.0 329.6h4.4v0.5h-4.4zM914.9 327.3h4.2v0.8h-4.2zM907.9 333.4h1.6v0.7h-1.6zM911.0 311.9h2.6v0.7h-2.6zM905.3 334.1h4.5v1.0h-4.5zM922.6 297.1h2.1v1.1h-2.1zM921.3 330.3h1.0v0.6h-1.0zM904.4 298.4h2.4v0.8h-2.4zM915.2 320.5h4.7v0.5h-4.7z" fill="#b8b8b8" opacity="0.55"/>
<path d="M905.2 309.8h4.4v0.6h-4.4zM907.4 297.1h2.5v0.7h-2.5zM904.5 322.0h3.0v0.9h-3.0zM921.3 340.2h3.2v1.1h-3.2zM917.2 300.9h3.2v1.1h-3.2zM900.6 317.4h2.7v0.7h-2.7zM914.3 300.1h3.4v0.8h-3.4zM903.4 339.7h3.3v1.0h-3.3zM922.8 321.6h3.8v0.6h-3.8zM906.5 337.5h2.4v0.9h-2.4zM916.6 306.8h2.5v0.9h-2.5zM904.8 331.6h1.4v0.5h-1.4zM917.4 318.7h3.0v0.6h-3.0zM906.9 326.8h2.2v0.6h-2.2zM914.4 297.3h1.8v0.5h-1.8zM915.6 303.4h2.2v0.8h-2.2zM920.9 317.3h4.7v0.8h-4.7zM903.7 313.8h2.3v0.6h-2.3zM900.4 302.8h2.4v0.8h-2.4zM913.1 304.4h4.5v0.6h-4.5zM916.7 302.6h4.1v1.0h-4.1zM903.7 309.5h2.1v0.8h-2.1zM906.2 339.9h3.6v0.5h-3.6zM912.6 297.2h2.9v0.7h-2.9zM911.6 299.4h2.4v0.7h-2.4zM908.2 299.7h1.9v0.7h-1.9zM920.1 299.3h2.9v0.8h-2.9zM900.5 324.3h4.2v0.5h-4.2zM910.6 307.1h3.1v0.6h-3.1zM918.0 312.6h2.1v0.7h-2.1zM901.3 299.0h2.0v1.1h-2.0zM904.0 340.9h3.9v0.8h-3.9zM909.5 314.3h4.0v0.8h-4.0zM916.0 331.3h1.1v0.8h-1.1zM909.4 328.1h2.0v0.9h-2.0zM916.0 329.8h4.3v0.8h-4.3zM917.6 335.1h3.5v0.6h-3.5zM900.6 302.0h4.8v1.0h-4.8zM911.2 305.3h3.2v0.9h-3.2zM920.0 309.4h4.5v0.8h-4.5zM919.0 303.2h1.0v0.5h-1.0zM901.0 335.9h2.6v0.8h-2.6z" fill="#666666" opacity="0.55"/>
<path d="M914.1 306.4h3.8v1.0h-3.8zM903.4 335.1h2.5v0.7h-2.5zM900.1 306.7h3.9v0.8h-3.9zM914.3 324.1h3.4v0.9h-3.4zM904.7 304.5h2.9v1.1h-2.9zM912.1 311.5h1.8v0.9h-1.8zM904.9 321.8h4.9v1.0h-4.9zM916.1 328.8h2.9v0.8h-2.9zM901.7 335.9h2.1v0.8h-2.1zM911.4 320.1h2.7v0.7h-2.7zM907.3 329.6h2.0v0.7h-2.0zM908.1 332.8h1.3v1.0h-1.3zM908.4 334.5h1.1v1.0h-1.1zM915.9 305.3h1.3v1.0h-1.3zM914.0 337.4h4.6v0.9h-4.6zM921.4 337.7h2.1v1.0h-2.1zM922.1 336.2h1.4v0.8h-1.4zM922.5 296.7h1.6v0.7h-1.6zM911.6 317.5h4.2v0.6h-4.2zM907.5 300.1h4.3v0.6h-4.3zM902.8 331.8h4.9v1.0h-4.9zM908.6 314.2h2.0v0.9h-2.0zM913.2 340.6h2.3v0.8h-2.3zM907.2 323.2h0.9v0.8h-0.9zM900.7 325.0h1.7v0.7h-1.7zM902.0 297.1h2.2v1.1h-2.2zM900.2 299.1h4.4v0.9h-4.4zM901.7 335.3h4.6v1.0h-4.6zM905.1 321.6h1.9v0.7h-1.9zM901.1 327.9h4.5v1.0h-4.5zM911.9 304.4h2.8v0.9h-2.8zM919.4 321.8h1.3v0.7h-1.3zM914.7 313.7h1.1v1.1h-1.1zM914.4 316.0h4.4v0.8h-4.4zM908.1 323.9h1.7v0.9h-1.7zM911.2 335.2h1.2v0.5h-1.2zM905.4 313.1h1.1v1.0h-1.1zM914.1 315.8h4.5v0.9h-4.5zM901.9 328.1h3.5v0.5h-3.5zM917.6 325.8h1.0v1.1h-1.0zM922.0 301.3h4.3v0.6h-4.3zM901.0 316.7h3.3v0.8h-3.3z" fill="#d0d0d0" opacity="0.55"/>
<rect x="817.3" y="356.5" width="57.0" height="23.0" fill="#8a8a8a" rx="7" opacity="0.6"/>
<rect x="818.8" y="358.0" width="54.0" height="20.0" fill="#353535" rx="7"/>
<path d="M837.9 362.4h4.1v0.5h-4.1zM840.6 362.1h3.1v0.8h-3.1zM853.8 358.1h4.3v0.6h-4.3zM833.8 360.8h1.1v0.8h-1.1zM857.1 361.8h0.8v0.9h-0.8zM822.7 362.2h4.2v0.6h-4.2zM825.7 360.7h2.1v0.8h-2.1zM863.5 359.0h2.9v1.1h-2.9zM836.5 358.1h1.3v0.9h-1.3zM832.7 359.3h3.3v1.1h-3.3zM832.9 358.5h1.4v1.0h-1.4zM870.2 362.4h1.9v1.0h-1.9zM865.7 359.8h1.1v1.0h-1.1zM819.1 359.6h3.7v0.6h-3.7zM863.0 363.4h4.0v0.9h-4.0zM842.0 359.1h4.4v1.0h-4.4zM853.6 363.1h2.0v1.1h-2.0zM857.1 361.0h1.6v1.1h-1.6zM857.2 360.1h2.0v0.7h-2.0zM852.5 361.2h2.0v1.0h-2.0zM822.3 359.5h5.0v0.7h-5.0zM848.7 362.6h3.3v1.0h-3.3zM826.1 362.2h2.9v1.1h-2.9zM831.3 361.7h3.3v0.8h-3.3zM843.0 358.0h4.6v1.1h-4.6zM862.9 361.1h4.0v0.7h-4.0zM828.1 360.2h4.6v1.0h-4.6zM840.6 359.5h1.4v0.9h-1.4zM840.3 358.0h4.6v0.6h-4.6zM820.9 361.3h1.6v0.6h-1.6zM820.8 363.9h1.7v1.0h-1.7z" fill="#8a8a8a" opacity="0.55"/>
<path d="M838.4 361.0h2.8v0.5h-2.8zM841.7 363.0h4.7v0.7h-4.7zM843.4 358.6h0.9v0.5h-0.9zM823.7 361.2h2.3v0.6h-2.3zM822.2 359.2h4.8v0.6h-4.8zM866.7 360.7h1.5v0.7h-1.5zM848.0 363.3h4.2v0.8h-4.2zM828.5 359.1h4.6v0.9h-4.6zM826.8 360.9h1.1v0.9h-1.1zM858.5 358.4h2.8v0.8h-2.8zM832.6 359.2h1.9v0.9h-1.9zM822.5 363.0h4.4v1.0h-4.4zM869.3 361.0h3.0v0.8h-3.0zM855.3 361.1h4.4v0.9h-4.4zM842.3 363.8h3.6v0.5h-3.6zM833.9 360.7h2.3v0.5h-2.3zM848.4 361.8h1.1v1.0h-1.1zM855.4 360.0h4.1v0.8h-4.1zM821.3 363.7h4.2v0.5h-4.2zM854.1 362.0h3.5v0.6h-3.5zM839.3 363.9h2.5v1.1h-2.5zM832.8 359.3h3.9v0.8h-3.9zM854.0 362.9h2.7v0.7h-2.7zM869.7 360.8h2.0v0.6h-2.0zM855.9 363.5h3.9v0.7h-3.9zM833.8 360.5h3.1v0.5h-3.1zM859.6 359.4h3.4v0.9h-3.4z" fill="#b8b8b8" opacity="0.55"/>
<path d="M856.5 363.7h3.7v0.9h-3.7zM870.1 363.7h1.9v1.0h-1.9zM837.3 362.7h4.0v0.6h-4.0zM826.4 362.0h4.7v0.6h-4.7zM819.2 358.7h1.5v1.0h-1.5zM846.7 359.0h4.6v0.8h-4.6zM862.6 358.5h4.0v0.8h-4.0zM858.4 358.0h2.8v0.9h-2.8zM829.1 360.4h0.9v0.8h-0.9zM861.1 363.2h0.9v1.0h-0.9zM846.9 362.0h3.0v0.8h-3.0zM858.5 360.1h3.6v0.7h-3.6zM821.6 361.2h4.0v0.8h-4.0zM849.1 363.7h1.2v1.0h-1.2zM850.0 363.3h2.7v0.8h-2.7zM837.9 363.4h4.7v0.6h-4.7zM825.1 359.6h4.1v0.9h-4.1zM863.2 362.5h2.2v0.5h-2.2z" fill="#666666" opacity="0.55"/>
<path d="M844.5 361.7h3.0v0.5h-3.0zM830.7 358.8h1.2v1.0h-1.2zM852.0 358.6h4.1v0.8h-4.1zM829.5 358.9h2.3v0.8h-2.3zM846.1 362.4h1.6v0.7h-1.6zM845.2 358.1h2.5v1.0h-2.5zM856.2 360.2h1.7v0.8h-1.7zM851.6 360.3h4.0v0.7h-4.0zM831.4 362.2h2.9v0.9h-2.9zM843.7 362.6h3.8v1.1h-3.8zM854.3 360.4h3.2v0.9h-3.2zM819.6 358.3h1.8v0.8h-1.8zM856.1 361.5h1.3v1.0h-1.3zM860.1 361.1h1.1v1.0h-1.1zM849.7 361.5h1.7v0.8h-1.7zM826.5 362.8h4.2v0.7h-4.2zM859.1 360.5h2.6v0.7h-2.6zM867.3 362.0h1.0v0.7h-1.0z" fill="#d0d0d0" opacity="0.55"/>
</g>
<clipPath id="cp7"><rect x="931.1" y="261.8" width="137.69999999999993" height="103.0"/></clipPath><g clip-path="url(#cp7)">
<rect x="931.1" y="261.8" width="137.7" height="103.0" fill="#6b6058" />
<rect x="936.3" y="259.7" width="8" height="6.6" rx="2.8" fill="#ee8c33"/>
<rect x="936.3" y="269.7" width="8" height="6.6" rx="2.8" fill="#ee8c33"/>
<rect x="936.3" y="287.1" width="8" height="6.6" rx="2.8" fill="#ee8c33"/>
<rect x="936.3" y="298.4" width="8" height="6.6" rx="2.8" fill="#ee8c33"/>
<rect x="936.3" y="309.7" width="8" height="6.6" rx="2.8" fill="#ee8c33"/>
<rect x="936.3" y="320.9" width="8" height="6.6" rx="2.8" fill="#ee8c33"/>
<rect x="936.3" y="332.2" width="8" height="6.6" rx="2.8" fill="#ee8c33"/>
<rect x="936.3" y="343.5" width="8" height="6.6" rx="2.8" fill="#ee8c33"/>
<rect x="936.3" y="362.7" width="8" height="6.6" rx="2.8" fill="#ee8c33"/>
<rect x="950.0" y="259.7" width="8" height="6.6" rx="2.8" fill="#ee8c33"/>
<rect x="950.0" y="269.7" width="8" height="6.6" rx="2.8" fill="#ee8c33"/>
<rect x="950.0" y="287.1" width="8" height="6.6" rx="2.8" fill="#ee8c33"/>
<rect x="950.0" y="298.4" width="8" height="6.6" rx="2.8" fill="#ee8c33"/>
<rect x="950.0" y="309.7" width="8" height="6.6" rx="2.8" fill="#ee8c33"/>
<rect x="950.0" y="320.9" width="8" height="6.6" rx="2.8" fill="#ee8c33"/>
<rect x="950.0" y="332.2" width="8" height="6.6" rx="2.8" fill="#ee8c33"/>
<rect x="950.0" y="343.5" width="8" height="6.6" rx="2.8" fill="#ee8c33"/>
<rect x="950.0" y="362.7" width="8" height="6.6" rx="2.8" fill="#ee8c33"/>
<rect x="971.7" y="259.7" width="8" height="6.6" rx="2.8" fill="#ee8c33"/>
<rect x="971.7" y="269.7" width="8" height="6.6" rx="2.8" fill="#ee8c33"/>
<rect x="971.7" y="287.1" width="8" height="6.6" rx="2.8" fill="#ee8c33"/>
<rect x="971.7" y="298.4" width="8" height="6.6" rx="2.8" fill="#ee8c33"/>
<rect x="971.7" y="309.7" width="8" height="6.6" rx="2.8" fill="#ee8c33"/>
<rect x="971.7" y="320.9" width="8" height="6.6" rx="2.8" fill="#ee8c33"/>
<rect x="971.7" y="332.2" width="8" height="6.6" rx="2.8" fill="#ee8c33"/>
<rect x="971.7" y="343.5" width="8" height="6.6" rx="2.8" fill="#ee8c33"/>
<rect x="971.7" y="362.7" width="8" height="6.6" rx="2.8" fill="#ee8c33"/>
<rect x="985.4" y="259.7" width="8" height="6.6" rx="2.8" fill="#ee8c33"/>
<rect x="985.4" y="269.7" width="8" height="6.6" rx="2.8" fill="#ee8c33"/>
<rect x="985.4" y="287.1" width="8" height="6.6" rx="2.8" fill="#ee8c33"/>
<rect x="985.4" y="298.4" width="8" height="6.6" rx="2.8" fill="#ee8c33"/>
<rect x="985.4" y="309.7" width="8" height="6.6" rx="2.8" fill="#ee8c33"/>
<rect x="985.4" y="320.9" width="8" height="6.6" rx="2.8" fill="#ee8c33"/>
<rect x="985.4" y="332.2" width="8" height="6.6" rx="2.8" fill="#ee8c33"/>
<rect x="985.4" y="343.5" width="8" height="6.6" rx="2.8" fill="#ee8c33"/>
<rect x="985.4" y="362.7" width="8" height="6.6" rx="2.8" fill="#ee8c33"/>
<rect x="999.1" y="259.7" width="8" height="6.6" rx="2.8" fill="#ee8c33"/>
<rect x="999.1" y="269.7" width="8" height="6.6" rx="2.8" fill="#ee8c33"/>
<rect x="999.1" y="287.1" width="8" height="6.6" rx="2.8" fill="#ee8c33"/>
<rect x="999.1" y="298.4" width="8" height="6.6" rx="2.8" fill="#ee8c33"/>
<rect x="999.1" y="309.7" width="8" height="6.6" rx="2.8" fill="#ee8c33"/>
<rect x="999.1" y="320.9" width="8" height="6.6" rx="2.8" fill="#ee8c33"/>
<rect x="999.1" y="332.2" width="8" height="6.6" rx="2.8" fill="#ee8c33"/>
<rect x="999.1" y="343.5" width="8" height="6.6" rx="2.8" fill="#ee8c33"/>
<rect x="999.1" y="362.7" width="8" height="6.6" rx="2.8" fill="#ee8c33"/>
<rect x="1012.0" y="259.7" width="8" height="6.6" rx="2.8" fill="#ee8c33"/>
<rect x="1012.0" y="269.7" width="8" height="6.6" rx="2.8" fill="#ee8c33"/>
<rect x="1012.0" y="287.1" width="8" height="6.6" rx="2.8" fill="#ee8c33"/>
<rect x="1012.0" y="298.4" width="8" height="6.6" rx="2.8" fill="#ee8c33"/>
<rect x="1012.0" y="309.7" width="8" height="6.6" rx="2.8" fill="#ee8c33"/>
<rect x="1012.0" y="320.9" width="8" height="6.6" rx="2.8" fill="#ee8c33"/>
<rect x="1012.0" y="332.2" width="8" height="6.6" rx="2.8" fill="#ee8c33"/>
<rect x="1012.0" y="343.5" width="8" height="6.6" rx="2.8" fill="#ee8c33"/>
<rect x="1012.0" y="362.7" width="8" height="6.6" rx="2.8" fill="#ee8c33"/>
<rect x="1025.7" y="259.7" width="8" height="6.6" rx="2.8" fill="#ee8c33"/>
<rect x="1025.7" y="269.7" width="8" height="6.6" rx="2.8" fill="#ee8c33"/>
<rect x="1025.7" y="287.1" width="8" height="6.6" rx="2.8" fill="#ee8c33"/>
<rect x="1025.7" y="298.4" width="8" height="6.6" rx="2.8" fill="#ee8c33"/>
<rect x="1025.7" y="309.7" width="8" height="6.6" rx="2.8" fill="#ee8c33"/>
<rect x="1025.7" y="320.9" width="8" height="6.6" rx="2.8" fill="#ee8c33"/>
<rect x="1025.7" y="332.2" width="8" height="6.6" rx="2.8" fill="#ee8c33"/>
<rect x="1025.7" y="343.5" width="8" height="6.6" rx="2.8" fill="#ee8c33"/>
<rect x="1025.7" y="362.7" width="8" height="6.6" rx="2.8" fill="#ee8c33"/>
<rect x="1045.8" y="259.7" width="8" height="6.6" rx="2.8" fill="#ee8c33"/>
<rect x="1045.8" y="269.7" width="8" height="6.6" rx="2.8" fill="#ee8c33"/>
<rect x="1045.8" y="287.1" width="8" height="6.6" rx="2.8" fill="#ee8c33"/>
<rect x="1045.8" y="298.4" width="8" height="6.6" rx="2.8" fill="#ee8c33"/>
<rect x="1045.8" y="309.7" width="8" height="6.6" rx="2.8" fill="#ee8c33"/>
<rect x="1045.8" y="320.9" width="8" height="6.6" rx="2.8" fill="#ee8c33"/>
<rect x="1045.8" y="332.2" width="8" height="6.6" rx="2.8" fill="#ee8c33"/>
<rect x="1045.8" y="343.5" width="8" height="6.6" rx="2.8" fill="#ee8c33"/>
<rect x="1045.8" y="362.7" width="8" height="6.6" rx="2.8" fill="#ee8c33"/>
<rect x="1059.5" y="259.7" width="8" height="6.6" rx="2.8" fill="#ee8c33"/>
<rect x="1059.5" y="269.7" width="8" height="6.6" rx="2.8" fill="#ee8c33"/>
<rect x="1059.5" y="287.1" width="8" height="6.6" rx="2.8" fill="#ee8c33"/>
<rect x="1059.5" y="298.4" width="8" height="6.6" rx="2.8" fill="#ee8c33"/>
<rect x="1059.5" y="309.7" width="8" height="6.6" rx="2.8" fill="#ee8c33"/>
<rect x="1059.5" y="320.9" width="8" height="6.6" rx="2.8" fill="#ee8c33"/>
<rect x="1059.5" y="332.2" width="8" height="6.6" rx="2.8" fill="#ee8c33"/>
<rect x="1059.5" y="343.5" width="8" height="6.6" rx="2.8" fill="#ee8c33"/>
<rect x="1059.5" y="362.7" width="8" height="6.6" rx="2.8" fill="#ee8c33"/>
<rect x="964.0" y="261.8" width="2.0" height="103.0" fill="#ea8530" />
<rect x="1039.6" y="261.8" width="2.0" height="103.0" fill="#ea8530" />
<rect x="931.1" y="281.0" width="137.7" height="2.0" fill="#ea8530" />
<rect x="931.1" y="355.8" width="137.7" height="2.0" fill="#ea8530" />
</g>
<defs><pattern id="pt2d" x="0" y="0" width="3.4" height="3.4" patternUnits="userSpaceOnUse"><rect width="3.4" height="3.4" fill="#94705a"/><rect x="0.9" y="0.9" width="2.1" height="2.1" fill="#3a2214"/></pattern></defs>
<clipPath id="cp8"><rect x="1077.2" y="261.4" width="140.5999999999999" height="103.40000000000003"/></clipPath><g clip-path="url(#cp8)">
<rect x="1077.2" y="261.4" width="140.6" height="103.4" fill="#d8d8da" />
<rect x="1077.2" y="261.4" width="140.6" height="42.0" fill="#5a5a5c" />
<rect x="1077.2" y="303.4" width="140.6" height="18.0" fill="#b5b5b8" />
<polygon points="1092.5,271.1 1210.8,268.7 1208.4,358.0 1089.3,344.4" fill="#ae7a5e" />
<polygon points="1111.0,275.9 1185.9,274.3 1182.6,351.6 1107.0,342.8" fill="url(#pt2d)" stroke="#3a2214" stroke-width="1.5"/>
<polygon points="1150.0,285.0 1175.0,280.0 1180.0,300.0 1160.0,310.0 1150.0,300.0" fill="#2a1810" opacity="0.5"/>
<polygon points="1115.0,300.0 1130.0,298.0 1128.0,330.0 1112.0,325.0" fill="#2a1810" opacity="0.4"/>
</g>
<clipPath id="cp9"><rect x="1269.9" y="261.2" width="107.09999999999991" height="107.19999999999999"/></clipPath><g clip-path="url(#cp9)">
<rect x="1269.9" y="261.2" width="107.1" height="107.2" fill="#8e4c12" />
<rect x="1272" y="265.8" width="102.5" height="15.2" fill="none" stroke="#b89066" stroke-width="1.1"/>
<line x1="1282.2" y1="265.8" x2="1282.2" y2="281.0" stroke="#b89066" stroke-width="1.1"/>
<line x1="1292.5" y1="265.8" x2="1292.5" y2="281.0" stroke="#b89066" stroke-width="1.1"/>
<line x1="1302.8" y1="265.8" x2="1302.8" y2="281.0" stroke="#b89066" stroke-width="1.1"/>
<line x1="1313.0" y1="265.8" x2="1313.0" y2="281.0" stroke="#b89066" stroke-width="1.1"/>
<line x1="1323.2" y1="265.8" x2="1323.2" y2="281.0" stroke="#b89066" stroke-width="1.1"/>
<line x1="1333.5" y1="265.8" x2="1333.5" y2="281.0" stroke="#b89066" stroke-width="1.1"/>
<line x1="1343.8" y1="265.8" x2="1343.8" y2="281.0" stroke="#b89066" stroke-width="1.1"/>
<line x1="1354.0" y1="265.8" x2="1354.0" y2="281.0" stroke="#b89066" stroke-width="1.1"/>
<line x1="1364.2" y1="265.8" x2="1364.2" y2="281.0" stroke="#b89066" stroke-width="1.1"/>
<rect x="1272" y="286.2" width="102.5" height="15.2" fill="none" stroke="#b89066" stroke-width="1.1"/>
<line x1="1282.2" y1="286.2" x2="1282.2" y2="301.4" stroke="#b89066" stroke-width="1.1"/>
<line x1="1292.5" y1="286.2" x2="1292.5" y2="301.4" stroke="#b89066" stroke-width="1.1"/>
<line x1="1302.8" y1="286.2" x2="1302.8" y2="301.4" stroke="#b89066" stroke-width="1.1"/>
<line x1="1313.0" y1="286.2" x2="1313.0" y2="301.4" stroke="#b89066" stroke-width="1.1"/>
<line x1="1323.2" y1="286.2" x2="1323.2" y2="301.4" stroke="#b89066" stroke-width="1.1"/>
<line x1="1333.5" y1="286.2" x2="1333.5" y2="301.4" stroke="#b89066" stroke-width="1.1"/>
<line x1="1343.8" y1="286.2" x2="1343.8" y2="301.4" stroke="#b89066" stroke-width="1.1"/>
<line x1="1354.0" y1="286.2" x2="1354.0" y2="301.4" stroke="#b89066" stroke-width="1.1"/>
<line x1="1364.2" y1="286.2" x2="1364.2" y2="301.4" stroke="#b89066" stroke-width="1.1"/>
<rect x="1272" y="306.7" width="102.5" height="15.2" fill="none" stroke="#b89066" stroke-width="1.1"/>
<line x1="1282.2" y1="306.7" x2="1282.2" y2="321.9" stroke="#b89066" stroke-width="1.1"/>
<line x1="1292.5" y1="306.7" x2="1292.5" y2="321.9" stroke="#b89066" stroke-width="1.1"/>
<line x1="1302.8" y1="306.7" x2="1302.8" y2="321.9" stroke="#b89066" stroke-width="1.1"/>
<line x1="1313.0" y1="306.7" x2="1313.0" y2="321.9" stroke="#b89066" stroke-width="1.1"/>
<line x1="1323.2" y1="306.7" x2="1323.2" y2="321.9" stroke="#b89066" stroke-width="1.1"/>
<line x1="1333.5" y1="306.7" x2="1333.5" y2="321.9" stroke="#b89066" stroke-width="1.1"/>
<line x1="1343.8" y1="306.7" x2="1343.8" y2="321.9" stroke="#b89066" stroke-width="1.1"/>
<line x1="1354.0" y1="306.7" x2="1354.0" y2="321.9" stroke="#b89066" stroke-width="1.1"/>
<line x1="1364.2" y1="306.7" x2="1364.2" y2="321.9" stroke="#b89066" stroke-width="1.1"/>
<rect x="1272" y="327.1" width="102.5" height="15.2" fill="none" stroke="#b89066" stroke-width="1.1"/>
<line x1="1282.2" y1="327.1" x2="1282.2" y2="342.3" stroke="#b89066" stroke-width="1.1"/>
<line x1="1292.5" y1="327.1" x2="1292.5" y2="342.3" stroke="#b89066" stroke-width="1.1"/>
<line x1="1302.8" y1="327.1" x2="1302.8" y2="342.3" stroke="#b89066" stroke-width="1.1"/>
<line x1="1313.0" y1="327.1" x2="1313.0" y2="342.3" stroke="#b89066" stroke-width="1.1"/>
<line x1="1323.2" y1="327.1" x2="1323.2" y2="342.3" stroke="#b89066" stroke-width="1.1"/>
<line x1="1333.5" y1="327.1" x2="1333.5" y2="342.3" stroke="#b89066" stroke-width="1.1"/>
<line x1="1343.8" y1="327.1" x2="1343.8" y2="342.3" stroke="#b89066" stroke-width="1.1"/>
<line x1="1354.0" y1="327.1" x2="1354.0" y2="342.3" stroke="#b89066" stroke-width="1.1"/>
<line x1="1364.2" y1="327.1" x2="1364.2" y2="342.3" stroke="#b89066" stroke-width="1.1"/>
<rect x="1272" y="347.6" width="102.5" height="15.2" fill="none" stroke="#b89066" stroke-width="1.1"/>
<line x1="1282.2" y1="347.6" x2="1282.2" y2="362.8" stroke="#b89066" stroke-width="1.1"/>
<line x1="1292.5" y1="347.6" x2="1292.5" y2="362.8" stroke="#b89066" stroke-width="1.1"/>
<line x1="1302.8" y1="347.6" x2="1302.8" y2="362.8" stroke="#b89066" stroke-width="1.1"/>
<line x1="1313.0" y1="347.6" x2="1313.0" y2="362.8" stroke="#b89066" stroke-width="1.1"/>
<line x1="1323.2" y1="347.6" x2="1323.2" y2="362.8" stroke="#b89066" stroke-width="1.1"/>
<line x1="1333.5" y1="347.6" x2="1333.5" y2="362.8" stroke="#b89066" stroke-width="1.1"/>
<line x1="1343.8" y1="347.6" x2="1343.8" y2="362.8" stroke="#b89066" stroke-width="1.1"/>
<line x1="1354.0" y1="347.6" x2="1354.0" y2="362.8" stroke="#b89066" stroke-width="1.1"/>
<line x1="1364.2" y1="347.6" x2="1364.2" y2="362.8" stroke="#b89066" stroke-width="1.1"/>
</g>
<defs><linearGradient id="g3b" x1="0" y1="0" x2="0" y2="1"><stop offset="0" stop-color="#444"/><stop offset="0.55" stop-color="#4b4b4b"/><stop offset="0.85" stop-color="#3a3a3a"/><stop offset="1" stop-color="#262626"/></linearGradient></defs>
<clipPath id="cp10"><rect x="1381.3" y="261.2" width="117.5" height="108.5"/></clipPath><g clip-path="url(#cp10)">
<rect x="1381.3" y="261.2" width="117.5" height="108.5" fill="#383838" />
<rect x="1381.3" y="281.4" width="117.5" height="51.0" fill="url(#g3b)" />
<rect x="1417.7" y="261.2" width="34.1" height="20.2" fill="#2b2b2b" />
<rect x="1417.7" y="281.0" width="34.1" height="0.9" fill="#9a9a8a" />
<rect x="1381.3" y="261.2" width="36.4" height="32.4" fill="#3a3a3a" rx="4"/>
<rect x="1451.8" y="261.2" width="47.0" height="32.4" fill="#3a3a3a" rx="4"/>
<path d="M1385.3 265.1h4.2v0.9h-4.2zM1386.9 278.1h3.3v0.9h-3.3zM1404.0 283.0h1.6v0.5h-1.6zM1384.3 268.0h1.7v0.8h-1.7zM1401.5 265.4h4.2v0.6h-4.2zM1403.4 278.0h4.1v0.5h-4.1zM1384.2 286.9h2.0v0.9h-2.0zM1402.6 263.7h4.1v1.0h-4.1zM1410.5 265.3h1.0v0.7h-1.0zM1408.0 286.7h2.5v0.8h-2.5zM1388.4 280.6h2.4v0.9h-2.4zM1392.2 290.4h3.2v1.1h-3.2zM1384.5 291.0h0.9v1.0h-0.9zM1413.0 267.7h2.9v0.5h-2.9zM1395.9 271.9h2.2v1.0h-2.2zM1399.0 287.7h4.1v0.8h-4.1zM1412.7 291.8h1.2v0.9h-1.2zM1385.9 270.2h3.9v0.8h-3.9zM1381.5 289.0h4.7v1.1h-4.7zM1393.4 278.1h2.3v0.7h-2.3zM1407.6 275.4h1.7v0.5h-1.7zM1401.1 289.9h1.2v1.0h-1.2zM1381.9 265.3h2.5v1.0h-2.5zM1415.4 289.0h0.8v0.5h-0.8zM1403.7 271.3h1.0v0.6h-1.0z" fill="#8a8a8a" opacity="0.55"/>
<path d="M1382.8 264.3h4.2v0.7h-4.2zM1388.3 270.0h2.9v1.0h-2.9zM1401.3 288.8h1.5v1.0h-1.5zM1386.5 278.5h4.4v0.7h-4.4zM1400.6 277.7h3.5v1.0h-3.5zM1386.4 272.2h1.5v1.0h-1.5zM1389.8 277.5h3.2v0.7h-3.2zM1390.6 284.3h2.5v1.1h-2.5zM1393.9 291.3h4.9v1.1h-4.9zM1397.6 263.2h3.1v0.6h-3.1zM1393.3 287.8h2.2v1.1h-2.2zM1406.0 272.4h3.1v0.5h-3.1zM1409.9 262.0h3.8v1.1h-3.8zM1415.1 276.6h3.5v0.9h-3.5zM1393.1 268.5h2.5v0.8h-2.5z" fill="#b8b8b8" opacity="0.55"/>
<path d="M1411.2 261.3h3.4v0.7h-3.4zM1395.5 291.5h5.0v0.7h-5.0zM1414.3 267.1h1.1v0.6h-1.1zM1384.6 276.2h3.6v0.7h-3.6zM1400.4 272.4h4.1v0.6h-4.1zM1411.6 262.3h4.8v0.8h-4.8zM1415.6 269.1h1.6v0.8h-1.6zM1406.6 288.0h4.7v1.1h-4.7zM1389.4 268.0h1.1v0.9h-1.1zM1396.7 269.8h3.4v1.1h-3.4zM1390.7 286.0h5.0v0.6h-5.0zM1416.2 264.0h3.3v0.7h-3.3zM1408.7 277.8h3.3v0.8h-3.3zM1396.6 287.5h1.4v0.9h-1.4zM1402.4 291.8h4.8v0.8h-4.8zM1402.8 284.6h3.6v1.1h-3.6zM1397.3 271.9h0.8v0.6h-0.8zM1388.9 261.4h2.1v0.9h-2.1zM1416.5 283.8h4.1v0.7h-4.1zM1394.7 277.8h2.6v0.7h-2.6zM1385.4 287.0h3.7v1.0h-3.7z" fill="#666666" opacity="0.55"/>
<path d="M1386.9 265.6h2.0v1.1h-2.0zM1404.3 277.4h3.5v1.1h-3.5zM1398.9 267.7h4.8v0.6h-4.8zM1409.5 268.0h0.9v1.0h-0.9zM1387.2 291.4h4.1v0.7h-4.1zM1385.3 279.1h3.5v0.7h-3.5zM1408.6 280.0h1.9v1.0h-1.9zM1404.6 261.2h4.8v0.8h-4.8zM1390.4 274.9h3.8v0.9h-3.8zM1384.2 277.6h4.1v0.6h-4.1zM1396.9 274.3h4.8v0.9h-4.8zM1401.5 285.7h3.4v0.6h-3.4zM1401.2 289.4h2.3v1.0h-2.3zM1388.3 286.0h3.0v0.8h-3.0zM1406.6 279.5h4.7v0.5h-4.7zM1406.0 274.0h4.0v0.7h-4.0zM1405.4 264.8h2.6v1.0h-2.6zM1387.7 275.1h4.0v0.8h-4.0zM1390.3 267.2h4.9v0.6h-4.9zM1410.2 274.9h3.4v0.9h-3.4zM1393.2 263.1h3.8v0.6h-3.8zM1387.3 291.6h1.8v0.7h-1.8zM1416.2 283.1h1.9v0.7h-1.9zM1402.8 284.3h3.8v0.7h-3.8zM1381.8 266.3h2.1v0.9h-2.1zM1407.9 273.6h2.4v1.0h-2.4zM1399.1 284.1h1.4v1.1h-1.4z" fill="#d0d0d0" opacity="0.55"/>
<path d="M1490.9 268.4h4.7v0.7h-4.7zM1464.8 270.4h1.9v1.1h-1.9zM1490.4 279.6h2.4v0.8h-2.4zM1485.3 291.6h2.6v0.7h-2.6zM1457.9 280.4h2.6v0.9h-2.6zM1459.4 289.5h4.5v0.6h-4.5zM1497.0 275.9h2.1v0.9h-2.1zM1488.3 271.9h4.1v0.5h-4.1zM1486.4 274.4h3.8v0.9h-3.8zM1484.2 270.0h4.9v1.0h-4.9zM1481.4 267.4h4.8v0.6h-4.8zM1483.4 275.4h2.1v1.0h-2.1zM1474.7 264.5h2.0v0.8h-2.0zM1464.4 266.1h2.1v0.7h-2.1zM1481.7 268.1h4.6v0.9h-4.6zM1455.4 278.6h2.9v0.7h-2.9zM1491.9 271.3h2.5v1.1h-2.5zM1459.1 288.0h4.2v0.8h-4.2zM1469.4 284.9h4.7v0.9h-4.7zM1486.5 272.7h2.9v1.0h-2.9zM1497.5 280.8h1.3v0.8h-1.3zM1457.9 262.8h0.9v0.8h-0.9zM1462.4 263.8h1.7v0.9h-1.7zM1494.6 273.0h3.1v1.1h-3.1zM1454.9 278.3h1.6v0.6h-1.6zM1452.9 282.1h4.5v0.7h-4.5zM1492.4 284.7h3.2v1.1h-3.2zM1470.1 287.3h1.5v0.5h-1.5zM1497.1 290.3h2.7v0.8h-2.7zM1495.0 283.1h2.8v1.0h-2.8zM1476.8 271.7h4.8v0.8h-4.8z" fill="#8a8a8a" opacity="0.55"/>
<path d="M1472.9 262.1h4.9v0.9h-4.9zM1458.6 268.4h3.7v1.1h-3.7zM1497.0 265.3h2.4v1.1h-2.4zM1471.9 276.4h3.6v0.5h-3.6zM1466.1 285.6h1.6v0.7h-1.6zM1483.5 284.9h1.5v0.8h-1.5zM1496.7 289.7h4.9v0.9h-4.9zM1472.4 290.7h2.8v0.7h-2.8zM1489.0 289.6h4.7v0.6h-4.7zM1476.2 276.9h4.0v0.6h-4.0zM1480.2 274.0h0.8v1.1h-0.8zM1490.6 276.3h5.0v1.0h-5.0zM1468.1 282.2h2.4v0.9h-2.4zM1457.1 276.5h3.2v1.0h-3.2zM1496.4 291.0h2.0v0.9h-2.0zM1482.6 287.9h2.7v0.5h-2.7zM1495.6 292.6h0.8v1.0h-0.8zM1482.9 291.3h1.4v1.0h-1.4zM1465.4 282.8h3.3v0.9h-3.3zM1452.9 282.8h3.9v0.9h-3.9zM1482.5 264.2h1.3v1.1h-1.3zM1456.7 281.0h1.7v1.1h-1.7z" fill="#b8b8b8" opacity="0.55"/>
<path d="M1481.1 286.9h4.7v0.7h-4.7zM1483.5 277.5h1.9v0.8h-1.9zM1482.0 276.4h3.4v0.6h-3.4zM1478.8 283.9h2.9v0.6h-2.9zM1461.6 271.6h1.3v0.8h-1.3zM1480.3 261.9h4.0v0.5h-4.0zM1451.9 284.2h4.1v0.7h-4.1zM1489.1 291.6h2.3v0.7h-2.3zM1488.7 291.7h2.5v0.8h-2.5zM1494.7 261.7h5.0v0.7h-5.0zM1486.0 264.6h0.8v0.9h-0.8zM1478.0 284.9h4.4v1.0h-4.4zM1492.8 279.2h4.7v0.5h-4.7zM1480.1 285.2h1.8v0.5h-1.8zM1456.6 268.4h3.3v0.9h-3.3zM1460.2 263.7h1.7v0.9h-1.7zM1463.9 284.4h3.1v0.7h-3.1zM1453.5 264.5h2.1v0.7h-2.1zM1454.4 264.0h1.5v0.7h-1.5zM1492.8 278.9h4.7v1.0h-4.7zM1470.3 267.8h2.2v0.8h-2.2zM1490.6 276.4h1.8v0.9h-1.8zM1490.7 290.8h4.7v1.1h-4.7zM1460.8 287.7h1.2v0.7h-1.2zM1486.0 269.5h4.2v0.9h-4.2zM1484.2 286.9h2.7v1.0h-2.7zM1493.9 263.0h3.9v0.9h-3.9zM1458.3 290.4h0.9v0.6h-0.9zM1486.7 265.7h3.9v0.7h-3.9zM1490.2 274.7h3.3v0.7h-3.3zM1494.3 278.7h0.9v1.0h-0.9zM1489.2 280.8h3.5v1.0h-3.5zM1471.4 265.9h4.7v0.5h-4.7zM1485.6 283.7h3.2v1.0h-3.2zM1483.4 266.4h1.6v1.0h-1.6z" fill="#666666" opacity="0.55"/>
<path d="M1484.7 279.8h4.1v0.6h-4.1zM1494.1 291.1h3.8v1.0h-3.8zM1473.7 276.4h4.2v0.8h-4.2zM1469.1 282.4h2.2v1.0h-2.2zM1459.0 288.4h1.6v0.8h-1.6zM1488.0 286.5h2.7v1.1h-2.7zM1468.8 285.8h2.1v0.9h-2.1zM1481.5 287.3h4.6v0.8h-4.6zM1468.7 271.9h2.3v0.8h-2.3zM1483.3 278.4h3.1v0.8h-3.1zM1452.2 280.8h4.6v0.9h-4.6zM1494.9 291.7h4.5v0.5h-4.5zM1482.0 276.8h3.3v0.8h-3.3zM1461.1 275.7h2.5v0.8h-2.5zM1460.5 281.1h3.0v0.8h-3.0zM1483.3 276.0h1.3v0.6h-1.3zM1476.7 275.5h1.4v0.6h-1.4zM1457.1 271.6h3.3v0.8h-3.3zM1461.5 285.5h2.1v0.7h-2.1zM1493.2 280.7h4.4v0.6h-4.4zM1495.0 270.7h2.8v0.8h-2.8zM1457.7 263.6h2.9v0.7h-2.9z" fill="#d0d0d0" opacity="0.55"/>
<path d="M1420.7 344.4h1.1v0.8h-1.1zM1460.7 338.1h4.0v1.0h-4.0zM1444.9 357.2h2.5v1.0h-2.5zM1425.3 356.8h1.4v0.9h-1.4zM1442.3 363.1h2.0v0.7h-2.0zM1433.1 335.9h3.4v1.1h-3.4zM1416.5 337.5h4.8v0.7h-4.8zM1382.7 347.9h2.5v0.6h-2.5zM1484.2 343.9h2.5v0.9h-2.5zM1438.3 348.5h1.9v0.9h-1.9zM1428.5 343.6h4.8v0.5h-4.8zM1432.7 362.5h4.4v0.8h-4.4zM1490.8 332.7h0.9v0.8h-0.9zM1486.5 336.0h2.3v0.8h-2.3zM1422.7 348.5h3.4v0.7h-3.4zM1453.3 337.4h4.3v0.8h-4.3zM1442.7 344.0h2.1v1.0h-2.1zM1435.6 361.6h4.3v0.9h-4.3zM1429.1 336.5h3.3v1.0h-3.3zM1454.6 342.9h2.7v0.8h-2.7zM1430.9 362.2h3.5v0.9h-3.5zM1436.2 339.1h2.3v0.8h-2.3zM1402.4 364.4h1.4v1.0h-1.4zM1465.2 346.1h4.5v0.6h-4.5zM1462.3 360.0h1.3v0.9h-1.3zM1463.3 356.5h2.0v0.5h-2.0zM1495.5 343.5h2.0v0.8h-2.0zM1454.4 351.1h2.3v0.6h-2.3zM1496.3 353.0h2.6v1.1h-2.6zM1414.2 354.0h1.9v0.9h-1.9zM1427.8 340.4h4.8v0.8h-4.8zM1443.8 348.7h1.8v0.5h-1.8zM1469.7 342.0h4.4v0.6h-4.4zM1493.0 367.0h3.4v0.9h-3.4zM1444.4 333.9h2.1v0.9h-2.1zM1383.1 355.5h2.7v1.0h-2.7zM1445.4 356.2h3.3v0.7h-3.3zM1422.2 367.1h3.8v1.0h-3.8zM1477.8 367.2h0.8v0.6h-0.8zM1444.5 361.6h4.6v1.0h-4.6zM1403.7 344.2h1.6v0.8h-1.6zM1479.0 367.7h3.1v0.6h-3.1zM1381.8 346.4h5.0v0.7h-5.0zM1396.8 334.8h1.2v0.9h-1.2zM1491.9 343.4h2.0v0.5h-2.0zM1391.1 340.1h4.9v0.7h-4.9zM1449.7 346.8h1.9v1.0h-1.9zM1476.0 353.8h1.5v0.9h-1.5zM1454.3 349.0h2.6v0.7h-2.6zM1473.4 352.7h1.5v0.6h-1.5zM1385.7 350.6h1.0v0.6h-1.0zM1407.4 347.7h2.2v0.7h-2.2zM1447.8 366.3h1.9v0.5h-1.9zM1382.5 336.7h3.7v1.1h-3.7zM1409.4 341.0h2.3v0.9h-2.3zM1404.0 350.1h4.7v1.0h-4.7zM1437.5 353.7h4.2v0.6h-4.2zM1462.9 363.5h4.7v0.8h-4.7zM1402.9 361.5h2.1v0.9h-2.1zM1481.7 337.3h2.7v1.1h-2.7zM1426.0 342.4h4.8v0.9h-4.8zM1453.0 344.2h1.9v0.6h-1.9zM1495.7 340.1h3.6v0.8h-3.6zM1486.5 341.8h5.0v1.0h-5.0zM1472.7 340.5h2.7v1.1h-2.7zM1416.7 343.0h2.3v1.1h-2.3zM1460.0 361.9h3.5v0.6h-3.5zM1421.3 365.3h4.3v1.1h-4.3zM1395.8 368.3h4.5v0.6h-4.5zM1480.7 339.1h1.4v0.5h-1.4zM1440.5 367.7h2.3v0.7h-2.3zM1395.9 348.6h3.0v0.7h-3.0zM1433.5 332.5h2.9v0.7h-2.9zM1483.7 366.1h1.2v0.6h-1.2zM1387.8 335.4h1.8v1.0h-1.8zM1437.6 368.1h1.2v0.7h-1.2zM1382.6 345.8h3.2v0.6h-3.2zM1396.9 359.1h3.0v1.0h-3.0zM1408.9 355.7h3.1v1.0h-3.1zM1475.2 348.7h1.4v0.9h-1.4zM1463.4 365.3h1.1v1.0h-1.1zM1388.2 341.0h1.1v0.9h-1.1z" fill="#8a8a8a" opacity="0.55"/>
<path d="M1445.3 354.7h1.6v0.9h-1.6zM1464.5 347.4h2.1v1.0h-2.1zM1411.8 365.5h1.9v0.7h-1.9zM1442.0 337.6h4.6v0.6h-4.6zM1469.9 341.9h2.6v0.9h-2.6zM1395.2 358.0h2.8v0.5h-2.8zM1392.4 352.5h1.1v1.0h-1.1zM1429.5 334.7h3.8v1.0h-3.8zM1432.5 333.7h2.1v0.8h-2.1zM1393.3 362.4h4.0v0.9h-4.0zM1442.2 358.9h1.5v0.8h-1.5zM1497.1 360.3h2.6v0.8h-2.6zM1445.5 366.2h3.2v0.7h-3.2zM1439.6 334.0h3.6v0.8h-3.6zM1467.9 343.2h1.0v0.8h-1.0zM1466.6 345.5h1.3v1.0h-1.3zM1476.6 356.2h3.1v1.1h-3.1zM1414.7 348.1h4.1v1.1h-4.1zM1384.3 348.3h4.7v0.6h-4.7zM1394.1 348.0h4.6v0.9h-4.6zM1441.6 360.0h1.5v0.8h-1.5zM1462.5 346.5h3.9v0.8h-3.9zM1463.4 334.7h3.0v0.8h-3.0zM1467.8 350.3h3.9v0.8h-3.9zM1484.1 360.0h3.8v0.9h-3.8zM1451.1 343.6h0.9v0.6h-0.9zM1466.0 345.7h2.5v1.0h-2.5zM1456.7 340.9h1.4v0.9h-1.4zM1452.9 346.1h1.7v0.9h-1.7zM1418.9 336.2h3.8v1.0h-3.8zM1477.3 362.1h2.5v1.0h-2.5zM1424.2 342.0h2.4v0.8h-2.4zM1456.5 333.4h1.3v0.8h-1.3zM1479.7 349.3h2.3v0.6h-2.3zM1401.0 355.5h3.9v0.7h-3.9zM1478.4 365.8h2.0v1.0h-2.0zM1482.9 347.6h1.5v1.0h-1.5zM1430.9 352.0h2.4v0.5h-2.4zM1452.8 357.2h2.9v0.8h-2.9zM1442.0 360.4h3.2v0.6h-3.2zM1411.1 343.2h2.0v1.0h-2.0zM1413.6 350.7h1.3v0.7h-1.3zM1414.6 336.2h4.2v0.9h-4.2zM1492.5 346.9h1.2v0.9h-1.2zM1460.9 343.9h4.0v0.6h-4.0zM1392.9 352.4h2.3v0.6h-2.3zM1397.5 346.4h4.5v1.0h-4.5zM1431.7 357.1h1.0v0.7h-1.0zM1398.2 338.1h3.0v0.9h-3.0zM1437.5 350.2h3.3v0.9h-3.3zM1438.9 367.8h5.0v0.7h-5.0zM1464.0 339.4h1.2v0.9h-1.2zM1426.7 333.2h2.5v1.0h-2.5zM1423.2 357.4h4.1v0.7h-4.1zM1423.6 367.5h2.9v0.8h-2.9zM1440.1 346.7h4.9v0.9h-4.9zM1484.3 349.2h1.4v0.6h-1.4zM1435.4 342.7h3.5v0.8h-3.5zM1459.8 349.1h4.5v0.6h-4.5zM1436.1 343.0h3.2v0.6h-3.2zM1391.5 363.9h3.8v0.5h-3.8zM1381.3 365.9h1.3v0.9h-1.3zM1441.6 332.5h2.4v0.7h-2.4zM1465.2 349.4h4.0v0.5h-4.0zM1453.7 354.9h1.8v0.8h-1.8zM1424.5 341.7h2.6v0.9h-2.6zM1473.1 364.6h4.8v0.5h-4.8zM1409.0 346.4h4.0v0.7h-4.0zM1432.0 368.0h0.9v0.6h-0.9zM1469.4 368.6h3.7v0.7h-3.7zM1401.5 336.0h4.4v0.8h-4.4zM1393.9 345.2h2.3v0.8h-2.3zM1479.2 353.8h1.2v0.8h-1.2zM1413.8 336.7h3.0v0.6h-3.0zM1461.2 335.1h2.2v1.0h-2.2zM1495.6 336.9h4.0v1.0h-4.0zM1487.1 363.5h2.6v1.0h-2.6zM1464.8 354.2h3.2v0.8h-3.2zM1421.2 366.1h2.8v0.8h-2.8zM1479.1 355.4h4.5v0.9h-4.5zM1487.8 332.5h3.7v0.5h-3.7z" fill="#b8b8b8" opacity="0.55"/>
<path d="M1482.5 357.0h3.4v0.7h-3.4zM1453.5 360.7h5.0v1.1h-5.0zM1418.3 335.1h4.0v0.6h-4.0zM1442.3 339.4h2.3v1.1h-2.3zM1387.6 334.3h1.3v1.0h-1.3zM1450.8 336.6h2.5v0.8h-2.5zM1488.0 338.7h1.6v0.8h-1.6zM1475.3 342.0h1.8v0.9h-1.8zM1391.3 359.1h3.6v1.0h-3.6zM1471.5 352.5h2.8v1.1h-2.8zM1406.2 365.0h1.4v0.8h-1.4zM1449.9 338.9h2.8v0.6h-2.8zM1497.1 356.2h2.1v0.5h-2.1zM1461.7 353.0h2.4v0.7h-2.4zM1429.9 363.5h3.7v0.6h-3.7zM1460.3 347.2h1.0v0.7h-1.0zM1462.0 368.7h2.2v1.1h-2.2zM1431.7 354.8h2.8v1.1h-2.8zM1415.8 336.0h4.9v0.6h-4.9zM1460.9 351.7h1.4v0.8h-1.4zM1394.3 367.7h3.0v0.9h-3.0zM1449.2 335.3h1.4v0.5h-1.4zM1425.2 337.4h2.7v1.1h-2.7zM1454.2 343.5h1.7v0.8h-1.7zM1494.5 344.0h2.9v0.7h-2.9zM1389.5 340.7h3.9v0.6h-3.9zM1393.2 344.1h2.8v0.6h-2.8zM1427.9 359.4h1.6v0.6h-1.6zM1393.4 347.5h3.0v0.9h-3.0zM1465.6 365.7h1.9v0.6h-1.9zM1464.9 350.3h2.4v1.0h-2.4zM1430.2 353.5h1.3v1.1h-1.3zM1404.8 334.0h3.3v1.1h-3.3zM1491.0 345.3h3.5v0.9h-3.5zM1421.2 368.5h2.7v1.0h-2.7zM1413.3 364.1h2.7v0.6h-2.7zM1389.7 348.1h1.5v1.0h-1.5zM1432.6 345.7h2.0v1.1h-2.0zM1447.1 344.6h4.8v1.1h-4.8zM1428.0 352.2h3.0v0.8h-3.0zM1386.5 334.3h3.3v0.9h-3.3zM1463.2 354.8h1.6v0.6h-1.6zM1440.4 344.0h4.8v0.7h-4.8zM1473.4 336.8h2.9v0.8h-2.9zM1389.4 355.9h1.7v1.0h-1.7zM1454.7 352.2h2.9v0.7h-2.9zM1470.9 362.4h4.0v0.8h-4.0zM1409.4 348.1h3.9v0.7h-3.9zM1436.8 338.6h3.5v0.6h-3.5zM1444.1 356.8h4.6v0.7h-4.6zM1473.5 363.7h2.2v0.6h-2.2zM1382.3 351.8h2.5v0.8h-2.5zM1417.8 340.6h2.4v0.8h-2.4zM1491.2 342.3h0.9v0.7h-0.9zM1458.4 348.7h2.0v0.9h-2.0zM1481.8 353.0h1.5v0.6h-1.5zM1401.3 365.1h3.4v0.8h-3.4zM1492.3 354.9h1.9v0.6h-1.9zM1389.9 365.6h1.8v1.0h-1.8zM1487.8 362.1h0.9v0.6h-0.9zM1476.0 341.6h2.2v0.8h-2.2zM1462.4 349.7h2.3v0.8h-2.3zM1391.0 365.8h3.3v0.8h-3.3zM1468.5 351.3h4.5v0.7h-4.5zM1412.1 358.2h4.2v0.6h-4.2zM1443.0 352.0h4.7v0.5h-4.7zM1408.3 345.9h1.0v1.1h-1.0zM1405.5 359.4h1.3v0.6h-1.3zM1448.6 358.9h2.7v1.0h-2.7zM1481.3 339.4h3.8v0.6h-3.8zM1488.5 343.2h4.4v0.9h-4.4zM1411.5 345.2h4.0v0.7h-4.0zM1494.6 336.9h1.6v0.7h-1.6zM1408.3 365.3h1.8v0.8h-1.8zM1408.6 352.8h3.1v1.0h-3.1zM1446.4 338.3h4.9v0.6h-4.9z" fill="#666666" opacity="0.55"/>
<path d="M1450.0 351.4h2.4v1.0h-2.4zM1430.6 364.7h2.5v0.8h-2.5zM1386.4 337.2h5.0v0.8h-5.0zM1463.6 345.7h4.9v1.1h-4.9zM1496.0 364.1h1.3v1.1h-1.3zM1474.9 362.8h1.5v0.5h-1.5zM1427.7 368.3h4.9v1.1h-4.9zM1393.9 332.7h1.9v0.9h-1.9zM1447.7 340.7h1.0v0.7h-1.0zM1461.8 365.3h1.5v0.7h-1.5zM1477.5 359.1h2.9v0.8h-2.9zM1403.1 342.1h3.7v0.7h-3.7zM1412.9 346.2h1.4v0.8h-1.4zM1423.0 362.0h2.8v0.5h-2.8zM1426.1 367.1h4.3v0.9h-4.3zM1469.6 350.1h3.8v0.8h-3.8zM1460.0 342.5h1.8v1.0h-1.8zM1384.2 353.7h4.2v1.0h-4.2zM1382.5 347.0h4.3v0.9h-4.3zM1491.7 348.3h3.7v0.7h-3.7zM1450.1 341.1h1.4v0.6h-1.4zM1399.4 350.2h4.9v0.8h-4.9zM1428.1 334.7h3.7v0.7h-3.7zM1489.1 368.5h2.5v0.7h-2.5zM1454.6 347.6h3.5v0.7h-3.5zM1463.7 349.0h2.1v0.8h-2.1zM1466.5 348.6h3.2v0.8h-3.2zM1428.8 344.8h4.9v1.0h-4.9zM1445.1 365.9h1.4v1.1h-1.4zM1403.6 341.2h5.0v0.7h-5.0zM1384.6 357.8h2.7v0.7h-2.7zM1464.0 341.7h3.4v0.7h-3.4zM1402.8 361.4h1.4v1.0h-1.4zM1450.8 344.0h4.7v0.5h-4.7zM1463.1 362.6h0.9v1.1h-0.9zM1461.9 335.3h2.9v0.9h-2.9zM1471.2 336.5h4.5v0.9h-4.5zM1431.9 338.1h4.3v0.8h-4.3zM1430.1 341.3h4.5v0.7h-4.5zM1389.3 363.4h3.5v0.8h-3.5zM1387.9 354.2h1.2v1.0h-1.2zM1488.2 340.1h2.0v1.0h-2.0zM1424.1 352.1h4.7v1.1h-4.7zM1489.9 342.0h4.0v0.6h-4.0zM1460.0 346.3h3.9v0.9h-3.9zM1388.7 351.7h2.2v0.7h-2.2zM1448.1 336.5h1.0v0.7h-1.0zM1433.5 359.7h2.3v0.9h-2.3zM1449.7 344.8h2.0v0.5h-2.0zM1402.1 347.4h3.1v0.7h-3.1zM1411.6 337.1h3.8v0.8h-3.8zM1408.0 347.0h2.4v0.8h-2.4zM1386.3 338.3h4.5v0.7h-4.5zM1459.0 343.2h1.1v1.0h-1.1zM1485.6 350.9h4.8v0.8h-4.8zM1440.0 359.5h5.0v1.0h-5.0zM1421.6 335.4h3.2v0.8h-3.2zM1385.9 366.6h4.2v1.1h-4.2zM1496.1 357.6h4.0v0.9h-4.0zM1384.0 337.9h4.6v0.7h-4.6zM1392.3 343.7h4.7v0.5h-4.7zM1459.9 353.6h3.3v0.6h-3.3zM1454.1 344.7h2.3v1.0h-2.3zM1470.3 347.5h3.5v1.0h-3.5zM1426.3 348.8h2.1v0.6h-2.1zM1494.5 358.5h2.4v0.7h-2.4zM1421.2 355.2h2.7v1.1h-2.7zM1435.1 354.5h3.6v1.1h-3.6zM1441.2 368.4h1.1v0.9h-1.1zM1444.1 345.4h3.8v1.1h-3.8zM1474.9 352.4h2.2v0.6h-2.2zM1399.5 367.0h4.2v0.9h-4.2zM1456.1 333.4h2.2v1.0h-2.2zM1431.5 334.1h5.0v0.8h-5.0zM1388.9 345.8h3.6v0.5h-3.6zM1441.3 344.4h3.6v0.7h-3.6zM1494.8 348.9h4.1v1.0h-4.1zM1405.4 367.3h1.0v1.1h-1.0zM1460.6 337.0h4.1v0.9h-4.1zM1425.4 340.3h4.5v0.5h-4.5zM1458.6 338.2h3.7v0.9h-3.7zM1409.9 340.7h1.3v0.8h-1.3zM1482.4 353.6h1.3v0.5h-1.3zM1494.2 365.0h2.0v0.8h-2.0zM1491.7 342.5h1.2v0.5h-1.2zM1491.8 367.0h4.0v0.9h-4.0zM1386.0 333.2h3.9v0.9h-3.9zM1422.8 353.7h4.4v0.6h-4.4zM1384.0 347.5h1.4v1.0h-1.4zM1479.4 338.9h2.1v0.6h-2.1zM1388.3 359.4h4.6v0.9h-4.6z" fill="#d0d0d0" opacity="0.55"/>
</g>
<clipPath id="cp11"><rect x="1502.7" y="260" width="136.70000000000005" height="108.10000000000002"/></clipPath><g clip-path="url(#cp11)">
<rect x="1502.7" y="260.0" width="136.7" height="108.1" fill="#ee8f2c" />
<rect x="1502.7" y="273.8" width="136.7" height="4.0" fill="#5c4c38" />
<rect x="1502.7" y="290.9" width="136.7" height="4.0" fill="#5c4c38" />
<rect x="1502.7" y="327.0" width="136.7" height="4.0" fill="#5c4c38" />
<rect x="1502.7" y="344.5" width="136.7" height="4.0" fill="#5c4c38" />
<rect x="1526.0" y="260.0" width="4.0" height="15.8" fill="#5c4c38" />
<rect x="1551.0" y="260.0" width="4.0" height="15.8" fill="#5c4c38" />
<rect x="1577.2" y="260.0" width="4.0" height="15.8" fill="#5c4c38" />
<rect x="1602.5" y="260.0" width="4.0" height="15.8" fill="#5c4c38" />
<rect x="1628.3" y="260.0" width="4.0" height="15.8" fill="#5c4c38" />
<rect x="1526.0" y="292.9" width="4.0" height="36.1" fill="#5c4c38" />
<rect x="1551.0" y="292.9" width="4.0" height="36.1" fill="#5c4c38" />
<rect x="1577.2" y="292.9" width="4.0" height="36.1" fill="#5c4c38" />
<rect x="1602.5" y="292.9" width="4.0" height="36.1" fill="#5c4c38" />
<rect x="1628.3" y="292.9" width="4.0" height="36.1" fill="#5c4c38" />
<rect x="1526.0" y="346.5" width="4.0" height="21.6" fill="#5c4c38" />
<rect x="1551.0" y="346.5" width="4.0" height="21.6" fill="#5c4c38" />
<rect x="1577.2" y="346.5" width="4.0" height="21.6" fill="#5c4c38" />
<rect x="1602.5" y="346.5" width="4.0" height="21.6" fill="#5c4c38" />
<rect x="1628.3" y="346.5" width="4.0" height="21.6" fill="#5c4c38" />
</g>
<clipPath id="cp12"><rect x="1643.6" y="262.5" width="158.9000000000001" height="105.60000000000002"/></clipPath><g clip-path="url(#cp12)">
<rect x="1643.6" y="262.5" width="158.9" height="105.6" fill="#e2e2e4" />
<rect x="1643.6" y="262.5" width="158.9" height="43.0" fill="#68686a" />
<rect x="1643.6" y="305.5" width="158.9" height="25.0" fill="#c4c4c6" />
<rect x="1642.0" y="262.5" width="10.0" height="25.0" fill="#333" />
<rect x="1700.0" y="262.5" width="18.0" height="12.0" fill="#9a9a9a" />
<polygon points="1650.2,284.1 1792.5,283.3 1791.7,364.0 1661.9,362.2" fill="#a9735c" />
<polygon points="1674.4,288.3 1770.9,287.4 1769.2,359.0 1682.7,357.3" fill="#4a2412" />
<line x1="1678.0" y1="289" x2="1686.0" y2="357" stroke="#c49272" stroke-width="1"/>
<line x1="1681.4" y1="292.0" x2="1691.4" y2="292.0" stroke="#c49272" stroke-width="0.9"/>
<line x1="1682.1" y1="298.2" x2="1692.1" y2="298.2" stroke="#c49272" stroke-width="0.9"/>
<line x1="1682.8" y1="304.4" x2="1692.8" y2="304.4" stroke="#c49272" stroke-width="0.9"/>
<line x1="1683.5" y1="310.6" x2="1693.5" y2="310.6" stroke="#c49272" stroke-width="0.9"/>
<line x1="1684.3" y1="316.8" x2="1694.3" y2="316.8" stroke="#c49272" stroke-width="0.9"/>
<line x1="1685.0" y1="323.0" x2="1695.0" y2="323.0" stroke="#c49272" stroke-width="0.9"/>
<line x1="1685.7" y1="329.2" x2="1695.7" y2="329.2" stroke="#c49272" stroke-width="0.9"/>
<line x1="1686.5" y1="335.4" x2="1696.5" y2="335.4" stroke="#c49272" stroke-width="0.9"/>
<line x1="1687.2" y1="341.6" x2="1697.2" y2="341.6" stroke="#c49272" stroke-width="0.9"/>
<line x1="1687.9" y1="347.8" x2="1697.9" y2="347.8" stroke="#c49272" stroke-width="0.9"/>
<line x1="1688.6" y1="354.0" x2="1698.6" y2="354.0" stroke="#c49272" stroke-width="0.9"/>
<line x1="1693.0" y1="289" x2="1699.7" y2="357" stroke="#c49272" stroke-width="1"/>
<line x1="1696.3" y1="292.0" x2="1706.3" y2="292.0" stroke="#c49272" stroke-width="0.9"/>
<line x1="1696.9" y1="298.2" x2="1706.9" y2="298.2" stroke="#c49272" stroke-width="0.9"/>
<line x1="1697.5" y1="304.4" x2="1707.5" y2="304.4" stroke="#c49272" stroke-width="0.9"/>
<line x1="1698.1" y1="310.6" x2="1708.1" y2="310.6" stroke="#c49272" stroke-width="0.9"/>
<line x1="1698.7" y1="316.8" x2="1708.7" y2="316.8" stroke="#c49272" stroke-width="0.9"/>
<line x1="1699.3" y1="323.0" x2="1709.3" y2="323.0" stroke="#c49272" stroke-width="0.9"/>
<line x1="1699.9" y1="329.2" x2="1709.9" y2="329.2" stroke="#c49272" stroke-width="0.9"/>
<line x1="1700.5" y1="335.4" x2="1710.5" y2="335.4" stroke="#c49272" stroke-width="0.9"/>
<line x1="1701.2" y1="341.6" x2="1711.2" y2="341.6" stroke="#c49272" stroke-width="0.9"/>
<line x1="1701.8" y1="347.8" x2="1711.8" y2="347.8" stroke="#c49272" stroke-width="0.9"/>
<line x1="1702.4" y1="354.0" x2="1712.4" y2="354.0" stroke="#c49272" stroke-width="0.9"/>
<line x1="1708.0" y1="289" x2="1713.3" y2="357" stroke="#c49272" stroke-width="1"/>
<line x1="1711.2" y1="292.0" x2="1721.2" y2="292.0" stroke="#c49272" stroke-width="0.9"/>
<line x1="1711.7" y1="298.2" x2="1721.7" y2="298.2" stroke="#c49272" stroke-width="0.9"/>
<line x1="1712.2" y1="304.4" x2="1722.2" y2="304.4" stroke="#c49272" stroke-width="0.9"/>
<line x1="1712.7" y1="310.6" x2="1722.7" y2="310.6" stroke="#c49272" stroke-width="0.9"/>
<line x1="1713.2" y1="316.8" x2="1723.2" y2="316.8" stroke="#c49272" stroke-width="0.9"/>
<line x1="1713.7" y1="323.0" x2="1723.7" y2="323.0" stroke="#c49272" stroke-width="0.9"/>
<line x1="1714.2" y1="329.2" x2="1724.2" y2="329.2" stroke="#c49272" stroke-width="0.9"/>
<line x1="1714.6" y1="335.4" x2="1724.6" y2="335.4" stroke="#c49272" stroke-width="0.9"/>
<line x1="1715.1" y1="341.6" x2="1725.1" y2="341.6" stroke="#c49272" stroke-width="0.9"/>
<line x1="1715.6" y1="347.8" x2="1725.6" y2="347.8" stroke="#c49272" stroke-width="0.9"/>
<line x1="1716.1" y1="354.0" x2="1726.1" y2="354.0" stroke="#c49272" stroke-width="0.9"/>
<line x1="1723.0" y1="289" x2="1727.0" y2="357" stroke="#c49272" stroke-width="1"/>
<line x1="1726.2" y1="292.0" x2="1736.2" y2="292.0" stroke="#c49272" stroke-width="0.9"/>
<line x1="1726.5" y1="298.2" x2="1736.5" y2="298.2" stroke="#c49272" stroke-width="0.9"/>
<line x1="1726.9" y1="304.4" x2="1736.9" y2="304.4" stroke="#c49272" stroke-width="0.9"/>
<line x1="1727.3" y1="310.6" x2="1737.3" y2="310.6" stroke="#c49272" stroke-width="0.9"/>
<line x1="1727.6" y1="316.8" x2="1737.6" y2="316.8" stroke="#c49272" stroke-width="0.9"/>
<line x1="1728.0" y1="323.0" x2="1738.0" y2="323.0" stroke="#c49272" stroke-width="0.9"/>
<line x1="1728.4" y1="329.2" x2="1738.4" y2="329.2" stroke="#c49272" stroke-width="0.9"/>
<line x1="1728.7" y1="335.4" x2="1738.7" y2="335.4" stroke="#c49272" stroke-width="0.9"/>
<line x1="1729.1" y1="341.6" x2="1739.1" y2="341.6" stroke="#c49272" stroke-width="0.9"/>
<line x1="1729.5" y1="347.8" x2="1739.5" y2="347.8" stroke="#c49272" stroke-width="0.9"/>
<line x1="1729.8" y1="354.0" x2="1739.8" y2="354.0" stroke="#c49272" stroke-width="0.9"/>
<line x1="1738.0" y1="289" x2="1740.7" y2="357" stroke="#c49272" stroke-width="1"/>
<line x1="1741.1" y1="292.0" x2="1751.1" y2="292.0" stroke="#c49272" stroke-width="0.9"/>
<line x1="1741.4" y1="298.2" x2="1751.4" y2="298.2" stroke="#c49272" stroke-width="0.9"/>
<line x1="1741.6" y1="304.4" x2="1751.6" y2="304.4" stroke="#c49272" stroke-width="0.9"/>
<line x1="1741.8" y1="310.6" x2="1751.8" y2="310.6" stroke="#c49272" stroke-width="0.9"/>
<line x1="1742.1" y1="316.8" x2="1752.1" y2="316.8" stroke="#c49272" stroke-width="0.9"/>
<line x1="1742.3" y1="323.0" x2="1752.3" y2="323.0" stroke="#c49272" stroke-width="0.9"/>
<line x1="1742.6" y1="329.2" x2="1752.6" y2="329.2" stroke="#c49272" stroke-width="0.9"/>
<line x1="1742.8" y1="335.4" x2="1752.8" y2="335.4" stroke="#c49272" stroke-width="0.9"/>
<line x1="1743.1" y1="341.6" x2="1753.1" y2="341.6" stroke="#c49272" stroke-width="0.9"/>
<line x1="1743.3" y1="347.8" x2="1753.3" y2="347.8" stroke="#c49272" stroke-width="0.9"/>
<line x1="1743.5" y1="354.0" x2="1753.5" y2="354.0" stroke="#c49272" stroke-width="0.9"/>
<line x1="1753.0" y1="289" x2="1754.3" y2="357" stroke="#c49272" stroke-width="1"/>
<line x1="1756.1" y1="292.0" x2="1766.1" y2="292.0" stroke="#c49272" stroke-width="0.9"/>
<line x1="1756.2" y1="298.2" x2="1766.2" y2="298.2" stroke="#c49272" stroke-width="0.9"/>
<line x1="1756.3" y1="304.4" x2="1766.3" y2="304.4" stroke="#c49272" stroke-width="0.9"/>
<line x1="1756.4" y1="310.6" x2="1766.4" y2="310.6" stroke="#c49272" stroke-width="0.9"/>
<line x1="1756.5" y1="316.8" x2="1766.5" y2="316.8" stroke="#c49272" stroke-width="0.9"/>
<line x1="1756.7" y1="323.0" x2="1766.7" y2="323.0" stroke="#c49272" stroke-width="0.9"/>
<line x1="1756.8" y1="329.2" x2="1766.8" y2="329.2" stroke="#c49272" stroke-width="0.9"/>
<line x1="1756.9" y1="335.4" x2="1766.9" y2="335.4" stroke="#c49272" stroke-width="0.9"/>
<line x1="1757.0" y1="341.6" x2="1767.0" y2="341.6" stroke="#c49272" stroke-width="0.9"/>
<line x1="1757.2" y1="347.8" x2="1767.2" y2="347.8" stroke="#c49272" stroke-width="0.9"/>
<line x1="1757.3" y1="354.0" x2="1767.3" y2="354.0" stroke="#c49272" stroke-width="0.9"/>
<line x1="1768.0" y1="289" x2="1768.0" y2="357" stroke="#c49272" stroke-width="1"/>
</g>
<rect x="94.7" y="376" width="533.5" height="321" fill="#ffffff"/>
<rect x="95.2" y="376.5" width="532.5" height="320" fill="none" stroke="#e6eef8" stroke-width="1.5"/>
<line x1="247.1" y1="400.5" x2="247.1" y2="650.3" stroke="#e3e3e3" stroke-width="1"/>
<line x1="329.5" y1="400.5" x2="329.5" y2="650.3" stroke="#e3e3e3" stroke-width="1"/>
<line x1="412.0" y1="400.5" x2="412.0" y2="650.3" stroke="#e3e3e3" stroke-width="1"/>
<line x1="494.4" y1="400.5" x2="494.4" y2="650.3" stroke="#e3e3e3" stroke-width="1"/>
<line x1="164.6" y1="442.1" x2="576.9" y2="442.1" stroke="#e3e3e3" stroke-width="1"/>
<line x1="164.6" y1="483.8" x2="576.9" y2="483.8" stroke="#e3e3e3" stroke-width="1"/>
<line x1="164.6" y1="525.4" x2="576.9" y2="525.4" stroke="#e3e3e3" stroke-width="1"/>
<line x1="164.6" y1="567.0" x2="576.9" y2="567.0" stroke="#e3e3e3" stroke-width="1"/>
<line x1="164.6" y1="608.7" x2="576.9" y2="608.7" stroke="#e3e3e3" stroke-width="1"/>
<clipPath id="ch94_376"><rect x="164.6" y="397.5" width="412.29999999999995" height="252.79999999999995"/></clipPath>
<g clip-path="url(#ch94_376)" fill="none" stroke-width="1.6" stroke-linejoin="round">
<polyline points="164.6,443.0 166.5,441.3 168.3,440.8 170.2,440.9 172.1,439.9 174.0,439.3 175.8,438.4 177.5,438.2 179.2,439.2 180.9,439.3 182.6,438.1 184.3,438.7 185.9,438.3 187.6,439.4 189.4,438.3 191.2,437.5 193.0,437.8 194.7,436.3 196.5,436.0 198.2,437.0 199.9,436.7 201.6,435.6 203.2,434.7 204.9,435.3 206.6,435.2 208.3,434.6 210.0,434.9 211.7,434.4 213.4,433.8 215.1,433.5 216.7,433.6 218.4,433.4 220.1,433.1 221.9,432.7 223.7,432.8 225.4,433.1 227.2,431.8 229.0,432.0 230.7,432.1 232.4,433.0 234.0,432.0 235.7,432.5 237.4,433.7 239.1,433.6 240.8,433.3 242.5,433.1 244.2,432.6 245.9,433.1 247.5,432.3 249.2,432.3 250.9,432.6 252.6,432.0 254.4,432.2 256.2,432.8 257.9,433.9 259.7,434.4 261.5,435.8 263.2,436.0 264.8,435.7 266.5,436.7 268.2,437.6 269.9,437.6 271.6,437.8 273.3,438.4 275.0,438.7 276.7,438.6 278.3,438.4 280.0,437.9 281.7,438.2 283.4,438.3 285.1,438.1 286.8,439.2 288.5,439.6 290.2,439.0 291.9,439.0 293.5,440.0 295.2,440.7 296.9,441.5 298.7,441.5 300.5,441.4 302.2,442.2 304.0,443.1 305.8,443.1 307.5,444.6 309.3,444.7 311.1,444.6 312.9,445.7 314.6,446.4 316.4,447.2 318.2,447.3 320.0,447.2 321.7,449.1 323.5,448.4 325.3,448.9 327.0,449.3 328.8,450.0 330.6,450.4 332.4,451.3 334.0,450.8 335.7,450.6 337.4,450.7 339.1,449.1 340.8,449.1 342.5,449.3 344.2,448.4 345.9,449.2 347.7,450.1 349.5,450.8 351.3,451.3 353.0,451.9 354.8,452.7 356.6,453.6 358.3,455.0 360.1,455.4 361.9,456.3 363.6,454.7 365.3,453.4 367.0,452.6 368.6,451.6 370.3,450.7 372.0,450.6 373.7,448.8 375.4,449.1 377.1,450.1 378.8,450.2 380.5,450.3 382.1,449.3 383.8,450.1 385.5,450.4 387.2,449.9 388.9,450.5 390.6,451.1 392.3,451.2 394.0,450.9 395.6,451.6 397.3,451.7 399.0,450.3 400.7,450.0 402.4,449.5 404.1,448.5 405.8,448.5 407.5,447.2 409.1,446.4 410.8,446.5 412.5,446.4 414.2,445.0 415.9,445.3 417.6,445.5 419.3,444.6 421.0,444.1 422.6,445.5 424.3,445.8 426.0,445.8 427.7,445.2 429.4,446.3 431.1,445.8 432.8,446.1 434.5,445.7 436.1,445.6 437.8,444.0 439.5,443.7 441.2,443.6 442.9,443.4 444.6,442.3 446.3,442.5 448.0,442.1 449.6,442.4 451.3,441.8 453.0,442.5 454.7,442.0 456.4,440.9 458.1,441.4 459.8,442.5 461.5,442.1 463.2,443.2 464.8,442.6 466.5,443.3 468.2,444.1 469.9,443.9 471.6,443.8 473.3,442.1 475.0,442.9 476.7,441.4 478.3,440.7 480.0,440.9 481.7,442.2 483.4,442.0 485.1,442.6 486.8,443.7 488.5,444.8 490.2,445.7 491.8,446.5 493.5,446.9 495.2,446.4 496.9,446.9 498.6,447.4 500.3,447.7 502.0,447.1 503.7,447.8 505.3,447.8 507.0,448.3 508.7,447.7 510.4,447.9 512.1,449.5 513.8,449.5 515.5,449.5 517.2,448.9 519.0,449.6 520.8,450.6 522.6,451.1 524.3,450.8 526.1,450.9 527.9,451.1 529.6,452.3 531.4,451.9 533.2,452.6 535.0,453.0 536.7,452.4 538.5,453.7 540.3,453.1 542.0,454.2 543.8,454.2 545.6,453.3 547.4,454.4 549.1,453.8 550.9,454.2 552.6,454.1 554.4,455.0 556.1,455.3 557.8,455.6 559.6,455.0 561.3,455.7 563.0,455.4 564.8,455.8 566.5,457.1 568.2,456.8 570.0,457.7 571.7,458.0 573.4,458.3 575.2,457.4 576.9,458.1" stroke="#46d446"/>
<polyline points="164.6,452.2 166.5,453.7 168.4,456.4 170.3,454.9 172.1,452.3 174.0,451.0 175.8,449.6 177.5,450.1 179.2,449.5 180.9,449.5 182.6,449.4 184.3,449.9 185.9,449.5 187.6,449.4 189.5,449.2 191.3,449.1 193.2,449.4 195.0,450.2 196.9,450.7 198.7,451.2 200.6,451.8 202.4,452.0 204.1,451.2 205.8,451.2 207.5,450.9 209.2,449.9 210.8,450.3 212.5,450.0 214.2,450.3 215.9,450.2 217.6,449.4 219.3,449.4 221.0,448.5 222.7,447.5 224.3,447.6 226.0,448.0 227.7,447.3 229.4,447.7 231.1,448.2 232.8,448.3 234.5,448.8 236.2,449.1 237.8,450.1 239.8,450.2 241.8,451.2 243.8,453.3 245.6,451.7 247.4,451.0 249.3,450.7 251.1,449.8 252.9,450.3 254.6,450.0 256.3,451.1 258.0,451.0 259.7,452.1 261.5,451.7 263.2,452.6 264.8,454.1 266.5,454.9 268.2,455.3 269.9,456.6 271.6,457.8 273.3,459.1 275.0,459.8 276.7,460.1 278.3,461.8 280.0,461.5 281.7,463.3 283.4,463.2 285.1,464.9 286.8,464.4 288.5,465.2 290.2,465.9 291.9,466.3 293.5,466.5 295.2,467.1 296.9,467.9 298.6,468.7 300.3,468.9 302.0,468.9 303.7,470.0 305.4,471.4 307.0,470.9 308.7,471.7 310.4,471.9 312.1,473.3 313.8,473.0 315.5,474.4 317.2,473.9 318.9,474.9 320.5,475.4 322.2,475.0 323.9,476.7 325.6,476.6 327.3,476.7 329.0,478.1 330.7,478.7 332.4,478.3 334.0,478.5 335.7,477.7 337.4,478.3 339.1,477.4 340.8,477.2 342.5,476.1 344.2,476.5 345.9,475.9 347.5,478.0 349.2,477.7 350.9,479.5 352.6,479.8 354.3,479.7 356.0,481.4 358.2,482.8 360.4,483.6 362.1,482.8 363.9,482.1 365.6,479.5 367.3,479.4 369.0,478.4 370.8,476.7 372.5,475.7 374.3,474.9 376.1,475.3 377.8,474.3 379.6,474.2 381.4,474.0 383.2,474.0 384.9,474.5 386.7,474.7 388.5,475.4 390.2,475.7 392.0,476.3 393.8,477.1 395.6,477.9 397.3,477.7 399.0,477.2 400.7,476.4 402.4,474.9 404.1,473.2 405.8,473.2 407.5,471.5 409.1,470.7 410.9,469.7 412.7,469.3 414.5,467.2 416.2,467.4 418.0,466.0 419.7,466.5 421.4,467.3 423.1,466.7 424.8,467.5 426.4,467.8 428.1,468.1 429.8,468.1 431.6,467.5 433.4,466.0 435.1,465.5 436.9,464.1 438.7,463.4 440.4,462.8 442.1,463.4 443.7,462.5 445.4,462.2 447.1,461.2 448.8,460.6 450.5,459.8 452.3,459.6 454.0,460.0 455.8,459.4 457.6,459.0 459.4,459.5 461.3,461.4 463.3,462.8 465.3,465.2 467.0,463.7 468.8,463.8 470.6,463.5 472.3,462.7 474.1,462.1 475.8,461.7 477.5,460.8 479.2,460.5 480.9,460.3 482.6,459.4 484.2,459.6 485.9,458.1 487.7,458.7 489.5,459.6 491.3,460.6 493.0,461.1 494.8,461.6 496.6,462.5 498.5,462.2 500.3,462.2 502.2,462.9 504.0,463.2 505.9,462.4 507.7,463.2 509.6,463.1 511.2,463.2 512.9,464.3 514.6,465.4 516.3,465.0 518.0,466.5 519.7,467.7 521.4,467.3 523.1,468.6 524.8,468.7 526.4,468.4 528.1,469.0 529.8,470.4 531.5,470.2 533.2,470.7 535.0,471.0 536.7,471.9 538.5,471.8 540.3,473.0 542.0,473.1 543.8,473.4 545.6,473.0 547.4,474.7 549.1,474.2 550.9,475.4 552.6,475.3 554.3,476.0 556.0,476.3 557.7,476.3 559.3,477.3 561.0,478.1 562.7,478.5 564.5,478.5 566.3,477.2 568.0,477.4 569.8,476.8 571.6,477.1 573.4,478.0 575.1,476.9 576.9,477.1" stroke="#2424a0"/>
<polyline points="164.6,454.7 166.5,453.1 168.3,452.2 170.2,450.8 172.1,449.6 174.0,449.3 175.8,448.2 177.5,446.3 179.2,446.4 180.9,445.7 182.6,443.9 184.3,444.0 185.9,442.7 187.6,442.5 189.5,442.8 191.3,444.1 193.2,443.9 195.0,444.2 196.9,445.2 198.7,445.5 200.6,446.1 202.4,447.5 204.1,446.1 205.8,445.9 207.5,445.9 209.2,445.9 210.8,444.3 212.5,444.4 214.2,443.6 216.0,442.5 217.8,441.9 219.5,440.7 221.3,440.6 223.1,439.1 225.3,438.6 227.5,436.8 229.4,437.8 231.2,439.8 233.0,440.6 234.9,441.4 236.7,441.6 238.4,443.7 240.2,444.7 242.0,446.5 243.8,447.5 245.6,447.4 247.4,447.1 249.3,446.5 251.1,446.2 252.9,445.1 254.7,444.9 256.5,443.9 258.2,443.4 260.0,442.6 261.8,445.1 263.7,447.8 265.5,448.8 267.4,450.7 269.2,452.8 270.9,455.4 272.7,457.2 274.5,460.0 276.2,461.2 278.1,461.9 279.9,462.6 281.8,463.2 283.6,462.4 285.5,462.5 287.3,464.1 289.2,463.3 291.0,464.2 292.7,465.1 294.4,465.4 296.1,465.2 297.8,465.5 299.4,467.3 301.1,466.9 302.8,468.3 304.5,469.0 306.2,471.2 307.9,472.1 309.6,473.7 311.3,476.0 312.9,477.0 314.6,479.7 316.3,482.4 318.0,483.9 319.7,487.1 321.4,489.2 323.1,491.2 324.8,493.2 326.4,496.2 328.2,497.2 330.0,496.9 331.8,498.6 333.5,498.6 335.3,499.5 337.1,499.7 338.9,499.0 340.6,498.3 342.4,497.5 344.2,497.0 345.9,499.4 347.7,501.7 349.5,503.6 351.3,506.6 353.0,509.1 355.0,513.6 357.0,519.2 358.9,524.1 360.8,524.9 362.6,527.4 364.5,529.2 366.3,531.9 368.2,531.3 370.0,531.0 371.9,531.9 373.7,531.0 375.5,532.7 377.2,535.4 379.0,536.3 380.8,538.3 382.6,539.8 384.3,541.5 385.9,542.3 387.6,543.5 389.3,545.8 391.0,547.0 392.7,547.4 394.4,548.2 396.1,549.0 397.9,548.4 399.7,547.9 401.5,548.0 403.2,547.6 404.9,546.0 406.6,544.2 408.3,542.2 410.0,541.0 411.7,539.2 413.4,536.9 415.1,536.3 416.8,535.8 418.6,535.8 420.4,536.8 422.1,537.2 423.9,536.6 425.6,537.2 427.3,537.1 429.0,536.5 430.7,535.9 432.4,536.6 434.0,536.1 435.7,535.8 437.5,531.6 439.3,528.6 441.0,524.4 442.8,521.9 444.6,518.1 446.3,516.0 448.0,513.9 449.6,512.9 451.3,511.5 453.0,510.0 454.7,507.7 456.4,506.5 458.2,505.1 459.9,504.6 461.7,505.1 463.5,504.5 465.3,503.2 467.2,501.8 469.2,499.9 471.2,498.9 472.9,497.0 474.7,494.6 476.5,491.7 478.3,490.2 480.0,487.9 481.7,487.4 483.4,487.0 485.1,486.6 486.8,485.4 488.5,486.1 490.2,485.9 491.8,484.1 493.5,484.1 495.2,483.8 496.9,484.5 498.6,483.6 500.3,483.5 502.0,484.4 503.7,483.5 505.3,483.4 507.0,483.6 508.7,483.8 510.4,484.2 512.1,484.1 513.8,484.3 515.5,484.5 517.2,483.5 518.8,483.8 520.5,482.8 522.2,483.7 523.9,482.2 525.6,482.3 527.3,481.8 529.0,481.6 530.7,481.4 532.3,481.6 534.0,482.3 535.7,481.0 537.4,481.6 539.1,481.2 540.8,480.5 542.5,480.5 544.2,480.4 545.8,479.4 547.5,479.7 549.2,479.9 550.9,479.8 552.6,479.5 554.3,480.7 556.0,480.9 557.7,482.2 559.3,483.0 561.0,483.2 562.7,483.4 564.5,484.1 566.3,482.9 568.0,482.5 569.8,482.4 571.6,482.1 573.4,483.0 575.1,481.9 576.9,481.8" stroke="#d844dc"/>
<polyline points="164.6,509.4 166.3,507.8 167.9,505.6 169.6,504.2 171.2,502.5 172.9,500.3 174.6,498.9 176.2,498.4 177.9,497.8 179.6,498.0 181.3,496.9 183.0,496.6 184.7,496.2 186.5,497.4 188.2,498.5 190.0,498.6 191.8,499.9 193.5,501.2 195.3,501.2 197.1,502.0 198.9,501.9 200.6,501.4 202.4,501.3 204.1,500.0 205.8,498.9 207.5,499.0 209.2,497.2 210.8,496.1 212.5,495.3 214.2,494.7 216.2,493.1 218.2,492.4 220.1,490.0 221.9,490.5 223.7,491.4 225.4,492.2 227.2,491.7 229.0,492.6 230.7,492.2 232.4,492.2 234.0,492.7 235.7,492.9 237.4,492.6 239.1,492.8 240.8,493.2 242.5,492.6 244.2,491.4 245.9,492.1 247.5,491.7 249.2,490.4 250.9,490.5 252.6,489.7 254.5,490.9 256.3,492.2 258.2,492.4 260.0,494.7 261.8,495.4 263.7,496.9 265.5,497.3 267.4,499.0 269.2,499.2 271.1,499.0 272.9,500.0 274.8,500.0 276.6,499.9 278.5,501.4 280.3,501.9 282.1,502.0 284.0,501.6 285.8,502.2 287.7,503.1 289.5,503.3 291.4,503.9 293.2,503.9 295.1,504.9 296.9,504.3 298.6,504.6 300.3,505.2 302.0,506.1 303.7,506.4 305.4,508.4 307.0,508.7 308.7,508.3 310.4,508.9 312.1,509.8 313.8,509.4 315.5,510.2 317.2,510.2 318.9,511.3 320.5,511.8 322.2,512.2 323.9,513.3 325.6,513.7 327.3,513.6 329.0,515.2 330.7,516.4 332.4,517.0 334.0,516.4 335.7,515.1 337.4,515.3 339.1,515.0 340.8,514.9 342.5,513.1 344.2,513.5 345.9,514.9 347.7,516.1 349.5,517.1 351.3,517.9 353.0,518.2 354.9,520.7 356.7,522.5 358.6,523.6 360.4,525.6 362.3,523.0 364.1,522.8 366.0,520.8 367.8,518.9 369.6,517.4 371.3,514.5 373.1,513.2 374.9,511.4 376.7,509.1 378.4,510.0 380.2,509.7 382.0,510.2 383.7,509.6 385.5,510.0 387.3,511.1 389.1,512.3 390.8,512.6 392.6,513.2 394.4,513.9 396.1,512.9 397.9,511.1 399.7,511.3 401.5,510.5 403.2,508.4 404.9,507.4 406.6,505.3 408.3,504.7 410.0,502.5 411.7,501.4 413.4,499.7 415.1,498.3 416.8,498.1 418.6,498.1 420.4,497.3 422.1,495.7 423.9,495.1 425.8,494.3 427.6,494.5 429.4,493.2 431.3,492.3 433.1,491.8 435.0,490.8 436.8,490.5 438.7,489.6 440.4,489.0 442.1,489.0 443.7,487.5 445.4,486.9 447.1,487.7 448.8,485.8 450.5,485.3 452.2,485.4 453.9,486.0 455.6,484.5 457.2,485.3 458.9,483.8 460.6,483.9 462.3,484.5 464.0,483.8 465.7,482.6 467.4,482.1 469.1,481.3 470.7,480.5 472.4,481.0 474.1,480.7 475.8,479.1 477.5,480.1 479.2,478.6 480.9,479.4 482.6,478.1 484.2,477.8 485.9,477.4 487.7,478.6 489.5,478.9 491.3,480.7 493.0,480.8 494.8,482.0 496.6,481.6 498.3,482.2 500.1,483.1 501.9,483.4 503.7,484.6 505.3,485.2 507.0,485.0 508.7,485.8 510.4,485.9 512.1,486.9 513.8,488.2 515.5,488.5 517.2,488.2 519.0,488.9 520.8,489.9 522.6,489.0 524.3,489.3 526.1,490.7 527.9,490.3 529.6,490.8 531.4,490.5 533.2,491.5 535.0,492.2 536.7,492.5 538.5,492.4 540.3,494.2 542.0,494.8 543.8,494.6 545.6,494.8 547.4,496.0 549.1,496.7 550.9,496.6 552.6,498.2 554.3,500.8 556.0,501.0 557.7,503.5 559.3,504.8 561.0,505.5 562.7,507.6 564.5,506.9 566.3,507.6 568.0,506.4 569.8,507.2 571.6,507.1 573.4,506.4 575.1,506.5 576.9,506.0" stroke="#b83434"/>
</g>
<rect x="164.6" y="400.5" width="412.29999999999995" height="249.79999999999995" fill="none" stroke="#5a5a5a" stroke-width="1.3"/>
<line x1="247.1" y1="650.3" x2="247.1" y2="646.3" stroke="#5a5a5a" stroke-width="1"/><line x1="247.1" y1="400.5" x2="247.1" y2="404.5" stroke="#5a5a5a" stroke-width="1"/>
<line x1="329.5" y1="650.3" x2="329.5" y2="646.3" stroke="#5a5a5a" stroke-width="1"/><line x1="329.5" y1="400.5" x2="329.5" y2="404.5" stroke="#5a5a5a" stroke-width="1"/>
<line x1="412.0" y1="650.3" x2="412.0" y2="646.3" stroke="#5a5a5a" stroke-width="1"/><line x1="412.0" y1="400.5" x2="412.0" y2="404.5" stroke="#5a5a5a" stroke-width="1"/>
<line x1="494.4" y1="650.3" x2="494.4" y2="646.3" stroke="#5a5a5a" stroke-width="1"/><line x1="494.4" y1="400.5" x2="494.4" y2="404.5" stroke="#5a5a5a" stroke-width="1"/>
<line x1="164.6" y1="400.5" x2="168.6" y2="400.5" stroke="#5a5a5a" stroke-width="1"/><line x1="576.9" y1="400.5" x2="572.9" y2="400.5" stroke="#5a5a5a" stroke-width="1"/>
<line x1="164.6" y1="442.1" x2="168.6" y2="442.1" stroke="#5a5a5a" stroke-width="1"/><line x1="576.9" y1="442.1" x2="572.9" y2="442.1" stroke="#5a5a5a" stroke-width="1"/>
<line x1="164.6" y1="483.8" x2="168.6" y2="483.8" stroke="#5a5a5a" stroke-width="1"/><line x1="576.9" y1="483.8" x2="572.9" y2="483.8" stroke="#5a5a5a" stroke-width="1"/>
<line x1="164.6" y1="525.4" x2="168.6" y2="525.4" stroke="#5a5a5a" stroke-width="1"/><line x1="576.9" y1="525.4" x2="572.9" y2="525.4" stroke="#5a5a5a" stroke-width="1"/>
<line x1="164.6" y1="567.0" x2="168.6" y2="567.0" stroke="#5a5a5a" stroke-width="1"/><line x1="576.9" y1="567.0" x2="572.9" y2="567.0" stroke="#5a5a5a" stroke-width="1"/>
<line x1="164.6" y1="608.7" x2="168.6" y2="608.7" stroke="#5a5a5a" stroke-width="1"/><line x1="576.9" y1="608.7" x2="572.9" y2="608.7" stroke="#5a5a5a" stroke-width="1"/>
<line x1="164.6" y1="650.3" x2="168.6" y2="650.3" stroke="#5a5a5a" stroke-width="1"/><line x1="576.9" y1="650.3" x2="572.9" y2="650.3" stroke="#5a5a5a" stroke-width="1"/>
<g font-family="Liberation Serif" font-size="16.3" fill="#262626">
<text x="164.6" y="671.7" text-anchor="middle">7</text>
<text x="247.1" y="671.7" text-anchor="middle">7.2</text>
<text x="329.5" y="671.7" text-anchor="middle">7.4</text>
<text x="412.0" y="671.7" text-anchor="middle">7.6</text>
<text x="494.4" y="671.7" text-anchor="middle">7.8</text>
<text x="576.9" y="671.7" text-anchor="middle">8</text>
<text x="158.1" y="406.1" text-anchor="end">0</text>
<text x="158.1" y="447.7" text-anchor="end">-0.2</text>
<text x="158.1" y="489.4" text-anchor="end">-0.4</text>
<text x="158.1" y="531.0" text-anchor="end">-0.6</text>
<text x="158.1" y="572.6" text-anchor="end">-0.8</text>
<text x="158.1" y="614.3" text-anchor="end">-1</text>
<text x="158.1" y="655.9" text-anchor="end">-1.2</text>
</g>
<text x="370.8" y="693.0" text-anchor="middle" font-family="Liberation Serif" font-size="18" fill="#262626">Frequency (GHz)</text>
<text x="125.6" y="525.4" transform="rotate(-90 125.6 525.4)" text-anchor="middle" font-family="Liberation Serif" font-size="18" fill="#262626">Reflection (S11, dB)</text>
<rect x="170.3" y="577.6" width="266.0" height="64.6" fill="#ffffff" stroke="#3a3a3a" stroke-width="0.9"/>
<line x1="175.0" y1="587.0" x2="208.1" y2="587.0" stroke="#2424a0" stroke-width="1.6"/>
<text x="211.8" y="591.4" font-family="Liberation Serif" font-size="12.8" fill="#262626">Copper tape</text>
<line x1="175.0" y1="602.4" x2="208.1" y2="602.4" stroke="#d844dc" stroke-width="1.6"/>
<text x="211.8" y="606.8" font-family="Liberation Serif" font-size="12.8" fill="#262626">Dielectric with copper ground</text>
<line x1="175.0" y1="617.8" x2="208.1" y2="617.8" stroke="#46d446" stroke-width="1.6"/>
<text x="211.8" y="622.2" font-family="Liberation Serif" font-size="12.8" fill="#262626">Stucuture on Dielectric</text>
<line x1="175.0" y1="633.3" x2="208.1" y2="633.3" stroke="#b83434" stroke-width="1.6"/>
<text x="211.8" y="637.7" font-family="Liberation Serif" font-size="12.8" fill="#262626">Structure on Dielectric with copper ground</text>
<rect x="690.3" y="376.5" width="534.4000000000001" height="321.20000000000005" fill="#ffffff"/>
<rect x="690.8" y="377.0" width="533.4000000000001" height="320.20000000000005" fill="none" stroke="#e6eef8" stroke-width="1.5"/>
<line x1="843.7" y1="400.7" x2="843.7" y2="650" stroke="#e3e3e3" stroke-width="1"/>
<line x1="926.2" y1="400.7" x2="926.2" y2="650" stroke="#e3e3e3" stroke-width="1"/>
<line x1="1008.6" y1="400.7" x2="1008.6" y2="650" stroke="#e3e3e3" stroke-width="1"/>
<line x1="1091.1" y1="400.7" x2="1091.1" y2="650" stroke="#e3e3e3" stroke-width="1"/>
<line x1="761.2" y1="450.6" x2="1173.6" y2="450.6" stroke="#e3e3e3" stroke-width="1"/>
<line x1="761.2" y1="500.4" x2="1173.6" y2="500.4" stroke="#e3e3e3" stroke-width="1"/>
<line x1="761.2" y1="550.3" x2="1173.6" y2="550.3" stroke="#e3e3e3" stroke-width="1"/>
<line x1="761.2" y1="600.1" x2="1173.6" y2="600.1" stroke="#e3e3e3" stroke-width="1"/>
<clipPath id="ch690_376"><rect x="761.2" y="397.7" width="412.39999999999986" height="252.3"/></clipPath>
<g clip-path="url(#ch690_376)" fill="none" stroke-width="1.6" stroke-linejoin="round">
<polyline points="761.2,632.7 763.4,632.0 765.5,631.5 767.7,630.8 769.4,630.3 771.1,629.4 772.8,629.9 774.4,628.6 776.1,627.2 777.8,626.9 779.5,625.8 781.3,626.7 783.0,626.1 784.8,626.2 786.6,625.6 788.4,625.4 790.1,626.0 791.9,625.5 793.7,625.3 795.4,624.2 797.2,624.2 798.9,624.8 800.6,623.6 802.3,624.2 804.0,623.3 805.6,623.6 807.3,623.5 809.0,622.0 810.9,622.4 812.7,621.8 814.6,620.2 816.4,619.8 818.2,620.1 820.1,618.6 821.9,618.6 823.8,617.9 825.6,618.3 827.3,617.0 829.1,617.1 830.9,616.5 832.6,616.4 834.4,617.0 836.2,616.6 838.0,616.7 839.7,616.5 841.5,616.3 843.3,615.4 845.0,614.4 846.8,614.7 848.6,613.1 850.4,613.0 852.1,613.2 853.9,612.7 855.7,613.3 857.4,613.7 859.2,613.7 861.0,613.6 862.8,614.6 864.5,613.5 866.3,615.0 868.1,614.2 869.8,614.1 871.6,615.2 873.4,614.2 875.1,614.7 876.9,614.4 878.7,615.2 880.5,615.2 882.2,615.0 884.0,613.9 885.8,615.0 887.5,614.5 889.1,614.5 890.8,614.8 892.5,616.0 894.2,616.2 895.9,616.3 897.6,616.2 899.3,617.2 901.0,616.3 902.6,616.2 904.3,616.1 906.0,617.3 907.7,616.0 909.4,617.2 911.2,617.4 912.9,617.6 914.7,617.8 916.5,619.2 918.2,619.0 920.0,620.1 921.8,621.0 923.6,621.6 925.3,622.4 927.1,623.1 928.9,623.0 930.8,622.3 932.6,621.8 934.5,623.0 936.3,623.2 938.2,621.9 940.0,622.5 941.9,622.7 943.7,623.5 945.6,623.5 947.4,623.7 949.2,624.8 951.1,625.4 952.9,626.5 954.8,625.8 956.6,627.6 958.3,627.2 960.0,626.9 961.7,628.1 963.4,627.5 965.1,627.4 966.7,628.0 968.4,628.0 970.1,628.4 971.8,627.3 973.5,627.0 975.2,625.4 976.9,625.6 978.6,624.7 980.2,623.3 982.0,624.0 983.8,624.2 985.6,625.4 987.3,625.8 989.1,625.9 990.9,626.7 992.6,627.4 994.4,627.7 996.2,628.5 998.0,628.6 999.6,626.8 1001.3,625.9 1003.0,625.3 1004.7,624.6 1006.4,623.8 1008.1,623.2 1009.8,622.0 1011.6,621.4 1013.5,621.4 1015.3,622.2 1017.1,621.7 1019.0,621.8 1020.8,622.0 1022.7,622.2 1024.5,622.2 1026.4,622.2 1028.2,621.1 1030.1,621.2 1031.9,620.3 1033.7,619.4 1035.6,618.9 1037.4,618.9 1039.3,617.5 1041.1,617.7 1042.8,617.5 1044.6,618.1 1046.4,617.1 1048.1,617.3 1049.9,616.4 1051.7,616.5 1053.5,615.8 1055.2,615.8 1057.0,615.3 1058.7,615.9 1060.4,615.4 1062.1,615.2 1063.7,614.9 1065.4,615.5 1067.1,614.8 1068.8,614.6 1070.5,614.5 1072.2,613.8 1073.9,613.5 1075.6,613.8 1077.2,613.4 1078.9,613.6 1080.6,612.3 1082.4,612.1 1084.2,612.6 1085.9,612.2 1087.7,612.0 1089.5,611.9 1091.2,612.5 1093.0,611.6 1094.8,611.7 1096.6,611.5 1098.3,611.7 1100.0,611.6 1101.7,611.6 1103.4,611.9 1105.1,612.0 1106.8,613.1 1108.4,613.1 1110.1,612.9 1111.9,612.6 1113.7,613.2 1115.4,612.5 1117.2,612.6 1119.0,613.4 1120.8,612.8 1122.5,613.2 1124.3,613.4 1126.1,613.3 1127.8,613.0 1129.6,613.4 1131.4,613.6 1133.2,614.0 1134.9,613.5 1136.7,613.8 1138.5,613.7 1140.2,613.9 1142.0,614.6 1143.8,613.8 1145.6,615.3 1147.2,615.0 1148.9,615.5 1150.6,615.6 1152.3,616.3 1154.0,615.6 1155.7,616.5 1157.4,617.3 1159.2,616.6 1161.0,617.5 1162.8,617.1 1164.6,617.5 1166.4,617.3 1168.2,617.0 1170.0,617.3 1171.8,618.0 1173.6,618.1" stroke="#46d446"/>
<polyline points="761.2,424.2 763.0,424.2 764.7,424.6 766.5,425.0 768.3,425.3 770.1,424.4 771.8,424.7 773.6,424.3 775.4,425.0 777.3,424.6 779.1,425.5 781.0,424.9 782.8,425.2 784.7,425.9 786.5,425.9 788.4,425.8 790.2,426.3 792.0,425.7 793.9,425.1 795.7,425.7 797.6,424.8 799.4,424.7 801.3,424.3 803.1,424.9 804.8,425.0 806.5,423.8 808.2,423.6 809.9,423.9 811.6,424.1 813.2,423.8 814.9,423.0 816.6,423.7 818.3,422.9 820.0,423.7 821.7,424.4 823.4,424.0 825.0,424.6 826.7,424.0 828.4,424.3 830.1,425.0 831.8,425.1 833.5,425.2 835.2,425.3 836.9,425.2 838.5,426.8 840.2,426.1 841.9,425.5 843.6,425.7 845.3,425.1 847.0,425.6 848.7,424.3 850.4,424.6 852.0,425.8 853.7,425.7 855.4,426.8 857.1,427.6 858.8,427.8 860.5,428.9 862.2,429.5 864.0,428.7 865.8,429.1 867.7,430.3 869.5,429.4 871.4,430.7 873.2,430.4 875.1,429.8 876.9,430.4 878.8,431.2 880.6,431.4 882.5,431.8 884.3,432.5 886.1,431.7 888.0,433.4 889.8,433.2 891.7,433.1 893.5,433.7 895.4,433.0 897.2,434.2 899.1,433.3 900.9,433.5 902.8,433.9 904.6,433.7 906.4,434.4 908.3,434.4 910.1,434.8 912.0,435.7 913.8,436.2 915.7,436.3 917.5,437.2 919.4,438.1 921.2,437.6 923.0,438.2 924.9,437.8 926.7,437.3 928.6,438.1 930.4,438.2 932.3,438.0 934.1,437.3 936.0,437.5 937.8,437.9 939.7,437.9 941.5,437.5 943.3,438.7 945.2,438.7 947.0,438.3 948.9,439.0 950.7,439.7 952.7,439.9 954.7,440.4 956.6,441.4 958.3,440.4 960.0,439.9 961.7,438.5 963.4,438.6 965.1,437.5 966.7,436.4 968.4,435.9 970.1,436.6 971.8,436.3 973.5,436.7 975.2,436.6 976.9,436.5 978.6,436.0 980.2,435.8 982.1,437.0 983.9,437.6 985.8,437.3 987.6,438.1 989.5,438.4 991.3,437.6 993.2,438.8 995.0,438.2 996.7,438.0 998.4,436.5 1000.1,435.9 1001.7,436.3 1003.4,435.4 1005.1,433.6 1006.8,433.3 1008.5,433.4 1010.2,432.7 1011.9,432.4 1013.6,432.7 1015.2,432.5 1016.9,432.8 1018.6,432.2 1020.5,432.6 1022.3,432.0 1024.2,432.1 1026.0,432.8 1027.8,432.2 1029.7,433.0 1031.5,433.1 1033.4,432.4 1035.1,432.1 1036.8,431.0 1038.4,430.9 1040.1,430.3 1041.8,430.6 1043.5,429.1 1045.2,429.6 1046.9,428.8 1048.6,428.3 1050.2,428.2 1051.9,428.2 1053.6,428.7 1055.3,428.3 1057.0,428.1 1059.0,430.0 1060.9,429.8 1062.9,430.8 1064.6,431.2 1066.3,430.4 1068.0,430.5 1069.6,430.4 1071.3,429.4 1073.0,430.0 1074.7,428.6 1076.5,428.1 1078.2,428.8 1080.0,427.6 1081.8,428.5 1083.6,427.1 1085.3,428.5 1087.1,428.1 1088.9,429.4 1090.6,429.4 1092.4,431.2 1094.1,431.2 1095.8,430.3 1097.5,430.7 1099.2,431.0 1100.9,431.8 1102.5,431.7 1104.2,431.6 1106.1,432.3 1107.9,431.2 1109.8,431.8 1111.6,431.8 1113.5,432.4 1115.3,433.2 1117.1,433.8 1119.0,433.2 1120.8,434.2 1122.7,433.8 1124.5,434.1 1126.4,434.2 1128.2,435.0 1130.1,435.2 1131.9,434.8 1133.7,435.6 1135.5,435.1 1137.3,435.7 1139.1,435.7 1140.8,436.0 1142.6,435.6 1144.4,436.0 1146.1,436.4 1147.9,436.5 1149.7,436.2 1151.5,435.9 1153.2,436.6 1154.9,437.0 1156.6,436.9 1158.3,437.1 1160.0,436.7 1161.7,436.5 1163.4,436.8 1165.1,437.4 1166.8,437.3 1168.5,437.3 1170.2,437.3 1171.9,437.4 1173.6,437.3" stroke="#2424a0"/>
<polyline points="761.2,426.3 763.0,426.2 764.7,425.0 766.5,425.4 768.3,424.4 770.1,424.2 771.8,424.2 773.6,423.1 775.4,423.3 777.1,422.3 778.9,422.3 780.7,421.8 782.5,420.9 784.3,420.6 786.1,421.8 788.0,421.8 789.8,421.5 791.7,421.3 793.5,422.0 795.4,422.5 797.2,421.9 799.0,422.8 800.8,421.3 802.5,421.7 804.3,421.5 806.1,421.2 807.8,420.5 809.6,419.4 811.4,419.9 813.2,419.0 814.9,418.5 816.7,419.1 818.5,419.0 820.2,419.9 822.0,420.0 823.8,420.0 825.5,419.9 827.2,420.7 828.8,421.4 830.5,421.5 832.2,422.2 833.9,422.9 835.6,422.7 837.4,422.6 839.3,422.9 841.1,422.2 843.0,421.9 844.8,421.1 846.7,421.1 848.5,421.4 850.4,420.1 852.0,422.3 853.7,422.8 855.4,423.3 857.1,425.2 858.8,425.7 860.5,427.3 862.2,427.3 863.8,427.6 865.5,428.3 867.2,428.3 868.9,429.5 870.6,429.4 872.3,430.0 874.0,430.4 875.7,430.8 877.5,430.5 879.3,430.5 881.1,431.4 882.8,431.3 884.6,432.4 886.4,431.7 888.1,432.0 889.9,431.7 891.7,432.2 893.5,433.4 895.4,433.7 897.2,433.8 899.1,435.2 900.9,435.1 902.8,435.9 904.6,436.5 906.4,437.1 908.1,437.1 909.8,439.1 911.5,440.0 913.2,440.8 914.9,441.2 916.6,443.4 918.2,443.9 919.9,444.4 921.6,444.6 923.3,445.3 925.0,445.8 926.7,447.3 928.4,447.7 930.1,448.5 931.7,447.9 933.4,448.0 935.1,449.4 936.8,449.6 938.5,449.7 940.2,449.9 941.9,449.8 943.6,451.1 945.4,453.0 947.2,454.9 948.9,455.8 950.7,457.3 952.5,458.2 954.3,458.8 956.0,460.4 957.8,461.8 959.6,462.9 961.4,462.8 963.3,463.6 965.1,462.5 967.0,462.6 968.8,462.5 970.6,462.6 972.5,463.2 974.3,463.2 976.1,464.5 977.9,464.6 979.7,466.3 981.4,467.2 983.2,467.9 984.9,468.7 986.6,469.2 988.3,470.4 989.9,471.2 991.6,471.7 993.3,472.6 995.0,473.0 996.8,473.0 998.5,471.3 1000.3,471.2 1002.1,471.4 1003.9,470.8 1005.6,469.6 1007.4,468.5 1009.2,467.7 1010.9,465.7 1012.7,464.4 1014.6,465.1 1016.4,465.1 1018.2,465.7 1020.1,465.6 1021.9,465.3 1023.8,465.4 1025.6,464.6 1027.5,465.6 1029.4,465.6 1031.4,464.1 1033.4,464.5 1035.1,463.3 1036.8,461.1 1038.4,460.1 1040.1,457.7 1041.8,455.4 1043.5,453.9 1045.2,452.4 1046.9,452.6 1048.6,452.0 1050.2,451.9 1051.9,450.6 1053.6,450.5 1055.3,449.8 1057.0,450.0 1058.7,449.8 1060.4,448.6 1062.1,448.0 1063.7,447.9 1065.4,447.6 1067.1,447.3 1068.8,447.0 1070.5,447.0 1072.2,445.9 1073.9,445.4 1075.6,445.2 1077.2,444.4 1078.9,443.4 1080.6,442.7 1082.3,441.9 1084.0,441.3 1085.7,441.8 1087.4,440.9 1089.0,440.6 1090.7,440.4 1092.4,441.1 1094.1,441.2 1095.8,441.1 1097.5,441.0 1099.2,440.9 1100.9,440.3 1102.5,439.8 1104.2,439.8 1106.0,440.3 1107.8,440.1 1109.5,439.9 1111.3,440.9 1113.1,440.1 1114.9,439.7 1116.6,439.9 1118.4,439.9 1120.2,440.3 1121.9,440.7 1123.8,440.0 1125.6,440.7 1127.5,440.1 1129.3,439.9 1131.2,440.8 1133.0,440.9 1134.9,440.2 1136.7,440.6 1138.5,440.9 1140.2,440.4 1142.0,439.9 1143.8,438.4 1145.6,438.1 1147.2,439.1 1148.9,438.3 1150.6,438.2 1152.3,438.8 1154.0,439.4 1155.7,439.2 1157.4,439.9 1159.2,440.1 1161.0,438.7 1162.8,439.2 1164.6,439.4 1166.4,438.8 1168.2,439.5 1170.0,438.9 1171.8,438.9 1173.6,439.4" stroke="#d844dc"/>
<polyline points="761.2,450.7 763.1,448.7 765.0,448.8 766.9,447.0 768.8,446.9 770.6,445.7 772.3,444.2 774.0,444.9 775.7,443.8 777.4,443.7 779.1,443.3 780.8,442.8 782.5,442.8 784.2,442.5 786.0,444.1 787.8,444.5 789.5,445.4 791.3,445.6 793.0,445.0 794.7,443.9 796.4,444.2 798.1,444.2 799.7,443.5 801.4,442.1 803.1,443.0 804.8,441.6 806.5,441.4 808.2,440.5 809.9,440.4 811.6,439.3 813.2,439.1 814.9,438.3 816.6,437.9 818.3,438.2 820.0,438.8 821.7,438.8 823.4,437.5 825.0,438.0 826.7,438.3 828.4,437.4 830.1,438.0 831.8,437.9 833.5,437.7 835.2,438.6 836.9,438.6 838.5,438.0 840.2,438.7 841.9,437.5 843.6,438.2 845.3,437.1 847.0,436.7 848.7,436.1 850.4,436.0 852.0,436.9 853.7,437.7 855.4,438.2 857.1,438.1 858.8,438.5 860.5,439.6 862.2,438.8 864.0,439.6 865.8,439.5 867.7,440.3 869.5,440.5 871.4,441.0 873.2,440.7 875.1,441.0 876.9,441.0 878.8,441.4 880.6,441.1 882.5,441.4 884.3,442.8 886.1,442.9 888.0,443.6 889.8,443.2 891.7,443.2 893.5,444.5 895.2,443.9 897.0,444.8 898.8,445.5 900.5,444.6 902.3,445.5 904.1,445.9 905.8,445.8 907.6,446.3 909.4,446.3 911.1,446.8 912.8,447.3 914.5,447.6 916.1,448.5 917.8,449.3 919.5,449.8 921.2,450.3 922.9,449.9 924.6,450.4 926.3,449.9 927.9,450.6 929.6,450.5 931.3,450.3 933.0,451.8 934.7,452.3 936.4,452.6 938.1,452.6 939.8,452.8 941.4,453.0 943.1,453.9 944.8,453.5 946.5,455.3 948.3,454.7 950.0,456.0 951.7,455.6 953.4,457.3 955.1,456.5 956.9,456.3 958.6,455.4 960.3,455.5 962.0,455.6 963.8,454.0 965.5,454.2 967.3,454.2 969.0,452.8 970.8,452.4 972.6,451.8 974.3,451.7 976.1,452.1 977.8,451.8 979.5,452.4 981.2,453.2 982.9,453.1 984.7,453.1 986.4,453.5 988.1,454.2 989.8,454.7 991.6,455.1 993.3,455.7 995.0,456.1 996.8,455.0 998.7,454.7 1000.5,453.1 1002.4,452.4 1004.2,451.8 1006.1,451.9 1007.9,450.7 1009.8,449.8 1011.6,450.1 1013.5,448.7 1015.3,448.8 1017.1,449.0 1019.0,448.5 1020.8,449.0 1022.7,448.8 1024.5,448.2 1026.4,447.4 1028.2,446.9 1030.1,447.3 1031.9,445.9 1033.7,444.9 1035.6,444.6 1037.4,443.8 1039.3,443.2 1041.1,444.0 1043.0,443.7 1044.8,443.2 1046.7,442.4 1048.5,443.1 1050.4,442.1 1052.2,442.0 1054.0,442.3 1055.9,442.0 1057.7,441.3 1059.6,441.4 1061.4,441.9 1063.3,440.9 1065.1,441.7 1067.0,441.2 1068.8,440.2 1070.5,440.3 1072.2,441.0 1073.9,440.9 1075.6,440.4 1077.2,440.0 1078.9,440.1 1080.6,439.7 1082.3,440.3 1084.0,440.4 1085.7,441.0 1087.4,441.7 1089.0,441.9 1090.7,442.1 1092.4,442.3 1094.1,441.7 1095.8,442.2 1097.5,442.3 1099.2,441.2 1100.9,441.6 1102.5,441.2 1104.2,441.4 1106.0,440.8 1107.8,441.9 1109.5,442.2 1111.3,441.9 1113.1,442.6 1114.9,443.3 1116.6,442.8 1118.4,443.8 1120.2,444.3 1121.9,443.8 1123.8,444.4 1125.6,444.8 1127.5,445.9 1129.3,445.5 1131.2,446.1 1133.0,446.2 1134.9,447.2 1136.7,447.0 1138.5,447.4 1140.4,448.5 1142.2,448.6 1144.1,448.9 1145.9,449.1 1147.8,449.7 1149.6,450.3 1151.5,451.7 1153.2,451.2 1154.9,451.2 1156.6,452.1 1158.3,451.7 1160.0,451.3 1161.7,451.3 1163.4,451.4 1165.1,452.7 1166.8,452.1 1168.5,451.8 1170.2,452.2 1171.9,452.8 1173.6,452.7" stroke="#b83434"/>
</g>
<rect x="761.2" y="400.7" width="412.39999999999986" height="249.3" fill="none" stroke="#5a5a5a" stroke-width="1.3"/>
<line x1="843.7" y1="650" x2="843.7" y2="646" stroke="#5a5a5a" stroke-width="1"/><line x1="843.7" y1="400.7" x2="843.7" y2="404.7" stroke="#5a5a5a" stroke-width="1"/>
<line x1="926.2" y1="650" x2="926.2" y2="646" stroke="#5a5a5a" stroke-width="1"/><line x1="926.2" y1="400.7" x2="926.2" y2="404.7" stroke="#5a5a5a" stroke-width="1"/>
<line x1="1008.6" y1="650" x2="1008.6" y2="646" stroke="#5a5a5a" stroke-width="1"/><line x1="1008.6" y1="400.7" x2="1008.6" y2="404.7" stroke="#5a5a5a" stroke-width="1"/>
<line x1="1091.1" y1="650" x2="1091.1" y2="646" stroke="#5a5a5a" stroke-width="1"/><line x1="1091.1" y1="400.7" x2="1091.1" y2="404.7" stroke="#5a5a5a" stroke-width="1"/>
<line x1="761.2" y1="400.7" x2="765.2" y2="400.7" stroke="#5a5a5a" stroke-width="1"/><line x1="1173.6" y1="400.7" x2="1169.6" y2="400.7" stroke="#5a5a5a" stroke-width="1"/>
<line x1="761.2" y1="450.6" x2="765.2" y2="450.6" stroke="#5a5a5a" stroke-width="1"/><line x1="1173.6" y1="450.6" x2="1169.6" y2="450.6" stroke="#5a5a5a" stroke-width="1"/>
<line x1="761.2" y1="500.4" x2="765.2" y2="500.4" stroke="#5a5a5a" stroke-width="1"/><line x1="1173.6" y1="500.4" x2="1169.6" y2="500.4" stroke="#5a5a5a" stroke-width="1"/>
<line x1="761.2" y1="550.3" x2="765.2" y2="550.3" stroke="#5a5a5a" stroke-width="1"/><line x1="1173.6" y1="550.3" x2="1169.6" y2="550.3" stroke="#5a5a5a" stroke-width="1"/>
<line x1="761.2" y1="600.1" x2="765.2" y2="600.1" stroke="#5a5a5a" stroke-width="1"/><line x1="1173.6" y1="600.1" x2="1169.6" y2="600.1" stroke="#5a5a5a" stroke-width="1"/>
<line x1="761.2" y1="650.0" x2="765.2" y2="650.0" stroke="#5a5a5a" stroke-width="1"/><line x1="1173.6" y1="650.0" x2="1169.6" y2="650.0" stroke="#5a5a5a" stroke-width="1"/>
<g font-family="Liberation Serif" font-size="16.3" fill="#262626">
<text x="761.2" y="671.4" text-anchor="middle">7</text>
<text x="843.7" y="671.4" text-anchor="middle">7.2</text>
<text x="926.2" y="671.4" text-anchor="middle">7.4</text>
<text x="1008.6" y="671.4" text-anchor="middle">7.6</text>
<text x="1091.1" y="671.4" text-anchor="middle">7.8</text>
<text x="1173.6" y="671.4" text-anchor="middle">8</text>
<text x="754.7" y="406.3" text-anchor="end">0</text>
<text x="754.7" y="456.2" text-anchor="end">-0.5</text>
<text x="754.7" y="506.0" text-anchor="end">-1</text>
<text x="754.7" y="555.9" text-anchor="end">-1.5</text>
<text x="754.7" y="605.7" text-anchor="end">-2</text>
<text x="754.7" y="655.6" text-anchor="end">-2.5</text>
</g>
<text x="967.4" y="692.7" text-anchor="middle" font-family="Liberation Serif" font-size="18" fill="#262626">Frequency (GHz)</text>
<text x="722.2" y="525.4" transform="rotate(-90 722.2 525.4)" text-anchor="middle" font-family="Liberation Serif" font-size="18" fill="#262626">Reflection (S11, dB)</text>
<rect x="899.9" y="488.1" width="265.4" height="64.1" fill="#ffffff" stroke="#3a3a3a" stroke-width="0.9"/>
<line x1="904.6" y1="497.5" x2="937.7" y2="497.5" stroke="#2424a0" stroke-width="1.6"/>
<text x="941.4" y="501.9" font-family="Liberation Serif" font-size="12.8" fill="#262626">Copper tape</text>
<line x1="904.6" y1="512.7" x2="937.7" y2="512.7" stroke="#d844dc" stroke-width="1.6"/>
<text x="941.4" y="517.1" font-family="Liberation Serif" font-size="12.8" fill="#262626">Dielectric with copper ground</text>
<line x1="904.6" y1="528.0" x2="937.7" y2="528.0" stroke="#46d446" stroke-width="1.6"/>
<text x="941.4" y="532.4" font-family="Liberation Serif" font-size="12.8" fill="#262626">Stucuture on Dielectric</text>
<line x1="904.6" y1="543.3" x2="937.7" y2="543.3" stroke="#b83434" stroke-width="1.6"/>
<text x="941.4" y="547.7" font-family="Liberation Serif" font-size="12.8" fill="#262626">Structure on Dielectric with copper ground</text>
<rect x="1268.3" y="374.4" width="534.4000000000001" height="322.6" fill="#ffffff"/>
<rect x="1268.8" y="374.9" width="533.4000000000001" height="321.6" fill="none" stroke="#e6eef8" stroke-width="1.5"/>
<line x1="1421.7" y1="399.5" x2="1421.7" y2="648.7" stroke="#e3e3e3" stroke-width="1"/>
<line x1="1504.2" y1="399.5" x2="1504.2" y2="648.7" stroke="#e3e3e3" stroke-width="1"/>
<line x1="1586.6" y1="399.5" x2="1586.6" y2="648.7" stroke="#e3e3e3" stroke-width="1"/>
<line x1="1669.1" y1="399.5" x2="1669.1" y2="648.7" stroke="#e3e3e3" stroke-width="1"/>
<line x1="1339.2" y1="441.0" x2="1751.6" y2="441.0" stroke="#e3e3e3" stroke-width="1"/>
<line x1="1339.2" y1="482.6" x2="1751.6" y2="482.6" stroke="#e3e3e3" stroke-width="1"/>
<line x1="1339.2" y1="524.1" x2="1751.6" y2="524.1" stroke="#e3e3e3" stroke-width="1"/>
<line x1="1339.2" y1="565.6" x2="1751.6" y2="565.6" stroke="#e3e3e3" stroke-width="1"/>
<line x1="1339.2" y1="607.2" x2="1751.6" y2="607.2" stroke="#e3e3e3" stroke-width="1"/>
<clipPath id="ch1268_374"><rect x="1339.2" y="396.5" width="412.39999999999986" height="252.20000000000005"/></clipPath>
<g clip-path="url(#ch1268_374)" fill="none" stroke-width="1.6" stroke-linejoin="round">
<polyline points="1339.2,499.9 1341.1,498.3 1343.0,496.9 1344.9,494.0 1346.8,493.5 1348.6,491.0 1350.3,490.2 1352.0,491.2 1353.7,490.3 1355.4,490.0 1357.1,490.6 1358.8,489.9 1360.5,489.3 1362.2,490.5 1364.0,491.0 1365.8,492.7 1367.5,493.5 1369.3,494.5 1371.0,493.6 1372.7,492.5 1374.4,492.6 1376.1,491.9 1377.7,492.0 1379.4,491.1 1381.1,491.6 1382.8,490.3 1384.5,488.7 1386.2,487.5 1387.9,486.9 1389.6,486.4 1391.2,485.0 1392.9,484.1 1394.6,484.2 1396.3,483.6 1398.0,484.7 1399.7,483.9 1401.4,484.2 1403.0,485.6 1404.7,485.3 1406.4,484.9 1408.1,485.4 1409.8,484.6 1411.5,483.7 1413.2,484.6 1414.9,483.7 1416.5,484.2 1418.2,483.3 1419.9,482.7 1421.6,483.4 1423.3,483.5 1425.0,483.2 1426.7,482.3 1428.4,482.9 1430.0,484.0 1431.7,484.7 1433.4,485.4 1435.1,487.4 1436.8,488.6 1438.5,489.6 1440.2,491.6 1442.0,491.3 1443.8,492.2 1445.7,492.0 1447.5,491.8 1449.4,493.5 1451.2,493.2 1453.1,493.5 1454.9,494.5 1456.8,495.1 1458.6,494.7 1460.5,495.5 1462.3,497.5 1464.1,497.4 1466.0,497.8 1467.8,499.5 1469.7,499.7 1471.4,501.0 1473.1,500.9 1474.7,500.9 1476.4,501.4 1478.1,501.6 1479.8,503.0 1481.5,503.1 1483.3,503.4 1485.2,504.9 1487.0,506.2 1488.9,507.4 1490.7,507.7 1492.6,509.4 1494.4,511.3 1496.2,511.3 1497.9,512.4 1499.6,512.6 1501.3,513.4 1503.0,513.5 1504.7,514.1 1506.4,514.8 1508.1,514.5 1509.7,514.8 1511.4,513.4 1513.1,514.1 1514.8,512.6 1516.5,512.1 1518.2,512.1 1519.9,511.4 1521.7,513.7 1523.6,514.7 1525.4,516.8 1527.2,518.7 1529.1,519.3 1530.9,521.8 1532.8,523.5 1534.6,524.5 1536.3,524.1 1538.0,522.6 1539.7,522.3 1541.4,520.3 1543.1,520.1 1544.7,519.3 1546.4,516.9 1548.1,517.4 1549.8,515.7 1551.5,515.0 1553.2,514.9 1554.9,515.2 1556.6,514.4 1558.2,513.6 1559.9,513.8 1561.6,513.9 1563.3,513.8 1565.0,515.1 1566.7,515.8 1568.4,515.6 1570.0,516.7 1571.7,515.7 1573.4,513.9 1575.1,512.7 1576.8,512.5 1578.5,510.9 1580.2,509.5 1581.9,508.4 1583.7,508.4 1585.5,507.1 1587.4,507.6 1589.2,506.2 1591.1,505.6 1592.9,504.9 1594.8,504.9 1596.6,504.9 1598.5,505.0 1600.3,504.3 1602.2,504.8 1604.0,504.1 1605.8,504.9 1607.7,503.9 1609.5,504.7 1611.4,505.0 1613.1,503.8 1614.8,502.4 1616.4,501.3 1618.1,500.6 1619.8,499.9 1621.5,498.5 1623.2,496.9 1624.9,497.3 1626.6,496.5 1628.2,497.7 1629.9,496.1 1631.6,496.1 1633.3,496.4 1635.0,496.3 1636.7,496.7 1638.4,496.6 1640.1,498.2 1641.7,497.8 1643.4,498.4 1645.1,499.2 1646.8,499.0 1648.6,498.2 1650.3,498.3 1652.1,496.7 1653.9,496.3 1655.7,495.5 1657.4,496.1 1659.2,497.9 1661.0,498.0 1662.7,499.2 1664.5,499.3 1666.2,500.5 1667.9,499.8 1669.6,500.2 1671.3,500.6 1672.9,500.4 1674.6,501.8 1676.3,501.2 1678.0,501.7 1679.7,502.2 1681.4,503.1 1683.1,504.2 1684.8,504.6 1686.4,504.5 1688.1,505.7 1689.9,506.5 1691.7,506.7 1693.4,507.2 1695.2,507.7 1697.0,509.1 1698.8,508.7 1700.5,510.0 1702.3,510.0 1704.1,511.8 1705.8,511.0 1707.6,512.2 1709.4,512.2 1711.2,512.8 1712.9,513.6 1714.7,515.2 1716.5,515.5 1718.2,516.2 1720.0,516.0 1721.8,517.5 1723.6,518.0 1725.3,518.8 1727.1,519.3 1728.9,518.7 1730.6,519.3 1732.4,520.7 1734.2,520.8 1736.0,521.8 1737.7,522.3 1739.5,523.1 1741.3,523.3 1743.0,523.9 1744.7,523.9 1746.4,523.5 1748.2,523.9 1749.9,523.6 1751.6,523.5" stroke="#46d446"/>
<polyline points="1339.2,452.5 1341.0,454.2 1342.7,455.5 1344.5,454.7 1346.3,452.5 1348.1,451.2 1349.8,450.2 1351.6,449.6 1353.4,449.1 1355.3,449.4 1357.1,449.5 1359.0,448.4 1360.8,448.4 1362.7,449.8 1364.5,448.6 1366.4,449.0 1368.2,449.2 1370.0,449.2 1371.9,448.5 1373.7,448.7 1375.6,448.3 1377.4,448.2 1379.3,448.9 1381.1,447.8 1382.8,447.2 1384.5,446.9 1386.2,447.2 1387.9,447.7 1389.6,447.5 1391.2,447.0 1392.9,445.5 1394.6,446.6 1396.3,446.7 1398.0,446.1 1399.7,447.1 1401.4,446.9 1403.0,447.3 1404.7,448.0 1406.5,448.0 1408.3,448.4 1410.0,450.1 1411.8,450.8 1413.6,451.3 1415.3,451.5 1417.0,450.6 1418.7,449.8 1420.3,449.8 1422.0,449.6 1423.7,448.9 1425.4,449.6 1427.2,449.6 1428.9,450.5 1430.7,450.7 1432.5,452.0 1434.3,451.7 1435.9,453.5 1437.6,454.2 1439.3,454.1 1441.0,454.8 1442.7,456.4 1444.4,457.2 1446.1,458.3 1447.8,459.1 1449.4,459.5 1451.1,461.0 1452.8,461.9 1454.5,462.2 1456.2,463.5 1457.9,463.7 1459.6,463.9 1461.2,464.5 1462.9,465.4 1464.6,466.1 1466.3,466.5 1468.0,467.6 1469.7,467.1 1471.4,468.1 1473.1,468.5 1474.7,469.3 1476.4,469.2 1478.1,469.4 1479.8,470.1 1481.5,469.8 1483.2,470.6 1484.9,471.8 1486.5,471.8 1488.2,471.8 1489.9,472.9 1491.6,473.3 1493.3,474.5 1495.0,474.3 1496.7,474.8 1498.4,475.3 1500.0,475.7 1501.7,475.9 1503.4,476.4 1505.1,476.9 1506.8,476.8 1508.5,475.9 1510.2,474.7 1511.9,475.0 1513.5,475.0 1515.2,474.5 1516.9,473.3 1518.6,474.8 1520.3,475.6 1522.0,476.4 1523.7,476.8 1525.3,476.8 1527.0,478.4 1528.7,479.3 1530.9,480.8 1533.1,482.2 1534.9,481.0 1536.6,479.4 1538.3,477.9 1540.0,477.0 1541.8,476.1 1543.5,474.6 1545.2,473.8 1546.9,474.5 1548.5,473.9 1550.2,472.9 1551.9,472.4 1553.6,472.1 1555.3,471.7 1557.1,471.8 1558.8,472.8 1560.6,472.7 1562.4,472.9 1564.1,474.1 1565.9,474.0 1567.7,474.6 1569.5,474.8 1571.2,476.5 1573.0,475.7 1574.7,474.6 1576.4,473.1 1578.1,471.8 1579.7,471.5 1581.4,469.7 1583.1,469.2 1584.8,467.3 1586.6,466.1 1588.4,466.4 1590.1,465.5 1591.9,465.2 1593.7,464.3 1595.4,464.6 1597.0,465.0 1598.7,464.0 1600.4,464.5 1602.1,465.4 1603.8,465.3 1605.5,465.6 1607.2,465.1 1608.8,464.4 1610.5,463.2 1612.2,462.5 1613.9,462.1 1615.6,461.1 1617.3,459.8 1619.0,459.5 1620.7,459.9 1622.3,459.0 1624.0,458.3 1625.7,458.0 1627.4,458.0 1629.1,458.6 1630.9,459.3 1632.6,460.9 1634.4,462.2 1636.2,463.0 1637.9,463.9 1639.7,462.7 1641.5,462.1 1643.3,461.9 1645.0,460.5 1646.8,460.0 1648.5,459.6 1650.2,459.6 1651.9,459.0 1653.6,458.7 1655.2,457.8 1656.9,457.8 1658.6,457.4 1660.3,457.6 1662.0,457.7 1663.7,457.6 1665.4,457.7 1667.0,457.8 1668.7,458.5 1670.4,458.1 1672.3,458.2 1674.1,458.6 1676.0,459.3 1677.8,460.7 1679.6,459.9 1681.5,460.3 1683.3,461.8 1685.2,461.8 1686.9,462.3 1688.6,462.2 1690.2,462.9 1691.9,463.8 1693.6,464.5 1695.3,465.0 1697.0,465.6 1698.8,465.2 1700.7,465.6 1702.5,467.2 1704.4,467.1 1706.2,467.3 1708.1,469.0 1709.9,469.1 1711.7,469.9 1713.5,469.5 1715.3,470.1 1717.1,471.7 1718.8,471.9 1720.6,471.3 1722.4,472.1 1724.1,472.6 1725.9,472.6 1727.7,473.1 1729.5,473.2 1731.1,474.5 1732.8,475.2 1734.5,474.6 1736.2,475.9 1737.9,475.5 1739.6,475.4 1741.3,476.4 1743.0,476.1 1744.7,476.7 1746.4,476.8 1748.2,476.1 1749.9,475.7 1751.6,476.3" stroke="#2424a0"/>
<polyline points="1339.2,452.7 1341.1,451.4 1343.0,450.3 1344.9,450.0 1346.8,449.1 1348.6,447.5 1350.3,446.7 1352.0,445.0 1353.7,444.3 1355.4,443.5 1357.1,442.6 1358.8,441.5 1360.5,441.4 1362.3,441.5 1364.1,442.4 1366.0,441.9 1367.8,443.7 1369.7,443.1 1371.5,444.8 1373.4,444.4 1375.2,445.5 1376.9,445.0 1378.6,443.9 1380.3,444.7 1382.0,444.2 1383.6,442.6 1385.3,442.7 1387.0,442.9 1388.8,440.6 1390.6,439.7 1392.3,439.9 1394.1,438.4 1395.9,437.8 1397.8,437.0 1399.8,435.9 1401.8,436.0 1403.6,436.3 1405.3,438.3 1407.1,439.2 1408.9,439.3 1410.6,441.0 1412.4,441.8 1414.2,442.5 1416.0,443.5 1417.7,444.5 1419.5,445.9 1421.3,444.1 1423.0,442.8 1424.8,441.9 1426.6,441.5 1428.4,441.0 1430.1,442.2 1431.9,442.9 1433.7,444.1 1435.4,446.1 1437.2,447.1 1439.0,449.0 1440.8,450.9 1442.5,452.5 1444.3,455.0 1446.1,457.8 1447.8,457.0 1449.4,458.0 1451.1,458.3 1452.8,459.2 1454.5,459.3 1456.2,459.8 1457.9,459.6 1459.6,461.2 1461.2,461.2 1462.9,462.4 1464.6,462.3 1466.3,463.9 1468.0,464.1 1469.7,464.7 1471.4,465.1 1473.1,466.8 1474.7,467.0 1476.4,468.3 1478.1,469.0 1479.8,469.6 1481.5,469.7 1483.3,472.6 1485.2,474.1 1487.0,477.5 1488.9,478.6 1490.7,481.6 1492.6,484.1 1494.4,485.5 1496.2,487.5 1497.9,490.1 1499.6,490.9 1501.3,491.5 1503.0,493.4 1504.7,494.8 1506.4,496.4 1508.1,497.6 1509.8,496.8 1511.6,496.2 1513.4,496.2 1515.1,496.9 1516.9,497.6 1518.7,499.6 1520.5,501.2 1522.2,503.5 1524.0,506.2 1525.8,509.1 1527.5,512.2 1529.3,515.9 1531.1,519.2 1532.9,523.3 1534.6,525.8 1536.4,526.8 1538.2,528.7 1539.9,529.4 1541.7,529.5 1543.5,531.2 1545.2,530.7 1546.9,531.7 1548.5,531.9 1550.2,532.3 1551.9,533.4 1553.6,533.7 1555.3,534.2 1557.0,535.5 1558.7,537.4 1560.3,540.1 1562.0,540.9 1563.7,543.4 1565.4,545.6 1567.1,547.2 1568.9,547.0 1570.6,548.2 1572.4,548.7 1574.2,548.9 1576.0,549.4 1577.6,547.6 1579.3,546.0 1581.0,543.6 1582.7,541.1 1584.4,539.1 1586.1,537.3 1587.8,535.5 1589.4,535.3 1591.1,534.6 1592.8,534.6 1594.5,535.2 1596.2,534.0 1597.9,533.5 1599.6,533.4 1601.3,533.5 1602.9,533.7 1604.6,534.4 1606.3,534.3 1608.0,535.1 1609.7,535.7 1611.4,535.5 1613.1,532.0 1614.9,527.6 1616.7,524.4 1618.5,521.1 1620.2,517.4 1621.9,516.5 1623.6,514.2 1625.3,512.3 1627.0,511.0 1628.7,509.5 1630.4,507.6 1632.0,506.1 1633.8,504.9 1635.6,505.1 1637.4,504.6 1639.1,503.7 1640.9,502.6 1642.9,501.5 1644.8,500.6 1646.8,499.3 1648.6,497.7 1650.3,495.8 1652.1,492.8 1653.9,490.5 1655.7,488.5 1657.4,487.2 1659.2,487.1 1661.0,486.7 1662.7,486.0 1664.5,484.5 1666.2,485.8 1667.9,485.3 1669.6,485.4 1671.3,485.6 1672.9,485.2 1674.6,485.5 1676.3,484.5 1678.0,484.9 1679.7,484.4 1681.4,485.0 1683.1,484.3 1684.8,483.9 1686.4,483.4 1688.1,484.0 1689.8,483.5 1691.5,482.7 1693.2,482.5 1694.9,483.2 1696.6,482.5 1698.3,482.0 1699.9,482.3 1701.6,481.5 1703.3,481.1 1705.0,480.2 1706.7,480.4 1708.4,479.8 1710.1,479.9 1711.7,478.9 1713.6,479.3 1715.4,478.9 1717.3,478.9 1719.1,478.8 1721.0,478.8 1722.8,478.5 1724.7,477.9 1726.5,478.1 1728.2,479.0 1729.9,478.6 1731.6,480.0 1733.3,479.6 1734.9,480.8 1736.6,481.7 1738.3,481.6 1740.0,481.4 1741.6,482.1 1743.3,482.2 1745.0,481.2 1746.6,480.8 1748.3,480.9 1749.9,480.5 1751.6,480.7" stroke="#d844dc"/>
<polyline points="1339.2,522.4 1341.1,518.5 1343.0,515.3 1344.9,511.8 1346.8,509.5 1348.6,506.2 1350.3,505.3 1352.0,504.1 1353.7,502.3 1355.4,502.1 1357.1,500.5 1358.8,499.9 1360.5,498.7 1362.2,499.1 1364.0,499.1 1365.8,500.0 1367.5,501.5 1369.3,501.7 1371.0,500.8 1372.7,498.7 1374.4,497.8 1376.1,496.7 1377.7,495.6 1379.4,494.7 1381.1,493.3 1382.8,491.7 1384.5,490.5 1386.2,487.8 1387.9,486.4 1389.6,484.1 1391.2,482.5 1392.9,480.8 1394.6,480.9 1396.3,480.8 1398.0,481.0 1399.7,481.3 1401.4,480.2 1403.0,480.3 1404.7,480.0 1406.4,479.6 1408.1,478.9 1409.8,477.8 1411.5,477.9 1413.2,476.2 1414.9,475.7 1416.5,475.3 1418.3,474.6 1420.1,473.6 1421.9,473.4 1423.6,472.5 1425.4,471.7 1427.2,472.6 1429.1,473.6 1430.9,473.7 1432.8,474.7 1434.6,475.4 1436.5,476.0 1438.3,476.4 1440.2,477.5 1441.9,477.3 1443.7,477.6 1445.5,479.1 1447.2,479.3 1449.0,479.6 1450.8,481.6 1452.6,482.1 1454.3,481.8 1456.1,482.5 1457.9,483.4 1459.6,484.6 1461.2,484.6 1462.9,484.4 1464.6,484.8 1466.3,485.3 1468.0,486.6 1469.7,486.1 1471.5,487.5 1473.2,487.8 1475.0,489.3 1476.8,488.9 1478.5,490.1 1480.3,490.7 1482.1,492.2 1483.8,492.3 1485.6,493.1 1487.4,493.9 1489.2,494.9 1491.1,495.1 1492.9,496.4 1494.8,497.2 1496.6,498.2 1498.5,498.1 1500.3,499.7 1502.2,500.3 1503.8,500.1 1505.5,498.8 1507.2,498.5 1508.9,498.1 1510.6,498.5 1512.3,497.4 1514.0,497.2 1515.6,498.4 1517.3,499.3 1519.0,498.7 1520.7,500.9 1522.4,501.4 1524.1,502.3 1525.8,502.7 1527.5,504.9 1529.3,505.8 1531.1,507.5 1532.9,508.3 1534.6,510.9 1536.4,509.6 1538.2,508.5 1539.9,506.9 1541.7,506.7 1543.5,505.8 1545.3,503.5 1547.0,502.0 1548.8,500.3 1550.6,497.5 1552.3,494.9 1554.2,495.7 1556.0,496.9 1557.9,496.9 1559.7,497.2 1561.6,498.6 1563.4,498.7 1565.3,499.5 1567.1,500.3 1568.9,499.5 1570.8,498.8 1572.6,497.9 1574.5,497.6 1576.3,496.3 1578.2,496.1 1580.0,494.3 1581.9,493.8 1583.5,493.9 1585.2,491.9 1586.9,491.9 1588.6,490.6 1590.3,489.7 1592.0,489.2 1593.7,488.4 1595.4,487.7 1597.2,487.7 1599.0,486.2 1600.8,486.9 1602.5,485.4 1604.3,485.8 1606.1,485.3 1607.8,484.7 1609.6,484.8 1611.4,484.2 1613.1,483.2 1614.8,482.5 1616.4,481.2 1618.1,480.4 1619.8,481.1 1621.5,479.8 1623.2,479.8 1624.9,478.7 1626.6,479.3 1628.2,478.4 1629.9,478.8 1631.6,479.3 1633.3,479.4 1635.0,479.0 1636.7,477.4 1638.4,477.8 1640.1,476.6 1641.7,476.1 1643.4,475.5 1645.1,474.1 1646.8,474.3 1648.5,473.3 1650.2,473.1 1651.9,472.4 1653.6,472.7 1655.2,471.8 1656.9,472.2 1658.6,471.7 1660.3,472.3 1662.0,472.6 1663.7,473.2 1665.4,474.9 1667.0,475.5 1668.7,475.6 1670.4,475.8 1672.1,476.6 1673.8,477.4 1675.5,476.9 1677.2,478.2 1678.9,479.0 1680.5,479.4 1682.2,479.9 1683.9,479.5 1685.6,481.1 1687.3,480.8 1689.0,481.2 1690.7,481.7 1692.3,482.6 1694.0,483.8 1695.8,483.9 1697.6,484.1 1699.3,484.7 1701.1,485.7 1702.9,485.5 1704.7,486.9 1706.4,487.0 1708.2,486.5 1710.0,487.7 1711.7,488.4 1713.6,488.8 1715.4,490.4 1717.3,492.1 1719.1,493.2 1721.0,494.0 1722.8,495.0 1724.7,495.2 1726.5,497.3 1728.2,497.1 1729.9,497.7 1731.6,499.0 1733.3,498.7 1734.9,499.7 1736.6,500.8 1738.3,501.7 1740.0,501.2 1741.6,500.4 1743.3,500.8 1745.0,501.1 1746.6,500.6 1748.3,500.3 1749.9,500.5 1751.6,499.9" stroke="#b83434"/>
</g>
<rect x="1339.2" y="399.5" width="412.39999999999986" height="249.20000000000005" fill="none" stroke="#5a5a5a" stroke-width="1.3"/>
<line x1="1421.7" y1="648.7" x2="1421.7" y2="644.7" stroke="#5a5a5a" stroke-width="1"/><line x1="1421.7" y1="399.5" x2="1421.7" y2="403.5" stroke="#5a5a5a" stroke-width="1"/>
<line x1="1504.2" y1="648.7" x2="1504.2" y2="644.7" stroke="#5a5a5a" stroke-width="1"/><line x1="1504.2" y1="399.5" x2="1504.2" y2="403.5" stroke="#5a5a5a" stroke-width="1"/>
<line x1="1586.6" y1="648.7" x2="1586.6" y2="644.7" stroke="#5a5a5a" stroke-width="1"/><line x1="1586.6" y1="399.5" x2="1586.6" y2="403.5" stroke="#5a5a5a" stroke-width="1"/>
<line x1="1669.1" y1="648.7" x2="1669.1" y2="644.7" stroke="#5a5a5a" stroke-width="1"/><line x1="1669.1" y1="399.5" x2="1669.1" y2="403.5" stroke="#5a5a5a" stroke-width="1"/>
<line x1="1339.2" y1="399.5" x2="1343.2" y2="399.5" stroke="#5a5a5a" stroke-width="1"/><line x1="1751.6" y1="399.5" x2="1747.6" y2="399.5" stroke="#5a5a5a" stroke-width="1"/>
<line x1="1339.2" y1="441.0" x2="1343.2" y2="441.0" stroke="#5a5a5a" stroke-width="1"/><line x1="1751.6" y1="441.0" x2="1747.6" y2="441.0" stroke="#5a5a5a" stroke-width="1"/>
<line x1="1339.2" y1="482.6" x2="1343.2" y2="482.6" stroke="#5a5a5a" stroke-width="1"/><line x1="1751.6" y1="482.6" x2="1747.6" y2="482.6" stroke="#5a5a5a" stroke-width="1"/>
<line x1="1339.2" y1="524.1" x2="1343.2" y2="524.1" stroke="#5a5a5a" stroke-width="1"/><line x1="1751.6" y1="524.1" x2="1747.6" y2="524.1" stroke="#5a5a5a" stroke-width="1"/>
<line x1="1339.2" y1="565.6" x2="1343.2" y2="565.6" stroke="#5a5a5a" stroke-width="1"/><line x1="1751.6" y1="565.6" x2="1747.6" y2="565.6" stroke="#5a5a5a" stroke-width="1"/>
<line x1="1339.2" y1="607.2" x2="1343.2" y2="607.2" stroke="#5a5a5a" stroke-width="1"/><line x1="1751.6" y1="607.2" x2="1747.6" y2="607.2" stroke="#5a5a5a" stroke-width="1"/>
<line x1="1339.2" y1="648.7" x2="1343.2" y2="648.7" stroke="#5a5a5a" stroke-width="1"/><line x1="1751.6" y1="648.7" x2="1747.6" y2="648.7" stroke="#5a5a5a" stroke-width="1"/>
<g font-family="Liberation Serif" font-size="16.3" fill="#262626">
<text x="1339.2" y="670.1" text-anchor="middle">7</text>
<text x="1421.7" y="670.1" text-anchor="middle">7.2</text>
<text x="1504.2" y="670.1" text-anchor="middle">7.4</text>
<text x="1586.6" y="670.1" text-anchor="middle">7.6</text>
<text x="1669.1" y="670.1" text-anchor="middle">7.8</text>
<text x="1751.6" y="670.1" text-anchor="middle">8</text>
<text x="1332.7" y="405.1" text-anchor="end">0</text>
<text x="1332.7" y="446.6" text-anchor="end">-0.2</text>
<text x="1332.7" y="488.2" text-anchor="end">-0.4</text>
<text x="1332.7" y="529.7" text-anchor="end">-0.6</text>
<text x="1332.7" y="571.2" text-anchor="end">-0.8</text>
<text x="1332.7" y="612.8" text-anchor="end">-1</text>
<text x="1332.7" y="654.3" text-anchor="end">-1.2</text>
</g>
<text x="1545.4" y="691.4" text-anchor="middle" font-family="Liberation Serif" font-size="18" fill="#262626">Frequency (GHz)</text>
<text x="1300.2" y="524.1" transform="rotate(-90 1300.2 524.1)" text-anchor="middle" font-family="Liberation Serif" font-size="18" fill="#262626">Reflection (S11, dB)</text>
<rect x="1473.2" y="573.7" width="265.7" height="65.0" fill="#ffffff" stroke="#3a3a3a" stroke-width="0.9"/>
<line x1="1477.9" y1="583.2" x2="1511.0" y2="583.2" stroke="#2424a0" stroke-width="1.6"/>
<text x="1514.7" y="587.6" font-family="Liberation Serif" font-size="12.8" fill="#262626">Copper tape</text>
<line x1="1477.9" y1="598.7" x2="1511.0" y2="598.7" stroke="#d844dc" stroke-width="1.6"/>
<text x="1514.7" y="603.1" font-family="Liberation Serif" font-size="12.8" fill="#262626">Dielectric with copper ground</text>
<line x1="1477.9" y1="614.2" x2="1511.0" y2="614.2" stroke="#46d446" stroke-width="1.6"/>
<text x="1514.7" y="618.6" font-family="Liberation Serif" font-size="12.8" fill="#262626">Stucuture on Dielectric</text>
<line x1="1477.9" y1="629.7" x2="1511.0" y2="629.7" stroke="#b83434" stroke-width="1.6"/>
<text x="1514.7" y="634.1" font-family="Liberation Serif" font-size="12.8" fill="#262626">Structure on Dielectric with copper ground</text>
<rect x="95.3" y="703.5" width="532.7" height="320.5" fill="#ffffff"/>
<rect x="95.8" y="704.0" width="531.7" height="319.5" fill="none" stroke="#e6eef8" stroke-width="1.5"/>
<line x1="247.6" y1="728" x2="247.6" y2="977.5" stroke="#e3e3e3" stroke-width="1"/>
<line x1="330.0" y1="728" x2="330.0" y2="977.5" stroke="#e3e3e3" stroke-width="1"/>
<line x1="412.3" y1="728" x2="412.3" y2="977.5" stroke="#e3e3e3" stroke-width="1"/>
<line x1="494.7" y1="728" x2="494.7" y2="977.5" stroke="#e3e3e3" stroke-width="1"/>
<line x1="165.3" y1="769.6" x2="577" y2="769.6" stroke="#e3e3e3" stroke-width="1"/>
<line x1="165.3" y1="811.2" x2="577" y2="811.2" stroke="#e3e3e3" stroke-width="1"/>
<line x1="165.3" y1="852.8" x2="577" y2="852.8" stroke="#e3e3e3" stroke-width="1"/>
<line x1="165.3" y1="894.3" x2="577" y2="894.3" stroke="#e3e3e3" stroke-width="1"/>
<line x1="165.3" y1="935.9" x2="577" y2="935.9" stroke="#e3e3e3" stroke-width="1"/>
<clipPath id="ch95_703"><rect x="165.3" y="725" width="411.7" height="252.5"/></clipPath>
<g clip-path="url(#ch95_703)" fill="none" stroke-width="1.6" stroke-linejoin="round">
<polyline points="165.3,735.5 577.0,730.9" stroke="#46d446"/>
<polyline points="164.5,878.7 165.1,877.9 165.7,877.0 166.4,876.2 167.0,875.4 167.6,874.8 168.2,874.2 168.8,873.7 169.5,873.4 170.1,873.2 170.7,873.1 172.1,873.3 173.4,873.7 174.8,874.4 176.1,875.4 177.5,876.6 178.8,878.0 180.2,879.6 181.5,881.3 182.9,883.1 184.2,884.9 185.7,882.3 187.2,879.7 188.6,877.3 190.1,875.0 191.6,873.0 193.0,871.3 194.5,869.9 196.0,868.9 197.4,868.2 198.9,868.0 200.1,868.2 201.4,868.8 202.6,869.6 203.9,870.8 205.1,872.3 206.3,874.1 207.6,876.0 208.8,878.2 210.1,880.4 211.3,882.7 212.8,880.4 214.3,878.2 215.9,876.0 217.4,874.1 218.9,872.3 220.4,870.8 221.9,869.6 223.5,868.8 225.0,868.2 226.5,868.0 227.7,868.2 229.0,868.8 230.2,869.8 231.5,871.2 232.7,872.8 233.9,874.8 235.2,877.0 236.4,879.3 237.7,881.8 238.9,884.4 240.3,881.9 241.6,879.5 243.0,877.2 244.3,875.1 245.7,873.2 247.0,871.6 248.4,870.3 249.7,869.4 251.1,868.8 252.4,868.6 254.0,868.8 255.6,869.4 257.2,870.4 258.7,871.7 260.3,873.4 261.9,875.3 263.5,877.5 265.1,879.9 266.6,882.4 268.2,884.9 269.5,883.4 270.7,882.0 271.9,880.6 273.2,879.3 274.4,878.2 275.7,877.2 276.9,876.4 278.1,875.8 279.4,875.5 280.6,875.4 282.0,875.5 283.3,875.7 284.7,876.2 286.0,876.8 287.4,877.5 288.7,878.4 290.1,879.4 291.4,880.4 292.8,881.5 294.1,882.7 294.9,882.7 295.7,882.9 296.5,883.1 297.3,883.3 298.1,883.7 298.9,884.1 299.7,884.5 300.5,885.0 301.2,885.5 302.0,886.1 302.8,885.6 303.6,885.2 304.4,884.8 305.2,884.4 306.0,884.1 306.8,883.8 307.6,883.6 308.3,883.4 309.1,883.3 309.9,883.3 310.7,883.3 311.5,883.4 312.3,883.6 313.1,883.8 313.9,884.1 314.7,884.4 315.5,884.8 316.2,885.2 317.0,885.6 317.8,886.1 319.2,886.2 320.5,886.7 321.9,887.4 323.2,888.4 324.6,889.7 325.9,891.2 327.3,892.8 328.6,894.6 330.0,896.5 331.3,898.5 332.7,896.3 334.1,894.1 335.4,892.1 336.8,890.2 338.1,888.5 339.5,887.1 340.8,885.9 342.2,885.1 343.5,884.6 344.9,884.4 346.1,884.6 347.4,885.2 348.6,886.1 349.8,887.4 351.1,889.0 352.3,890.9 353.6,893.0 354.8,895.3 356.0,897.7 357.3,900.2 358.5,896.9 359.8,893.7 361.1,890.7 362.4,887.9 363.6,885.4 364.9,883.3 366.2,881.6 367.5,880.3 368.7,879.6 370.0,879.3 370.5,879.3 371.1,879.3 371.6,879.3 372.2,879.3 372.7,879.3 373.2,879.4 373.8,879.4 374.3,879.4 374.8,879.4 375.4,879.4 376.4,879.6 377.5,880.0 378.5,880.7 379.5,881.6 380.6,882.8 381.6,884.2 382.7,885.7 383.7,887.4 384.7,889.2 385.8,891.0 387.5,889.0 389.2,887.0 391.0,885.2 392.7,883.5 394.4,882.0 396.2,880.7 397.9,879.7 399.6,878.9 401.4,878.4 403.1,878.3 404.6,878.4 406.1,878.9 407.6,879.7 409.1,880.8 410.6,882.2 412.1,883.7 413.6,885.5 415.1,887.4 416.6,889.5 418.1,891.5 419.2,890.2 420.4,888.9 421.5,887.6 422.7,886.5 423.9,885.4 425.0,884.5 426.2,883.8 427.3,883.3 428.5,883.0 429.6,882.9 431.2,883.0 432.9,883.3 434.5,883.7 436.1,884.3 437.7,885.1 439.3,886.0 440.9,887.0 442.6,888.1 444.2,889.2 445.8,890.4 446.9,890.4 448.1,890.4 449.2,890.4 450.4,890.4 451.6,890.4 452.7,890.4 453.9,890.4 455.0,890.4 456.2,890.4 457.3,890.4 458.5,890.4 459.6,890.5 460.8,890.6 461.9,890.8 463.1,891.1 464.2,891.3 465.4,891.7 466.6,892.0 467.7,892.3 468.9,892.7 470.4,892.8 471.9,893.1 473.4,893.6 474.9,894.4 476.4,895.2 477.9,896.3 479.4,897.4 480.9,898.7 482.4,900.0 483.9,901.4 484.9,899.1 485.9,896.9 487.0,894.8 488.0,892.9 489.1,891.2 490.1,889.7 491.1,888.5 492.2,887.6 493.2,887.1 494.3,886.9 495.6,887.0 497.0,887.3 498.4,887.7 499.8,888.3 501.2,889.0 502.6,889.8 503.9,890.7 505.3,891.7 506.7,892.8 508.1,893.9 509.4,891.2 510.6,888.7 511.9,886.3 513.2,884.0 514.5,882.0 515.7,880.3 517.0,878.9 518.3,877.9 519.5,877.3 520.8,877.1 521.7,877.2 522.6,877.5 523.6,877.9 524.5,878.6 525.4,879.3 526.3,880.2 527.3,881.2 528.2,882.3 529.1,883.4 530.0,884.6 531.5,882.5 533.0,880.3 534.5,878.3 536.0,876.5 537.5,874.8 539.0,873.4 540.5,872.3 542.0,871.5 543.5,870.9 545.0,870.8 546.4,870.9 547.8,871.3 549.2,871.9 550.6,872.8 552.0,873.8 553.3,875.1 554.7,876.4 556.1,878.0 557.5,879.5 558.9,881.2 560.7,879.1 562.5,877.1 564.2,875.1 566.0,873.4 567.8,871.8 569.6,870.4 571.4,869.3 573.2,868.5 575.0,868.1 576.8,867.9" stroke="#b83434"/>
<polyline points="164.5,879.3 165.1,878.3 165.7,877.4 166.4,876.5 167.0,875.7 167.6,874.9 168.2,874.3 168.8,873.8 169.5,873.4 170.1,873.2 170.7,873.1 172.1,873.3 173.4,873.7 174.8,874.5 176.1,875.5 177.5,876.7 178.8,878.2 180.2,879.9 181.5,881.7 182.9,883.6 184.2,885.5 185.7,882.8 187.2,880.1 188.6,877.6 190.1,875.2 191.6,873.2 193.0,871.4 194.5,869.9 196.0,868.9 197.4,868.3 198.9,868.0 200.1,868.2 201.4,868.8 202.6,869.7 203.9,870.9 205.1,872.5 206.3,874.3 207.6,876.3 208.8,878.6 210.1,880.9 211.3,883.3 212.8,881.0 214.3,878.7 215.9,876.6 217.4,874.6 218.9,872.9 220.4,871.4 221.9,870.2 223.5,869.3 225.0,868.8 226.5,868.6 227.7,868.8 229.0,869.4 230.2,870.4 231.5,871.7 232.7,873.4 233.9,875.3 235.2,877.5 236.4,879.9 237.7,882.4 238.9,884.9 240.3,882.4 241.6,879.9 243.0,877.5 244.3,875.3 245.7,873.4 247.0,871.7 248.4,870.4 249.7,869.4 251.1,868.8 252.4,868.6 254.0,868.8 255.6,869.5 257.2,870.5 258.7,871.9 260.3,873.7 261.9,875.8 263.5,878.1 265.1,880.7 266.6,883.3 268.2,886.1 269.6,884.1 270.9,882.2 272.3,880.4 273.6,878.8 275.0,877.3 276.3,876.0 277.7,875.0 279.0,874.3 280.4,873.8 281.7,873.7 283.1,873.9 284.5,874.4 285.8,875.4 287.2,876.7 288.5,878.3 289.9,880.2 291.2,882.3 292.6,884.6 293.9,887.0 295.3,889.5 296.7,887.7 298.2,886.0 299.7,884.3 301.1,882.8 302.6,881.5 304.1,880.3 305.5,879.4 307.0,878.7 308.5,878.3 309.9,878.2 311.2,878.4 312.4,878.9 313.6,879.7 314.9,880.9 316.1,882.3 317.4,884.0 318.6,885.9 319.8,887.9 321.1,890.1 322.3,892.3 323.2,891.7 324.1,891.2 325.0,890.7 325.9,890.3 326.8,889.9 327.7,889.5 328.6,889.3 329.5,889.1 330.4,888.9 331.3,888.9 332.1,889.0 332.9,889.2 333.7,889.7 334.5,890.3 335.3,891.0 336.1,891.9 336.9,892.9 337.7,894.0 338.4,895.1 339.2,896.2 340.5,894.7 341.7,893.3 343.0,891.9 344.2,890.6 345.4,889.4 346.7,888.5 347.9,887.7 349.2,887.1 350.4,886.8 351.6,886.6 352.8,886.7 353.9,887.0 355.0,887.4 356.1,888.0 357.3,888.8 358.4,889.7 359.5,890.6 360.7,891.7 361.8,892.8 362.9,894.0 363.6,892.2 364.3,890.5 365.0,888.8 365.7,887.3 366.5,886.0 367.2,884.8 367.9,883.9 368.6,883.2 369.3,882.8 370.0,882.7 370.5,882.2 371.1,881.7 371.6,881.2 372.2,880.8 372.7,880.4 373.2,880.1 373.8,879.8 374.3,879.6 374.8,879.5 375.4,879.4 376.9,879.6 378.4,880.1 379.9,880.8 381.4,881.9 382.9,883.1 384.4,884.7 385.9,886.4 387.4,888.2 388.9,890.1 390.4,892.1 391.7,890.0 392.9,887.8 394.2,885.8 395.5,884.0 396.7,882.3 398.0,880.9 399.3,879.8 400.5,879.0 401.8,878.4 403.1,878.3 404.7,878.4 406.3,878.9 407.9,879.7 409.5,880.8 411.2,882.2 412.8,883.7 414.4,885.5 416.0,887.4 417.6,889.5 419.2,891.5 420.2,889.9 421.1,888.3 422.0,886.8 422.9,885.4 423.9,884.2 424.8,883.1 425.7,882.3 426.6,881.7 427.6,881.3 428.5,881.2 429.3,881.2 430.1,881.3 430.9,881.5 431.7,881.8 432.5,882.2 433.3,882.6 434.1,883.1 434.9,883.6 435.7,884.1 436.6,884.6 437.5,884.7 438.4,884.9 439.3,885.3 440.2,885.7 441.2,886.3 442.1,887.0 443.0,887.8 443.9,888.6 444.9,889.5 445.8,890.4 446.5,890.0 447.2,889.7 447.9,889.3 448.6,889.0 449.2,888.8 449.9,888.5 450.6,888.3 451.3,888.2 452.0,888.1 452.7,888.1 453.2,888.1 453.6,888.2 454.1,888.4 454.6,888.6 455.0,888.9 455.5,889.3 455.9,889.7 456.4,890.1 456.9,890.5 457.3,891.0 458.1,891.0 458.9,891.1 459.7,891.2 460.6,891.4 461.4,891.6 462.2,891.9 463.0,892.2 463.8,892.6 464.6,892.9 465.4,893.3 466.1,893.2 466.8,893.1 467.5,893.0 468.2,892.9 468.9,892.9 469.6,892.8 470.3,892.8 470.9,892.7 471.6,892.7 472.3,892.7 473.4,893.1 474.4,894.2 475.4,896.0 476.5,898.4 477.5,901.5 478.6,905.1 479.6,909.1 480.6,913.4 481.7,918.0 482.7,922.7 484.0,917.1 485.3,911.7 486.5,906.5 487.8,901.7 489.1,897.4 490.3,893.8 491.6,890.8 492.9,888.7 494.1,887.4 495.4,886.9 496.6,887.2 497.7,887.8 498.9,888.9 500.0,890.3 501.2,892.2 502.3,894.3 503.5,896.7 504.6,899.3 505.8,902.0 507.0,904.8 508.3,900.5 509.7,896.3 511.1,892.2 512.5,888.5 513.9,885.2 515.3,882.4 516.6,880.1 518.0,878.5 519.4,877.5 520.8,877.1 521.8,877.3 522.9,877.7 523.9,878.3 525.0,879.2 526.0,880.3 527.0,881.6 528.1,883.1 529.1,884.7 530.1,886.4 531.2,888.1 532.6,885.3 534.0,882.6 535.3,880.0 536.7,877.6 538.1,875.4 539.5,873.6 540.9,872.1 542.3,871.1 543.6,870.4 545.0,870.2 546.8,870.4 548.5,870.9 550.2,871.8 552.0,873.1 553.7,874.6 555.4,876.4 557.2,878.4 558.9,880.6 560.6,882.9 562.3,885.2 563.8,882.3 565.2,879.5 566.7,876.8 568.1,874.3 569.6,872.1 571.0,870.3 572.4,868.7 573.9,867.6 575.3,867.0 576.8,866.7" stroke="#2424a0"/>
<polyline points="164.5,877.1 165.1,876.4 165.7,875.8 166.4,875.3 167.0,874.7 167.6,874.3 168.2,873.9 168.8,873.5 169.5,873.3 170.1,873.2 170.7,873.1 172.0,873.3 173.3,873.9 174.6,874.8 175.9,876.0 177.2,877.6 178.5,879.4 179.8,881.4 181.1,883.6 182.4,885.9 183.7,888.3 185.2,885.1 186.7,881.9 188.2,878.9 189.8,876.1 191.3,873.6 192.8,871.5 194.3,869.7 195.8,868.5 197.4,867.7 198.9,867.5 200.1,867.7 201.4,868.4 202.6,869.5 203.9,871.0 205.1,872.9 206.3,875.1 207.6,877.6 208.8,880.3 210.1,883.2 211.3,886.1 212.8,883.2 214.3,880.3 215.9,877.6 217.4,875.1 218.9,872.9 220.4,871.0 221.9,869.5 223.5,868.4 225.0,867.7 226.5,867.5 227.7,867.7 229.0,868.4 230.2,869.6 231.5,871.2 232.7,873.3 233.9,875.6 235.2,878.2 236.4,881.1 237.7,884.1 238.9,887.2 240.3,884.2 241.6,881.3 243.0,878.5 244.3,875.9 245.7,873.6 247.0,871.7 248.4,870.1 249.7,869.0 251.1,868.3 252.4,868.0 253.7,868.3 255.0,869.3 256.3,870.8 257.6,872.9 258.9,875.5 260.2,878.5 261.5,881.9 262.8,885.6 264.1,889.4 265.4,893.4 266.9,889.9 268.4,886.4 270.0,883.2 271.5,880.1 273.0,877.5 274.5,875.2 276.1,873.3 277.6,872.0 279.1,871.1 280.6,870.9 281.9,871.2 283.1,872.2 284.3,873.9 285.6,876.1 286.8,878.9 288.1,882.2 289.3,885.9 290.5,889.9 291.8,894.2 293.0,898.5 294.5,894.7 295.9,891.0 297.4,887.5 298.9,884.2 300.3,881.3 301.8,878.9 303.3,876.9 304.7,875.4 306.2,874.5 307.7,874.2 308.9,874.7 310.0,876.0 311.2,878.2 312.4,881.2 313.6,885.0 314.8,889.3 316.0,894.2 317.1,899.6 318.3,905.1 319.5,910.9 320.7,905.8 322.0,900.9 323.2,896.3 324.5,892.0 325.7,888.2 326.9,884.9 328.2,882.2 329.4,880.3 330.7,879.1 331.9,878.7 333.1,879.3 334.4,881.1 335.6,884.1 336.9,888.1 338.1,893.1 339.3,899.0 340.6,905.5 341.8,912.6 343.1,920.1 344.3,927.8 345.6,919.7 346.9,911.8 348.2,904.2 349.5,897.3 350.8,891.1 352.1,885.8 353.4,881.6 354.7,878.5 356.0,876.6 357.3,875.9 358.5,876.4 359.6,877.9 360.8,880.4 362.0,883.7 363.2,887.8 364.4,892.7 365.6,898.1 366.7,904.0 367.9,910.2 369.1,916.5 370.4,910.0 371.7,903.6 373.1,897.6 374.4,892.0 375.7,887.0 377.0,882.8 378.4,879.4 379.7,876.9 381.0,875.3 382.3,874.8 382.9,874.8 383.5,874.8 384.0,874.8 384.6,874.8 385.2,874.8 385.8,874.8 386.4,874.8 386.9,874.8 387.5,874.8 388.1,874.8 388.9,875.2 389.7,876.5 390.5,878.6 391.3,881.5 392.1,885.1 392.9,889.3 393.7,894.0 394.5,899.1 395.4,904.5 396.2,910.0 397.5,904.5 398.9,899.1 400.3,894.0 401.7,889.3 403.1,885.1 404.5,881.5 405.9,878.6 407.2,876.5 408.6,875.2 410.0,874.8 411.3,875.1 412.7,876.1 414.0,877.6 415.3,879.8 416.6,882.4 418.0,885.5 419.3,889.0 420.6,892.8 422.0,896.7 423.3,900.8 424.5,897.7 425.7,894.7 426.9,891.9 428.1,889.2 429.3,886.9 430.6,884.9 431.8,883.3 433.0,882.1 434.2,881.4 435.4,881.2 436.4,881.3 437.5,881.6 438.5,882.0 439.6,882.7 440.6,883.5 441.6,884.5 442.7,885.6 443.7,886.7 444.7,888.0 445.8,889.2 446.5,889.1 447.2,888.9 447.9,888.7 448.6,888.6 449.2,888.4 449.9,888.3 450.6,888.2 451.3,888.1 452.0,888.1 452.7,888.1 453.2,888.1 453.6,888.2 454.1,888.3 454.6,888.5 455.0,888.8 455.5,889.0 455.9,889.3 456.4,889.7 456.9,890.0 457.3,890.4 458.1,890.6 458.9,891.2 459.7,892.2 460.6,893.5 461.4,895.1 462.2,897.1 463.0,899.2 463.8,901.6 464.6,904.0 465.4,906.5 466.2,903.8 467.0,901.0 467.8,898.4 468.6,896.0 469.4,893.9 470.3,892.1 471.1,890.6 471.9,889.5 472.7,888.9 473.5,888.7 473.9,888.4 474.4,888.1 474.9,887.9 475.3,887.6 475.8,887.4 476.3,887.3 476.7,887.1 477.2,887.0 477.6,887.0 478.1,886.9 478.6,886.9 479.0,887.0 479.5,887.1 479.9,887.2 480.4,887.3 480.9,887.4 481.3,887.6 481.8,887.7 482.3,887.9 482.7,888.1 483.2,888.7 483.8,890.4 484.3,893.3 484.8,897.2 485.3,902.1 485.8,907.8 486.4,914.2 486.9,921.1 487.4,928.4 487.9,935.9 489.2,927.0 490.6,918.4 491.9,910.2 493.2,902.7 494.5,896.0 495.9,890.2 497.2,885.6 498.5,882.2 499.9,880.1 501.2,879.4 501.6,879.3 502.1,879.3 502.6,879.2 503.0,879.1 503.5,879.0 503.9,879.0 504.4,878.9 504.9,878.9 505.3,878.9 505.8,878.9 506.5,879.6 507.2,881.7 507.9,885.3 508.6,890.1 509.3,896.1 510.0,903.1 510.6,911.0 511.3,919.5 512.0,928.5 512.7,937.7 514.1,927.3 515.5,917.2 516.9,907.6 518.3,898.7 519.6,890.8 521.0,884.0 522.4,878.6 523.8,874.6 525.2,872.2 526.6,871.4 527.1,871.4 527.7,871.4 528.3,871.5 528.9,871.7 529.5,871.9 530.0,872.1 530.6,872.3 531.2,872.5 531.8,872.8 532.3,873.1 533.1,873.3 533.8,874.0 534.6,875.2 535.3,876.7 536.1,878.7 536.8,880.9 537.6,883.5 538.3,886.2 539.1,889.1 539.8,892.1 540.4,891.0 540.9,889.8 541.4,888.7 541.9,887.7 542.4,886.8 543.0,886.1 543.5,885.4 544.0,885.0 544.5,884.7 545.0,884.6 545.5,883.5 546.0,882.5 546.4,881.5 546.9,880.6 547.3,879.7 547.8,879.0 548.3,878.5 548.7,878.0 549.2,877.8 549.7,877.7 550.3,875.7 550.9,873.8 551.6,871.9 552.2,870.2 552.8,868.7 553.5,867.4 554.1,866.4 554.7,865.6 555.4,865.2 556.0,865.0 557.6,865.3 559.1,866.2 560.7,867.7 562.2,869.7 563.8,872.3 565.3,875.2 566.9,878.6 568.5,882.1 570.0,885.9 571.6,889.8 572.1,887.6 572.6,885.5 573.1,883.5 573.7,881.7 574.2,880.0 574.7,878.6 575.2,877.5 575.7,876.6 576.3,876.1 576.8,876.0" stroke="#d844dc"/>
</g>
<rect x="165.3" y="728" width="411.7" height="249.5" fill="none" stroke="#5a5a5a" stroke-width="1.3"/>
<line x1="247.6" y1="977.5" x2="247.6" y2="973.5" stroke="#5a5a5a" stroke-width="1"/><line x1="247.6" y1="728" x2="247.6" y2="732" stroke="#5a5a5a" stroke-width="1"/>
<line x1="330.0" y1="977.5" x2="330.0" y2="973.5" stroke="#5a5a5a" stroke-width="1"/><line x1="330.0" y1="728" x2="330.0" y2="732" stroke="#5a5a5a" stroke-width="1"/>
<line x1="412.3" y1="977.5" x2="412.3" y2="973.5" stroke="#5a5a5a" stroke-width="1"/><line x1="412.3" y1="728" x2="412.3" y2="732" stroke="#5a5a5a" stroke-width="1"/>
<line x1="494.7" y1="977.5" x2="494.7" y2="973.5" stroke="#5a5a5a" stroke-width="1"/><line x1="494.7" y1="728" x2="494.7" y2="732" stroke="#5a5a5a" stroke-width="1"/>
<line x1="165.3" y1="728.0" x2="169.3" y2="728.0" stroke="#5a5a5a" stroke-width="1"/><line x1="577" y1="728.0" x2="573" y2="728.0" stroke="#5a5a5a" stroke-width="1"/>
<line x1="165.3" y1="769.6" x2="169.3" y2="769.6" stroke="#5a5a5a" stroke-width="1"/><line x1="577" y1="769.6" x2="573" y2="769.6" stroke="#5a5a5a" stroke-width="1"/>
<line x1="165.3" y1="811.2" x2="169.3" y2="811.2" stroke="#5a5a5a" stroke-width="1"/><line x1="577" y1="811.2" x2="573" y2="811.2" stroke="#5a5a5a" stroke-width="1"/>
<line x1="165.3" y1="852.8" x2="169.3" y2="852.8" stroke="#5a5a5a" stroke-width="1"/><line x1="577" y1="852.8" x2="573" y2="852.8" stroke="#5a5a5a" stroke-width="1"/>
<line x1="165.3" y1="894.3" x2="169.3" y2="894.3" stroke="#5a5a5a" stroke-width="1"/><line x1="577" y1="894.3" x2="573" y2="894.3" stroke="#5a5a5a" stroke-width="1"/>
<line x1="165.3" y1="935.9" x2="169.3" y2="935.9" stroke="#5a5a5a" stroke-width="1"/><line x1="577" y1="935.9" x2="573" y2="935.9" stroke="#5a5a5a" stroke-width="1"/>
<line x1="165.3" y1="977.5" x2="169.3" y2="977.5" stroke="#5a5a5a" stroke-width="1"/><line x1="577" y1="977.5" x2="573" y2="977.5" stroke="#5a5a5a" stroke-width="1"/>
<g font-family="Liberation Serif" font-size="16.3" fill="#262626">
<text x="165.3" y="998.9" text-anchor="middle">7</text>
<text x="247.6" y="998.9" text-anchor="middle">7.2</text>
<text x="330.0" y="998.9" text-anchor="middle">7.4</text>
<text x="412.3" y="998.9" text-anchor="middle">7.6</text>
<text x="494.7" y="998.9" text-anchor="middle">7.8</text>
<text x="577.0" y="998.9" text-anchor="middle">8</text>
<text x="158.8" y="733.6" text-anchor="end">-20</text>
<text x="158.8" y="775.2" text-anchor="end">-40</text>
<text x="158.8" y="816.8" text-anchor="end">-60</text>
<text x="158.8" y="858.4" text-anchor="end">-80</text>
<text x="158.8" y="899.9" text-anchor="end">-100</text>
<text x="158.8" y="941.5" text-anchor="end">-120</text>
<text x="158.8" y="983.1" text-anchor="end">-140</text>
</g>
<text x="371.1" y="1020.2" text-anchor="middle" font-family="Liberation Serif" font-size="18" fill="#262626">Frequency (GHz)</text>
<text x="126.3" y="852.8" transform="rotate(-90 126.3 852.8)" text-anchor="middle" font-family="Liberation Serif" font-size="18" fill="#262626">Transmission (S21, dB)</text>
<rect x="300.2" y="750.8" width="265.7" height="64.4" fill="#ffffff" stroke="#3a3a3a" stroke-width="0.9"/>
<line x1="304.9" y1="760.2" x2="338.0" y2="760.2" stroke="#2424a0" stroke-width="1.6"/>
<text x="341.7" y="764.6" font-family="Liberation Serif" font-size="12.8" fill="#262626">Copper tape</text>
<line x1="304.9" y1="775.5" x2="338.0" y2="775.5" stroke="#d844dc" stroke-width="1.6"/>
<text x="341.7" y="779.9" font-family="Liberation Serif" font-size="12.8" fill="#262626">Dielectric with copper ground</text>
<line x1="304.9" y1="790.9" x2="338.0" y2="790.9" stroke="#46d446" stroke-width="1.6"/>
<text x="341.7" y="795.3" font-family="Liberation Serif" font-size="12.8" fill="#262626">Stucuture on Dielectric</text>
<line x1="304.9" y1="806.2" x2="338.0" y2="806.2" stroke="#b83434" stroke-width="1.6"/>
<text x="341.7" y="810.6" font-family="Liberation Serif" font-size="12.8" fill="#262626">Structure on Dielectric with copper ground</text>
<rect x="690.9" y="703.5" width="533.8000000000001" height="321.29999999999995" fill="#ffffff"/>
<rect x="691.4" y="704.0" width="532.8000000000001" height="320.29999999999995" fill="none" stroke="#e6eef8" stroke-width="1.5"/>
<line x1="843.7" y1="728" x2="843.7" y2="977.5" stroke="#e3e3e3" stroke-width="1"/>
<line x1="926.2" y1="728" x2="926.2" y2="977.5" stroke="#e3e3e3" stroke-width="1"/>
<line x1="1008.6" y1="728" x2="1008.6" y2="977.5" stroke="#e3e3e3" stroke-width="1"/>
<line x1="1091.1" y1="728" x2="1091.1" y2="977.5" stroke="#e3e3e3" stroke-width="1"/>
<line x1="761.2" y1="763.6" x2="1173.6" y2="763.6" stroke="#e3e3e3" stroke-width="1"/>
<line x1="761.2" y1="799.3" x2="1173.6" y2="799.3" stroke="#e3e3e3" stroke-width="1"/>
<line x1="761.2" y1="834.9" x2="1173.6" y2="834.9" stroke="#e3e3e3" stroke-width="1"/>
<line x1="761.2" y1="870.6" x2="1173.6" y2="870.6" stroke="#e3e3e3" stroke-width="1"/>
<line x1="761.2" y1="906.2" x2="1173.6" y2="906.2" stroke="#e3e3e3" stroke-width="1"/>
<line x1="761.2" y1="941.9" x2="1173.6" y2="941.9" stroke="#e3e3e3" stroke-width="1"/>
<clipPath id="ch690_703"><rect x="761.2" y="725" width="412.39999999999986" height="252.5"/></clipPath>
<g clip-path="url(#ch690_703)" fill="none" stroke-width="1.6" stroke-linejoin="round">
<polyline points="761.2,736.2 1173.6,736.7" stroke="#46d446"/>
<polyline points="761.2,831.4 763.1,832.1 765.0,832.4 766.9,834.1 768.8,834.9 770.6,835.6 772.4,837.4 774.2,837.9 776.0,838.7 777.7,839.5 779.5,841.8 781.3,840.8 783.0,840.6 784.8,838.8 786.6,838.4 788.4,839.0 790.1,838.0 791.9,838.7 793.7,840.0 795.4,840.8 797.2,842.3 798.9,843.2 800.6,842.9 802.3,844.4 804.0,844.8 805.6,845.3 807.3,846.3 809.0,846.2 810.7,845.9 812.4,844.9 814.1,845.2 815.8,844.7 817.5,844.6 819.1,844.0 820.8,844.1 822.5,844.9 824.2,844.2 825.9,844.7 827.6,845.5 829.3,846.2 831.0,847.4 832.6,848.1 834.3,847.6 836.0,847.7 837.7,846.1 839.4,846.4 841.1,845.3 842.8,845.8 844.4,844.4 846.1,844.9 847.8,846.6 849.5,846.5 851.2,845.5 852.9,846.5 854.6,845.9 856.3,847.2 858.1,847.6 859.9,846.5 861.8,846.2 863.6,847.0 865.5,847.2 867.3,846.6 869.2,845.4 871.0,845.6 872.8,847.7 874.6,848.3 876.3,849.5 878.1,850.4 879.9,850.0 881.6,850.9 883.2,850.0 884.9,850.0 886.6,850.2 888.3,849.1 890.0,849.9 891.7,848.8 893.4,849.2 895.1,848.1 896.7,847.9 898.4,847.3 900.1,845.5 901.8,845.2 903.5,845.6 905.2,844.7 906.9,846.0 908.5,845.8 910.2,845.1 911.9,845.6 913.6,846.7 915.3,845.2 917.1,846.2 919.0,845.8 920.8,844.5 922.7,844.9 924.5,844.6 926.4,844.7 928.2,844.3 930.1,843.0 931.7,844.2 933.4,844.1 935.1,845.0 936.8,845.4 938.5,845.1 940.2,846.5 941.9,846.9 943.7,845.9 945.6,846.6 947.4,846.2 949.2,844.3 951.1,844.0 952.9,844.6 954.8,844.2 956.6,842.7 958.3,842.6 960.0,844.1 961.7,843.0 963.4,843.3 965.1,844.0 966.7,844.6 968.4,845.3 970.2,844.7 972.0,842.4 973.7,843.0 975.5,841.4 977.3,841.5 979.0,840.1 980.7,840.1 982.3,840.2 984.0,840.0 985.7,838.6 987.4,839.3 989.1,838.6 990.9,837.7 992.6,836.8 994.4,836.9 996.2,837.1 998.0,835.6 999.6,837.6 1001.3,838.6 1003.0,838.8 1004.7,839.2 1006.4,840.5 1008.1,841.0 1009.8,841.3 1011.4,841.3 1013.1,842.3 1014.8,842.2 1016.5,841.6 1018.2,841.7 1019.9,842.6 1021.6,842.8 1023.3,843.3 1025.1,844.4 1026.9,844.9 1028.7,845.2 1030.4,843.9 1032.2,844.6 1034.0,844.4 1035.7,846.4 1037.5,845.6 1039.3,846.1 1041.1,845.6 1043.0,846.2 1044.8,844.9 1046.7,846.4 1048.5,845.5 1050.4,845.0 1052.2,844.6 1054.0,844.8 1055.7,844.4 1057.4,843.9 1059.1,843.2 1060.8,843.8 1062.5,842.8 1064.2,842.0 1065.9,841.6 1067.7,842.0 1069.5,840.9 1071.4,840.3 1073.2,840.4 1075.1,839.8 1076.9,839.8 1078.8,839.0 1080.6,838.5 1082.5,840.2 1084.3,840.0 1086.1,840.1 1088.0,841.0 1089.8,842.0 1091.7,843.4 1093.5,843.5 1095.4,844.5 1097.2,843.7 1099.1,842.0 1100.9,842.3 1102.8,840.1 1104.6,840.3 1106.4,838.2 1108.3,837.4 1110.1,836.8 1111.8,836.3 1113.5,836.9 1115.2,836.9 1116.9,836.6 1118.6,838.1 1120.3,838.8 1121.9,838.5 1123.7,837.7 1125.5,838.5 1127.3,838.5 1129.0,837.1 1130.8,837.4 1132.6,837.7 1134.3,836.8 1136.1,837.7 1137.9,837.0 1139.7,837.8 1141.4,837.5 1143.2,837.0 1145.0,837.0 1146.7,837.2 1148.5,838.2 1150.3,838.0 1152.1,838.6 1153.8,839.1 1155.6,838.6 1157.4,838.1 1159.2,837.7 1161.0,837.6 1162.8,836.7 1164.6,837.5 1166.4,837.3 1168.2,836.5 1170.0,836.4 1171.8,836.1 1173.6,835.2" stroke="#b83434"/>
<polyline points="760.4,893.3 761.0,892.5 761.6,891.7 762.3,890.9 762.9,890.2 763.5,889.6 764.1,889.0 764.8,888.6 765.4,888.3 766.0,888.1 766.6,888.0 768.0,888.2 769.3,888.5 770.7,889.2 772.0,890.1 773.4,891.1 774.7,892.4 776.1,893.8 777.5,895.4 778.8,897.0 780.2,898.7 781.6,896.3 783.1,894.0 784.6,891.9 786.0,889.8 787.5,888.1 789.0,886.5 790.4,885.3 791.9,884.4 793.4,883.9 794.8,883.7 796.1,883.8 797.3,884.3 798.6,885.1 799.8,886.2 801.1,887.5 802.3,889.1 803.5,890.8 804.8,892.7 806.0,894.7 807.3,896.7 808.8,894.8 810.3,892.8 811.8,891.0 813.4,889.3 814.9,887.8 816.4,886.6 817.9,885.5 819.5,884.8 821.0,884.3 822.5,884.2 823.8,884.3 825.0,884.8 826.2,885.7 827.5,886.8 828.7,888.3 830.0,889.9 831.2,891.8 832.4,893.8 833.7,896.0 834.9,898.2 836.3,896.0 837.6,893.8 839.0,891.8 840.4,889.9 841.7,888.3 843.1,886.8 844.4,885.7 845.8,884.8 847.1,884.3 848.5,884.2 850.1,884.3 851.6,884.9 853.2,885.8 854.8,887.0 856.4,888.5 858.0,890.3 859.6,892.3 861.1,894.5 862.7,896.8 864.3,899.1 865.6,897.5 867.0,895.8 868.4,894.3 869.7,892.9 871.1,891.6 872.4,890.5 873.8,889.7 875.1,889.0 876.5,888.6 877.8,888.5 879.2,888.7 880.6,889.2 881.9,890.0 883.3,891.1 884.6,892.5 886.0,894.1 887.3,895.9 888.7,897.9 890.0,899.9 891.4,902.0 892.9,900.5 894.3,899.0 895.8,897.6 897.3,896.4 898.7,895.2 900.2,894.2 901.7,893.4 903.1,892.8 904.6,892.5 906.1,892.4 907.3,892.5 908.6,893.0 909.8,893.7 911.0,894.7 912.3,895.9 913.5,897.3 914.8,899.0 916.0,900.7 917.3,902.6 918.5,904.4 919.4,904.0 920.3,903.6 921.2,903.1 922.1,902.7 923.0,902.4 923.9,902.1 924.8,901.9 925.7,901.7 926.6,901.6 927.5,901.5 928.3,901.6 929.1,901.9 929.9,902.2 930.7,902.7 931.5,903.4 932.3,904.1 933.1,905.0 933.9,905.9 934.6,906.8 935.4,907.8 936.7,906.5 937.9,905.3 939.2,904.1 940.4,903.0 941.6,902.0 942.9,901.2 944.1,900.5 945.4,900.0 946.6,899.7 947.9,899.6 949.0,899.7 950.1,899.9 951.2,900.3 952.4,900.8 953.5,901.5 954.6,902.2 955.8,903.0 956.9,904.0 958.0,904.9 959.1,905.9 959.9,904.4 960.6,902.9 961.3,901.5 962.0,900.2 962.7,899.1 963.4,898.1 964.1,897.3 964.8,896.7 965.5,896.4 966.3,896.2 966.8,895.8 967.3,895.4 967.9,895.0 968.4,894.6 969.0,894.3 969.5,894.0 970.0,893.7 970.6,893.6 971.1,893.5 971.6,893.4 973.1,893.6 974.6,894.0 976.2,894.6 977.7,895.5 979.2,896.6 980.7,897.9 982.2,899.4 983.7,901.0 985.2,902.6 986.7,904.3 987.9,902.5 989.2,900.7 990.5,898.9 991.8,897.3 993.0,895.9 994.3,894.7 995.6,893.7 996.8,893.0 998.1,892.6 999.4,892.4 1001.0,892.6 1002.6,893.0 1004.2,893.7 1005.9,894.6 1007.5,895.8 1009.1,897.1 1010.7,898.7 1012.3,900.3 1014.0,902.0 1015.6,903.8 1016.5,902.4 1017.4,901.1 1018.3,899.8 1019.3,898.6 1020.2,897.5 1021.1,896.6 1022.0,895.9 1023.0,895.4 1023.9,895.0 1024.8,894.9 1025.6,895.0 1026.4,895.1 1027.2,895.2 1028.1,895.5 1028.9,895.8 1029.7,896.1 1030.5,896.5 1031.3,897.0 1032.1,897.4 1032.9,897.9 1033.8,898.0 1034.8,898.1 1035.7,898.4 1036.6,898.8 1037.5,899.3 1038.5,899.9 1039.4,900.6 1040.3,901.3 1041.2,902.1 1042.2,902.8 1042.9,902.5 1043.5,902.2 1044.2,901.9 1044.9,901.7 1045.6,901.4 1046.3,901.2 1047.0,901.1 1047.7,901.0 1048.4,900.9 1049.1,900.9 1049.6,900.9 1050.0,901.0 1050.5,901.1 1050.9,901.3 1051.4,901.6 1051.9,901.9 1052.3,902.2 1052.8,902.6 1053.3,902.9 1053.7,903.3 1054.5,903.4 1055.3,903.4 1056.1,903.5 1057.0,903.7 1057.8,903.9 1058.6,904.1 1059.4,904.4 1060.2,904.7 1061.0,905.0 1061.8,905.3 1062.5,905.2 1063.2,905.2 1063.9,905.1 1064.6,905.0 1065.3,905.0 1066.0,904.9 1066.7,904.9 1067.4,904.8 1068.1,904.8 1068.8,904.8 1069.8,905.1 1070.8,906.1 1071.9,907.6 1072.9,909.7 1074.0,912.3 1075.0,915.4 1076.0,918.9 1077.1,922.6 1078.1,926.5 1079.2,930.5 1080.4,925.7 1081.7,921.1 1083.0,916.6 1084.2,912.5 1085.5,908.9 1086.8,905.7 1088.1,903.2 1089.3,901.4 1090.6,900.2 1091.9,899.9 1093.0,900.1 1094.2,900.6 1095.3,901.5 1096.5,902.8 1097.7,904.4 1098.8,906.2 1100.0,908.2 1101.1,910.5 1102.3,912.8 1103.4,915.2 1104.8,911.5 1106.2,907.9 1107.6,904.4 1109.0,901.2 1110.4,898.4 1111.8,896.0 1113.1,894.0 1114.5,892.6 1115.9,891.8 1117.3,891.5 1118.3,891.6 1119.4,891.9 1120.4,892.5 1121.5,893.3 1122.5,894.2 1123.5,895.3 1124.6,896.6 1125.6,898.0 1126.7,899.4 1127.7,900.9 1129.1,898.5 1130.5,896.1 1131.9,893.9 1133.3,891.8 1134.6,890.0 1136.0,888.5 1137.4,887.2 1138.8,886.3 1140.2,885.7 1141.6,885.5 1143.3,885.7 1145.0,886.2 1146.8,886.9 1148.5,888.0 1150.3,889.3 1152.0,890.8 1153.7,892.5 1155.5,894.4 1157.2,896.4 1158.9,898.4 1160.4,895.9 1161.8,893.5 1163.3,891.2 1164.7,889.1 1166.1,887.2 1167.6,885.6 1169.0,884.3 1170.5,883.3 1171.9,882.8 1173.4,882.6" stroke="#2424a0"/>
<polyline points="760.4,891.4 761.0,890.9 761.6,890.4 762.3,889.9 762.9,889.4 763.5,889.0 764.1,888.7 764.8,888.4 765.4,888.2 766.0,888.1 766.6,888.0 767.9,888.2 769.2,888.7 770.5,889.4 771.8,890.5 773.1,891.8 774.4,893.4 775.7,895.1 777.0,897.0 778.3,899.0 779.6,901.1 781.1,898.3 782.7,895.5 784.2,893.0 785.7,890.6 787.2,888.4 788.8,886.6 790.3,885.1 791.8,884.1 793.3,883.4 794.8,883.2 796.1,883.4 797.3,884.0 798.6,884.9 799.8,886.2 801.1,887.9 802.3,889.8 803.5,891.9 804.8,894.2 806.0,896.6 807.3,899.1 808.8,896.6 810.3,894.2 811.8,891.9 813.4,889.8 814.9,887.9 816.4,886.2 817.9,884.9 819.5,884.0 821.0,883.4 822.5,883.2 823.8,883.4 825.0,884.0 826.2,885.0 827.5,886.4 828.7,888.1 830.0,890.2 831.2,892.4 832.4,894.9 833.7,897.5 834.9,900.1 836.3,897.5 837.6,895.0 839.0,892.6 840.4,890.4 841.7,888.5 843.1,886.8 844.4,885.5 845.8,884.5 847.1,883.9 848.5,883.7 849.8,883.9 851.1,884.7 852.4,886.0 853.7,887.8 855.0,890.0 856.3,892.6 857.6,895.5 858.9,898.7 860.2,902.0 861.5,905.4 863.0,902.4 864.5,899.4 866.0,896.6 867.6,894.1 869.1,891.7 870.6,889.8 872.1,888.2 873.7,887.0 875.2,886.3 876.7,886.1 878.0,886.4 879.2,887.2 880.4,888.7 881.7,890.6 882.9,893.0 884.2,895.8 885.4,899.0 886.7,902.4 887.9,906.1 889.1,909.8 890.6,906.5 892.1,903.3 893.5,900.3 895.0,897.6 896.5,895.1 897.9,893.0 899.4,891.3 900.9,890.0 902.3,889.2 903.8,889.0 905.0,889.4 906.2,890.5 907.4,892.4 908.6,895.0 909.7,898.2 910.9,901.9 912.1,906.1 913.3,910.7 914.5,915.5 915.7,920.4 916.9,916.1 918.2,911.9 919.4,907.9 920.6,904.2 921.9,900.9 923.1,898.1 924.4,895.9 925.6,894.2 926.8,893.2 928.1,892.9 929.3,893.4 930.6,894.9 931.8,897.4 933.1,900.9 934.3,905.2 935.5,910.2 936.8,915.8 938.0,921.9 939.3,928.3 940.5,934.9 941.8,927.9 943.1,921.1 944.4,914.7 945.7,908.8 947.0,903.5 948.3,898.9 949.6,895.3 950.9,892.6 952.2,891.0 953.5,890.4 954.7,890.9 955.9,892.1 957.1,894.2 958.2,897.1 959.4,900.6 960.6,904.8 961.8,909.4 963.0,914.5 964.2,919.8 965.4,925.2 966.7,919.6 968.0,914.2 969.3,909.0 970.6,904.2 972.0,900.0 973.3,896.3 974.6,893.4 975.9,891.2 977.3,889.9 978.6,889.5 979.2,889.5 979.7,889.5 980.3,889.5 980.9,889.5 981.5,889.5 982.0,889.5 982.6,889.5 983.2,889.5 983.8,889.5 984.4,889.5 985.2,889.9 986.0,891.0 986.8,892.8 987.6,895.2 988.4,898.3 989.2,901.9 990.0,906.0 990.8,910.3 991.6,914.9 992.5,919.7 993.8,914.9 995.2,910.3 996.6,906.0 998.0,901.9 999.4,898.3 1000.8,895.2 1002.2,892.8 1003.6,891.0 1004.9,889.9 1006.3,889.5 1007.7,889.8 1009.0,890.6 1010.3,891.9 1011.6,893.7 1013.0,896.0 1014.3,898.7 1015.6,901.6 1017.0,904.9 1018.3,908.3 1019.6,911.7 1020.8,909.1 1022.0,906.5 1023.3,904.1 1024.5,901.9 1025.7,899.8 1026.9,898.1 1028.1,896.8 1029.3,895.7 1030.5,895.1 1031.8,894.9 1032.8,895.0 1033.8,895.3 1034.9,895.7 1035.9,896.2 1037.0,897.0 1038.0,897.8 1039.0,898.7 1040.1,899.7 1041.1,900.8 1042.2,901.8 1042.9,901.7 1043.5,901.5 1044.2,901.4 1044.9,901.3 1045.6,901.1 1046.3,901.0 1047.0,901.0 1047.7,900.9 1048.4,900.9 1049.1,900.9 1049.6,900.9 1050.0,901.0 1050.5,901.1 1050.9,901.2 1051.4,901.4 1051.9,901.7 1052.3,901.9 1052.8,902.2 1053.3,902.5 1053.7,902.8 1054.5,903.0 1055.3,903.5 1056.1,904.3 1057.0,905.5 1057.8,906.9 1058.6,908.5 1059.4,910.4 1060.2,912.4 1061.0,914.5 1061.8,916.7 1062.6,914.3 1063.4,911.9 1064.2,909.7 1065.1,907.7 1065.9,905.8 1066.7,904.3 1067.5,903.0 1068.3,902.1 1069.1,901.5 1069.9,901.4 1070.4,901.1 1070.8,900.9 1071.3,900.7 1071.8,900.5 1072.2,900.3 1072.7,900.2 1073.1,900.0 1073.6,899.9 1074.1,899.9 1074.5,899.9 1075.0,899.9 1075.5,899.9 1075.9,900.0 1076.4,900.1 1076.8,900.2 1077.3,900.3 1077.8,900.4 1078.2,900.6 1078.7,900.7 1079.2,900.9 1079.7,901.4 1080.2,902.9 1080.7,905.3 1081.2,908.7 1081.8,912.9 1082.3,917.7 1082.8,923.2 1083.3,929.2 1083.8,935.4 1084.4,941.8 1085.7,934.2 1087.0,926.9 1088.3,919.9 1089.7,913.4 1091.0,907.6 1092.3,902.7 1093.7,898.7 1095.0,895.8 1096.3,894.0 1097.7,893.4 1098.1,893.4 1098.6,893.3 1099.0,893.2 1099.5,893.1 1100.0,893.1 1100.4,893.0 1100.9,893.0 1101.4,893.0 1101.8,893.0 1102.3,892.9 1103.0,893.6 1103.7,895.4 1104.4,898.4 1105.0,902.6 1105.7,907.7 1106.4,913.7 1107.1,920.5 1107.8,927.8 1108.5,935.5 1109.2,943.4 1110.6,934.5 1112.0,925.8 1113.4,917.6 1114.8,910.0 1116.1,903.2 1117.5,897.4 1118.9,892.7 1120.3,889.3 1121.7,887.2 1123.1,886.5 1123.7,886.5 1124.2,886.6 1124.8,886.7 1125.4,886.8 1126.0,886.9 1126.6,887.1 1127.1,887.3 1127.7,887.5 1128.3,887.8 1128.9,888.0 1129.6,888.2 1130.4,888.8 1131.1,889.8 1131.9,891.1 1132.6,892.8 1133.4,894.7 1134.1,896.9 1134.9,899.3 1135.6,901.8 1136.4,904.3 1136.9,903.3 1137.4,902.3 1137.9,901.4 1138.5,900.5 1139.0,899.8 1139.5,899.1 1140.0,898.6 1140.5,898.2 1141.1,898.0 1141.6,897.9 1142.0,897.0 1142.5,896.1 1143.0,895.2 1143.4,894.4 1143.9,893.7 1144.4,893.1 1144.8,892.6 1145.3,892.2 1145.7,892.0 1146.2,892.0 1146.8,890.3 1147.5,888.6 1148.1,887.0 1148.7,885.6 1149.4,884.3 1150.0,883.2 1150.7,882.3 1151.3,881.6 1151.9,881.2 1152.6,881.1 1154.1,881.3 1155.7,882.1 1157.2,883.4 1158.8,885.1 1160.4,887.3 1161.9,889.8 1163.5,892.7 1165.0,895.8 1166.6,899.0 1168.2,902.3 1168.7,900.5 1169.2,898.7 1169.7,897.0 1170.2,895.4 1170.8,893.9 1171.3,892.7 1171.8,891.8 1172.3,891.1 1172.9,890.6 1173.4,890.5" stroke="#d844dc"/>
</g>
<rect x="761.2" y="728" width="412.39999999999986" height="249.5" fill="none" stroke="#5a5a5a" stroke-width="1.3"/>
<line x1="843.7" y1="977.5" x2="843.7" y2="973.5" stroke="#5a5a5a" stroke-width="1"/><line x1="843.7" y1="728" x2="843.7" y2="732" stroke="#5a5a5a" stroke-width="1"/>
<line x1="926.2" y1="977.5" x2="926.2" y2="973.5" stroke="#5a5a5a" stroke-width="1"/><line x1="926.2" y1="728" x2="926.2" y2="732" stroke="#5a5a5a" stroke-width="1"/>
<line x1="1008.6" y1="977.5" x2="1008.6" y2="973.5" stroke="#5a5a5a" stroke-width="1"/><line x1="1008.6" y1="728" x2="1008.6" y2="732" stroke="#5a5a5a" stroke-width="1"/>
<line x1="1091.1" y1="977.5" x2="1091.1" y2="973.5" stroke="#5a5a5a" stroke-width="1"/><line x1="1091.1" y1="728" x2="1091.1" y2="732" stroke="#5a5a5a" stroke-width="1"/>
<line x1="761.2" y1="728.0" x2="765.2" y2="728.0" stroke="#5a5a5a" stroke-width="1"/><line x1="1173.6" y1="728.0" x2="1169.6" y2="728.0" stroke="#5a5a5a" stroke-width="1"/>
<line x1="761.2" y1="763.6" x2="765.2" y2="763.6" stroke="#5a5a5a" stroke-width="1"/><line x1="1173.6" y1="763.6" x2="1169.6" y2="763.6" stroke="#5a5a5a" stroke-width="1"/>
<line x1="761.2" y1="799.3" x2="765.2" y2="799.3" stroke="#5a5a5a" stroke-width="1"/><line x1="1173.6" y1="799.3" x2="1169.6" y2="799.3" stroke="#5a5a5a" stroke-width="1"/>
<line x1="761.2" y1="834.9" x2="765.2" y2="834.9" stroke="#5a5a5a" stroke-width="1"/><line x1="1173.6" y1="834.9" x2="1169.6" y2="834.9" stroke="#5a5a5a" stroke-width="1"/>
<line x1="761.2" y1="870.6" x2="765.2" y2="870.6" stroke="#5a5a5a" stroke-width="1"/><line x1="1173.6" y1="870.6" x2="1169.6" y2="870.6" stroke="#5a5a5a" stroke-width="1"/>
<line x1="761.2" y1="906.2" x2="765.2" y2="906.2" stroke="#5a5a5a" stroke-width="1"/><line x1="1173.6" y1="906.2" x2="1169.6" y2="906.2" stroke="#5a5a5a" stroke-width="1"/>
<line x1="761.2" y1="941.9" x2="765.2" y2="941.9" stroke="#5a5a5a" stroke-width="1"/><line x1="1173.6" y1="941.9" x2="1169.6" y2="941.9" stroke="#5a5a5a" stroke-width="1"/>
<line x1="761.2" y1="977.5" x2="765.2" y2="977.5" stroke="#5a5a5a" stroke-width="1"/><line x1="1173.6" y1="977.5" x2="1169.6" y2="977.5" stroke="#5a5a5a" stroke-width="1"/>
<g font-family="Liberation Serif" font-size="16.3" fill="#262626">
<text x="761.2" y="998.9" text-anchor="middle">7</text>
<text x="843.7" y="998.9" text-anchor="middle">7.2</text>
<text x="926.2" y="998.9" text-anchor="middle">7.4</text>
<text x="1008.6" y="998.9" text-anchor="middle">7.6</text>
<text x="1091.1" y="998.9" text-anchor="middle">7.8</text>
<text x="1173.6" y="998.9" text-anchor="middle">8</text>
<text x="754.7" y="733.6" text-anchor="end">0</text>
<text x="754.7" y="769.2" text-anchor="end">-20</text>
<text x="754.7" y="804.9" text-anchor="end">-40</text>
<text x="754.7" y="840.5" text-anchor="end">-60</text>
<text x="754.7" y="876.2" text-anchor="end">-80</text>
<text x="754.7" y="911.8" text-anchor="end">-100</text>
<text x="754.7" y="947.5" text-anchor="end">-120</text>
<text x="754.7" y="983.1" text-anchor="end">-140</text>
</g>
<text x="967.4" y="1020.2" text-anchor="middle" font-family="Liberation Serif" font-size="18" fill="#262626">Frequency (GHz)</text>
<text x="722.2" y="852.8" transform="rotate(-90 722.2 852.8)" text-anchor="middle" font-family="Liberation Serif" font-size="18" fill="#262626">Transmission (S21, dB)</text>
<rect x="896.4" y="746.4" width="265.1" height="65.0" fill="#ffffff" stroke="#3a3a3a" stroke-width="0.9"/>
<line x1="901.1" y1="755.8" x2="934.2" y2="755.8" stroke="#2424a0" stroke-width="1.6"/>
<text x="937.9" y="760.2" font-family="Liberation Serif" font-size="12.8" fill="#262626">Copper tape</text>
<line x1="901.1" y1="771.3" x2="934.2" y2="771.3" stroke="#d844dc" stroke-width="1.6"/>
<text x="937.9" y="775.7" font-family="Liberation Serif" font-size="12.8" fill="#262626">Dielectric with copper ground</text>
<line x1="901.1" y1="786.8" x2="934.2" y2="786.8" stroke="#46d446" stroke-width="1.6"/>
<text x="937.9" y="791.2" font-family="Liberation Serif" font-size="12.8" fill="#262626">Stucuture on Dielectric</text>
<line x1="901.1" y1="802.3" x2="934.2" y2="802.3" stroke="#b83434" stroke-width="1.6"/>
<text x="937.9" y="806.7" font-family="Liberation Serif" font-size="12.8" fill="#262626">Structure on Dielectric with copper ground</text>
<rect x="1268.9" y="704" width="533.8" height="320.79999999999995" fill="#ffffff"/>
<rect x="1269.4" y="704.5" width="532.8" height="319.79999999999995" fill="none" stroke="#e6eef8" stroke-width="1.5"/>
<line x1="1421.7" y1="728.6" x2="1421.7" y2="977.5" stroke="#e3e3e3" stroke-width="1"/>
<line x1="1504.2" y1="728.6" x2="1504.2" y2="977.5" stroke="#e3e3e3" stroke-width="1"/>
<line x1="1586.6" y1="728.6" x2="1586.6" y2="977.5" stroke="#e3e3e3" stroke-width="1"/>
<line x1="1669.1" y1="728.6" x2="1669.1" y2="977.5" stroke="#e3e3e3" stroke-width="1"/>
<line x1="1339.2" y1="764.2" x2="1751.6" y2="764.2" stroke="#e3e3e3" stroke-width="1"/>
<line x1="1339.2" y1="799.7" x2="1751.6" y2="799.7" stroke="#e3e3e3" stroke-width="1"/>
<line x1="1339.2" y1="835.3" x2="1751.6" y2="835.3" stroke="#e3e3e3" stroke-width="1"/>
<line x1="1339.2" y1="870.8" x2="1751.6" y2="870.8" stroke="#e3e3e3" stroke-width="1"/>
<line x1="1339.2" y1="906.4" x2="1751.6" y2="906.4" stroke="#e3e3e3" stroke-width="1"/>
<line x1="1339.2" y1="941.9" x2="1751.6" y2="941.9" stroke="#e3e3e3" stroke-width="1"/>
<clipPath id="ch1268_704"><rect x="1339.2" y="725.6" width="412.39999999999986" height="251.89999999999998"/></clipPath>
<g clip-path="url(#ch1268_704)" fill="none" stroke-width="1.6" stroke-linejoin="round">
<polyline points="1339.2,761.3 1751.6,757.6" stroke="#46d446"/>
<polyline points="1338.4,893.1 1339.0,892.3 1339.6,891.6 1340.3,890.9 1340.9,890.2 1341.5,889.6 1342.1,889.2 1342.8,888.8 1343.4,888.5 1344.0,888.3 1344.6,888.2 1346.0,888.4 1347.3,888.7 1348.7,889.3 1350.0,890.2 1351.4,891.2 1352.7,892.4 1354.1,893.8 1355.5,895.2 1356.8,896.8 1358.2,898.4 1359.6,896.1 1361.1,893.9 1362.6,891.8 1364.0,889.9 1365.5,888.1 1367.0,886.7 1368.4,885.5 1369.9,884.6 1371.4,884.1 1372.8,883.9 1374.1,884.1 1375.3,884.5 1376.6,885.3 1377.8,886.3 1379.1,887.6 1380.3,889.1 1381.5,890.7 1382.8,892.6 1384.0,894.5 1385.3,896.4 1386.8,894.5 1388.3,892.6 1389.8,890.7 1391.4,889.1 1392.9,887.6 1394.4,886.3 1395.9,885.3 1397.5,884.5 1399.0,884.1 1400.5,883.9 1401.8,884.1 1403.0,884.6 1404.2,885.4 1405.5,886.6 1406.7,888.0 1408.0,889.7 1409.2,891.5 1410.4,893.6 1411.7,895.7 1412.9,897.9 1414.3,895.8 1415.6,893.7 1417.0,891.7 1418.4,889.9 1419.7,888.3 1421.1,887.0 1422.4,885.9 1423.8,885.0 1425.1,884.5 1426.5,884.4 1428.1,884.6 1429.6,885.1 1431.2,885.9 1432.8,887.1 1434.4,888.5 1436.0,890.1 1437.6,892.0 1439.1,894.0 1440.7,896.2 1442.3,898.4 1443.5,897.1 1444.8,895.8 1446.0,894.6 1447.3,893.5 1448.5,892.6 1449.7,891.7 1451.0,891.1 1452.2,890.6 1453.5,890.3 1454.7,890.2 1456.1,890.2 1457.4,890.5 1458.8,890.8 1460.1,891.4 1461.5,892.0 1462.8,892.7 1464.2,893.6 1465.6,894.5 1466.9,895.5 1468.3,896.4 1469.1,896.5 1469.8,896.6 1470.6,896.7 1471.4,897.0 1472.2,897.3 1473.0,897.6 1473.8,898.0 1474.6,898.4 1475.4,898.9 1476.2,899.3 1477.0,898.9 1477.7,898.6 1478.5,898.2 1479.3,897.9 1480.1,897.6 1480.9,897.4 1481.7,897.2 1482.5,897.0 1483.3,896.9 1484.1,896.9 1484.9,896.9 1485.7,897.0 1486.4,897.2 1487.2,897.4 1488.0,897.6 1488.8,897.9 1489.6,898.2 1490.4,898.6 1491.2,898.9 1492.0,899.3 1493.3,899.5 1494.7,899.8 1496.0,900.5 1497.4,901.3 1498.8,902.4 1500.1,903.7 1501.5,905.1 1502.8,906.6 1504.2,908.3 1505.5,909.9 1506.9,908.0 1508.2,906.2 1509.6,904.5 1510.9,902.8 1512.3,901.4 1513.7,900.2 1515.0,899.2 1516.4,898.5 1517.7,898.0 1519.1,897.9 1520.3,898.0 1521.6,898.5 1522.8,899.3 1524.0,900.5 1525.3,901.8 1526.5,903.4 1527.8,905.2 1529.0,907.2 1530.3,909.3 1531.5,911.4 1532.8,908.6 1534.1,905.9 1535.3,903.3 1536.6,900.9 1537.9,898.8 1539.2,896.9 1540.4,895.5 1541.7,894.4 1543.0,893.8 1544.3,893.5 1544.8,893.5 1545.3,893.5 1545.9,893.5 1546.4,893.6 1547.0,893.6 1547.5,893.6 1548.0,893.6 1548.6,893.6 1549.1,893.6 1549.6,893.6 1550.7,893.8 1551.7,894.1 1552.8,894.7 1553.8,895.5 1554.8,896.5 1555.9,897.7 1556.9,899.0 1558.0,900.5 1559.0,902.0 1560.0,903.5 1561.8,901.8 1563.5,900.2 1565.3,898.6 1567.0,897.1 1568.7,895.8 1570.5,894.7 1572.2,893.8 1573.9,893.2 1575.7,892.8 1577.4,892.7 1578.9,892.8 1580.4,893.2 1581.9,893.9 1583.4,894.8 1584.9,896.0 1586.4,897.3 1587.9,898.9 1589.4,900.5 1590.9,902.2 1592.4,904.0 1593.6,902.8 1594.7,901.7 1595.9,900.6 1597.0,899.7 1598.2,898.8 1599.4,898.0 1600.5,897.4 1601.7,897.0 1602.8,896.7 1604.0,896.6 1605.6,896.7 1607.2,896.9 1608.8,897.3 1610.5,897.8 1612.1,898.5 1613.7,899.2 1615.3,900.1 1616.9,901.0 1618.5,902.0 1620.2,903.0 1621.3,903.0 1622.5,903.0 1623.6,903.0 1624.8,903.0 1625.9,903.0 1627.1,903.0 1628.3,903.0 1629.4,903.0 1630.6,903.0 1631.7,903.0 1632.9,903.0 1634.0,903.1 1635.2,903.2 1636.3,903.4 1637.5,903.6 1638.7,903.8 1639.8,904.1 1641.0,904.4 1642.1,904.7 1643.3,905.0 1644.8,905.1 1646.3,905.4 1647.8,905.8 1649.3,906.4 1650.8,907.2 1652.3,908.0 1653.8,909.0 1655.3,910.1 1656.8,911.2 1658.3,912.4 1659.4,910.5 1660.4,908.6 1661.4,906.8 1662.5,905.1 1663.5,903.7 1664.6,902.4 1665.6,901.4 1666.6,900.7 1667.7,900.2 1668.7,900.1 1670.1,900.1 1671.5,900.3 1672.9,900.7 1674.3,901.2 1675.7,901.8 1677.0,902.5 1678.4,903.3 1679.8,904.1 1681.2,905.1 1682.6,906.0 1683.9,903.7 1685.1,901.6 1686.4,899.5 1687.7,897.6 1688.9,895.9 1690.2,894.4 1691.5,893.2 1692.8,892.4 1694.0,891.8 1695.3,891.7 1696.2,891.7 1697.2,892.0 1698.1,892.4 1699.0,892.9 1699.9,893.5 1700.9,894.3 1701.8,895.2 1702.7,896.1 1703.6,897.1 1704.6,898.1 1706.1,896.2 1707.6,894.4 1709.1,892.7 1710.6,891.1 1712.1,889.7 1713.6,888.5 1715.1,887.5 1716.6,886.8 1718.1,886.4 1719.6,886.2 1721.0,886.3 1722.4,886.7 1723.7,887.2 1725.1,887.9 1726.5,888.8 1727.9,889.9 1729.3,891.1 1730.7,892.4 1732.1,893.7 1733.5,895.1 1735.2,893.3 1737.0,891.6 1738.8,890.0 1740.6,888.5 1742.4,887.1 1744.2,885.9 1746.0,885.0 1747.8,884.3 1749.6,883.9 1751.4,883.8" stroke="#b83434"/>
<polyline points="1338.4,893.5 1339.0,892.7 1339.6,891.9 1340.3,891.1 1340.9,890.4 1341.5,889.8 1342.1,889.2 1342.8,888.8 1343.4,888.5 1344.0,888.3 1344.6,888.2 1346.0,888.4 1347.3,888.8 1348.7,889.4 1350.0,890.3 1351.4,891.3 1352.7,892.6 1354.1,894.0 1355.5,895.6 1356.8,897.2 1358.2,898.8 1359.6,896.5 1361.1,894.2 1362.6,892.1 1364.0,890.1 1365.5,888.3 1367.0,886.8 1368.4,885.5 1369.9,884.6 1371.4,884.1 1372.8,883.9 1374.1,884.1 1375.3,884.5 1376.6,885.3 1377.8,886.4 1379.1,887.7 1380.3,889.3 1381.5,891.0 1382.8,892.9 1384.0,894.9 1385.3,896.9 1386.8,895.0 1388.3,893.0 1389.8,891.2 1391.4,889.5 1392.9,888.1 1394.4,886.8 1395.9,885.7 1397.5,885.0 1399.0,884.5 1400.5,884.4 1401.8,884.6 1403.0,885.1 1404.2,885.9 1405.5,887.1 1406.7,888.5 1408.0,890.1 1409.2,892.0 1410.4,894.0 1411.7,896.2 1412.9,898.4 1414.3,896.2 1415.6,894.0 1417.0,892.0 1418.4,890.1 1419.7,888.5 1421.1,887.1 1422.4,885.9 1423.8,885.1 1425.1,884.6 1426.5,884.4 1428.1,884.6 1429.6,885.1 1431.2,886.0 1432.8,887.2 1434.4,888.8 1436.0,890.5 1437.6,892.5 1439.1,894.7 1440.7,897.0 1442.3,899.3 1443.6,897.7 1445.0,896.0 1446.4,894.5 1447.7,893.1 1449.1,891.8 1450.4,890.7 1451.8,889.9 1453.1,889.2 1454.5,888.8 1455.8,888.7 1457.2,888.9 1458.6,889.4 1459.9,890.2 1461.3,891.3 1462.6,892.7 1464.0,894.3 1465.3,896.1 1466.7,898.0 1468.0,900.1 1469.4,902.2 1470.9,900.7 1472.3,899.2 1473.8,897.8 1475.3,896.5 1476.7,895.4 1478.2,894.4 1479.7,893.6 1481.1,893.0 1482.6,892.7 1484.1,892.6 1485.3,892.7 1486.6,893.2 1487.8,893.9 1489.0,894.9 1490.3,896.1 1491.5,897.5 1492.8,899.2 1494.0,900.9 1495.3,902.7 1496.5,904.6 1497.4,904.2 1498.3,903.7 1499.2,903.3 1500.1,902.9 1501.0,902.6 1501.9,902.3 1502.8,902.0 1503.7,901.9 1504.6,901.8 1505.5,901.7 1506.3,901.8 1507.1,902.0 1507.9,902.4 1508.7,902.9 1509.5,903.6 1510.3,904.3 1511.1,905.2 1511.9,906.1 1512.6,907.0 1513.4,908.0 1514.7,906.7 1515.9,905.5 1517.2,904.3 1518.4,903.2 1519.6,902.2 1520.9,901.4 1522.1,900.7 1523.4,900.2 1524.6,899.9 1525.9,899.8 1527.0,899.9 1528.1,900.1 1529.2,900.5 1530.4,901.0 1531.5,901.6 1532.6,902.4 1533.8,903.2 1534.9,904.1 1536.0,905.1 1537.1,906.1 1537.9,904.6 1538.6,903.1 1539.3,901.7 1540.0,900.4 1540.7,899.3 1541.4,898.3 1542.1,897.5 1542.8,896.9 1543.5,896.5 1544.3,896.4 1544.8,896.0 1545.3,895.6 1545.9,895.2 1546.4,894.8 1547.0,894.5 1547.5,894.2 1548.0,893.9 1548.6,893.8 1549.1,893.7 1549.6,893.6 1551.1,893.8 1552.6,894.2 1554.2,894.8 1555.7,895.7 1557.2,896.8 1558.7,898.1 1560.2,899.6 1561.7,901.1 1563.2,902.8 1564.7,904.5 1565.9,902.6 1567.2,900.8 1568.5,899.1 1569.8,897.5 1571.0,896.1 1572.3,894.9 1573.6,893.9 1574.8,893.2 1576.1,892.8 1577.4,892.7 1579.0,892.8 1580.6,893.2 1582.2,893.9 1583.9,894.8 1585.5,896.0 1587.1,897.3 1588.7,898.9 1590.3,900.5 1592.0,902.2 1593.6,904.0 1594.5,902.6 1595.4,901.3 1596.3,900.0 1597.3,898.8 1598.2,897.7 1599.1,896.8 1600.0,896.1 1601.0,895.6 1601.9,895.2 1602.8,895.1 1603.6,895.2 1604.4,895.3 1605.2,895.4 1606.1,895.7 1606.9,896.0 1607.7,896.3 1608.5,896.7 1609.3,897.2 1610.1,897.6 1610.9,898.1 1611.8,898.1 1612.8,898.3 1613.7,898.6 1614.6,899.0 1615.5,899.5 1616.5,900.1 1617.4,900.8 1618.3,901.5 1619.2,902.2 1620.2,903.0 1620.9,902.7 1621.5,902.4 1622.2,902.1 1622.9,901.9 1623.6,901.6 1624.3,901.4 1625.0,901.3 1625.7,901.1 1626.4,901.1 1627.1,901.0 1627.6,901.1 1628.0,901.2 1628.5,901.3 1628.9,901.5 1629.4,901.8 1629.9,902.1 1630.3,902.4 1630.8,902.7 1631.3,903.1 1631.7,903.5 1632.5,903.5 1633.3,903.6 1634.1,903.7 1635.0,903.9 1635.8,904.1 1636.6,904.3 1637.4,904.6 1638.2,904.9 1639.0,905.2 1639.8,905.5 1640.5,905.4 1641.2,905.3 1641.9,905.3 1642.6,905.2 1643.3,905.1 1644.0,905.1 1644.7,905.0 1645.4,905.0 1646.1,905.0 1646.8,905.0 1647.8,905.3 1648.8,906.2 1649.9,907.8 1650.9,909.9 1652.0,912.5 1653.0,915.6 1654.0,919.0 1655.1,922.7 1656.1,926.6 1657.2,930.6 1658.4,925.9 1659.7,921.2 1661.0,916.8 1662.2,912.7 1663.5,909.0 1664.8,905.9 1666.1,903.4 1667.3,901.6 1668.6,900.4 1669.9,900.1 1671.0,900.2 1672.2,900.8 1673.3,901.7 1674.5,903.0 1675.7,904.5 1676.8,906.4 1678.0,908.4 1679.1,910.6 1680.3,913.0 1681.4,915.4 1682.8,911.6 1684.2,908.0 1685.6,904.6 1687.0,901.4 1688.4,898.6 1689.8,896.2 1691.1,894.2 1692.5,892.8 1693.9,892.0 1695.3,891.7 1696.3,891.8 1697.4,892.1 1698.4,892.7 1699.5,893.5 1700.5,894.4 1701.5,895.5 1702.6,896.8 1703.6,898.1 1704.7,899.6 1705.7,901.0 1707.1,898.6 1708.5,896.3 1709.9,894.1 1711.3,892.1 1712.6,890.2 1714.0,888.7 1715.4,887.4 1716.8,886.5 1718.2,885.9 1719.6,885.7 1721.3,885.9 1723.0,886.4 1724.8,887.1 1726.5,888.2 1728.3,889.5 1730.0,891.0 1731.7,892.8 1733.5,894.6 1735.2,896.6 1736.9,898.6 1738.4,896.1 1739.8,893.7 1741.3,891.4 1742.7,889.3 1744.1,887.4 1745.6,885.8 1747.0,884.5 1748.5,883.6 1749.9,883.0 1751.4,882.8" stroke="#2424a0"/>
<polyline points="1338.4,891.6 1339.0,891.1 1339.6,890.6 1340.3,890.1 1340.9,889.6 1341.5,889.2 1342.1,888.9 1342.8,888.6 1343.4,888.4 1344.0,888.3 1344.6,888.2 1345.9,888.4 1347.2,888.9 1348.5,889.7 1349.8,890.7 1351.1,892.0 1352.4,893.6 1353.7,895.3 1355.0,897.2 1356.3,899.2 1357.6,901.2 1359.1,898.5 1360.7,895.7 1362.2,893.2 1363.7,890.8 1365.2,888.6 1366.8,886.8 1368.3,885.4 1369.8,884.3 1371.3,883.6 1372.8,883.4 1374.1,883.6 1375.3,884.2 1376.6,885.2 1377.8,886.5 1379.1,888.1 1380.3,890.0 1381.5,892.1 1382.8,894.4 1384.0,896.8 1385.3,899.3 1386.8,896.8 1388.3,894.4 1389.8,892.1 1391.4,890.0 1392.9,888.1 1394.4,886.5 1395.9,885.2 1397.5,884.2 1399.0,883.6 1400.5,883.4 1401.8,883.6 1403.0,884.2 1404.2,885.3 1405.5,886.6 1406.7,888.4 1408.0,890.4 1409.2,892.6 1410.4,895.1 1411.7,897.6 1412.9,900.3 1414.3,897.7 1415.6,895.2 1417.0,892.8 1418.4,890.7 1419.7,888.7 1421.1,887.0 1422.4,885.7 1423.8,884.7 1425.1,884.1 1426.5,883.9 1427.8,884.2 1429.1,885.0 1430.4,886.3 1431.7,888.0 1433.0,890.3 1434.3,892.8 1435.6,895.7 1436.9,898.9 1438.2,902.2 1439.5,905.6 1441.0,902.6 1442.5,899.6 1444.0,896.8 1445.6,894.3 1447.1,892.0 1448.6,890.0 1450.1,888.4 1451.7,887.3 1453.2,886.5 1454.7,886.3 1456.0,886.6 1457.2,887.5 1458.4,888.9 1459.7,890.8 1460.9,893.2 1462.2,896.0 1463.4,899.2 1464.7,902.6 1465.9,906.2 1467.1,909.9 1468.6,906.7 1470.1,903.5 1471.5,900.5 1473.0,897.7 1474.5,895.3 1475.9,893.2 1477.4,891.5 1478.9,890.2 1480.3,889.5 1481.8,889.2 1483.0,889.6 1484.2,890.7 1485.4,892.6 1486.6,895.2 1487.7,898.4 1488.9,902.1 1490.1,906.3 1491.3,910.8 1492.5,915.6 1493.7,920.5 1494.9,916.2 1496.2,912.0 1497.4,908.1 1498.6,904.4 1499.9,901.1 1501.1,898.3 1502.4,896.1 1503.6,894.4 1504.8,893.4 1506.1,893.1 1507.3,893.6 1508.6,895.1 1509.8,897.6 1511.1,901.1 1512.3,905.3 1513.5,910.3 1514.8,916.0 1516.0,922.0 1517.3,928.4 1518.5,935.0 1519.8,928.1 1521.1,921.3 1522.4,914.9 1523.7,908.9 1525.0,903.6 1526.3,899.1 1527.6,895.5 1528.9,892.8 1530.2,891.2 1531.5,890.6 1532.7,891.1 1533.9,892.3 1535.1,894.4 1536.2,897.3 1537.4,900.8 1538.6,905.0 1539.8,909.6 1541.0,914.6 1542.2,919.9 1543.4,925.3 1544.7,919.8 1546.0,914.3 1547.3,909.2 1548.6,904.4 1550.0,900.1 1551.3,896.5 1552.6,893.6 1553.9,891.4 1555.3,890.1 1556.6,889.7 1557.2,889.7 1557.7,889.7 1558.3,889.7 1558.9,889.7 1559.5,889.7 1560.0,889.7 1560.6,889.7 1561.2,889.7 1561.8,889.7 1562.4,889.7 1563.2,890.1 1564.0,891.2 1564.8,893.0 1565.6,895.4 1566.4,898.5 1567.2,902.1 1568.0,906.1 1568.8,910.5 1569.6,915.1 1570.5,919.8 1571.8,915.1 1573.2,910.5 1574.6,906.1 1576.0,902.1 1577.4,898.5 1578.8,895.4 1580.2,893.0 1581.6,891.2 1582.9,890.1 1584.3,889.7 1585.7,890.0 1587.0,890.8 1588.3,892.1 1589.6,893.9 1591.0,896.2 1592.3,898.8 1593.6,901.8 1595.0,905.0 1596.3,908.4 1597.6,911.9 1598.8,909.3 1600.0,906.7 1601.3,904.3 1602.5,902.0 1603.7,900.0 1604.9,898.3 1606.1,896.9 1607.3,895.9 1608.5,895.3 1609.8,895.1 1610.8,895.2 1611.8,895.5 1612.9,895.9 1613.9,896.4 1615.0,897.1 1616.0,898.0 1617.0,898.9 1618.1,899.9 1619.1,900.9 1620.2,902.0 1620.9,901.9 1621.5,901.7 1622.2,901.6 1622.9,901.4 1623.6,901.3 1624.3,901.2 1625.0,901.1 1625.7,901.1 1626.4,901.1 1627.1,901.0 1627.6,901.1 1628.0,901.1 1628.5,901.3 1628.9,901.4 1629.4,901.6 1629.9,901.9 1630.3,902.1 1630.8,902.4 1631.3,902.7 1631.7,903.0 1632.5,903.2 1633.3,903.7 1634.1,904.5 1635.0,905.7 1635.8,907.1 1636.6,908.7 1637.4,910.6 1638.2,912.6 1639.0,914.7 1639.8,916.8 1640.6,914.4 1641.4,912.1 1642.2,909.9 1643.1,907.8 1643.9,906.0 1644.7,904.5 1645.5,903.2 1646.3,902.3 1647.1,901.7 1647.9,901.5 1648.4,901.3 1648.8,901.1 1649.3,900.9 1649.8,900.7 1650.2,900.5 1650.7,900.3 1651.1,900.2 1651.6,900.1 1652.1,900.1 1652.5,900.1 1653.0,900.1 1653.5,900.1 1653.9,900.2 1654.4,900.2 1654.8,900.3 1655.3,900.5 1655.8,900.6 1656.2,900.7 1656.7,900.9 1657.2,901.0 1657.7,901.5 1658.2,903.0 1658.7,905.5 1659.2,908.8 1659.8,913.0 1660.3,917.9 1660.8,923.3 1661.3,929.3 1661.8,935.5 1662.4,941.9 1663.7,934.3 1665.0,927.0 1666.3,920.0 1667.7,913.5 1669.0,907.8 1670.3,902.9 1671.7,898.9 1673.0,896.0 1674.3,894.2 1675.7,893.6 1676.1,893.6 1676.6,893.5 1677.0,893.4 1677.5,893.4 1678.0,893.3 1678.4,893.2 1678.9,893.2 1679.4,893.2 1679.8,893.2 1680.3,893.1 1681.0,893.8 1681.7,895.6 1682.4,898.6 1683.0,902.8 1683.7,907.9 1684.4,913.9 1685.1,920.6 1685.8,927.9 1686.5,935.6 1687.2,943.5 1688.6,934.6 1690.0,925.9 1691.4,917.7 1692.8,910.1 1694.1,903.4 1695.5,897.6 1696.9,892.9 1698.3,889.5 1699.7,887.4 1701.1,886.7 1701.7,886.8 1702.2,886.8 1702.8,886.9 1703.4,887.0 1704.0,887.2 1704.6,887.3 1705.1,887.5 1705.7,887.8 1706.3,888.0 1706.9,888.2 1707.6,888.4 1708.4,889.0 1709.1,890.0 1709.9,891.3 1710.6,893.0 1711.4,894.9 1712.1,897.1 1712.9,899.5 1713.6,901.9 1714.4,904.5 1714.9,903.5 1715.4,902.5 1715.9,901.6 1716.5,900.7 1717.0,900.0 1717.5,899.3 1718.0,898.8 1718.5,898.4 1719.1,898.2 1719.6,898.1 1720.0,897.2 1720.5,896.3 1721.0,895.4 1721.4,894.6 1721.9,893.9 1722.4,893.3 1722.8,892.8 1723.3,892.5 1723.7,892.2 1724.2,892.2 1724.8,890.5 1725.5,888.8 1726.1,887.2 1726.7,885.8 1727.4,884.5 1728.0,883.4 1728.7,882.5 1729.3,881.8 1729.9,881.4 1730.6,881.3 1732.1,881.6 1733.7,882.3 1735.2,883.6 1736.8,885.4 1738.4,887.5 1739.9,890.1 1741.5,892.9 1743.0,896.0 1744.6,899.2 1746.2,902.5 1746.7,900.7 1747.2,898.9 1747.7,897.1 1748.2,895.6 1748.8,894.1 1749.3,892.9 1749.8,892.0 1750.3,891.3 1750.9,890.8 1751.4,890.7" stroke="#d844dc"/>
</g>
<rect x="1339.2" y="728.6" width="412.39999999999986" height="248.89999999999998" fill="none" stroke="#5a5a5a" stroke-width="1.3"/>
<line x1="1421.7" y1="977.5" x2="1421.7" y2="973.5" stroke="#5a5a5a" stroke-width="1"/><line x1="1421.7" y1="728.6" x2="1421.7" y2="732.6" stroke="#5a5a5a" stroke-width="1"/>
<line x1="1504.2" y1="977.5" x2="1504.2" y2="973.5" stroke="#5a5a5a" stroke-width="1"/><line x1="1504.2" y1="728.6" x2="1504.2" y2="732.6" stroke="#5a5a5a" stroke-width="1"/>
<line x1="1586.6" y1="977.5" x2="1586.6" y2="973.5" stroke="#5a5a5a" stroke-width="1"/><line x1="1586.6" y1="728.6" x2="1586.6" y2="732.6" stroke="#5a5a5a" stroke-width="1"/>
<line x1="1669.1" y1="977.5" x2="1669.1" y2="973.5" stroke="#5a5a5a" stroke-width="1"/><line x1="1669.1" y1="728.6" x2="1669.1" y2="732.6" stroke="#5a5a5a" stroke-width="1"/>
<line x1="1339.2" y1="728.6" x2="1343.2" y2="728.6" stroke="#5a5a5a" stroke-width="1"/><line x1="1751.6" y1="728.6" x2="1747.6" y2="728.6" stroke="#5a5a5a" stroke-width="1"/>
<line x1="1339.2" y1="764.2" x2="1343.2" y2="764.2" stroke="#5a5a5a" stroke-width="1"/><line x1="1751.6" y1="764.2" x2="1747.6" y2="764.2" stroke="#5a5a5a" stroke-width="1"/>
<line x1="1339.2" y1="799.7" x2="1343.2" y2="799.7" stroke="#5a5a5a" stroke-width="1"/><line x1="1751.6" y1="799.7" x2="1747.6" y2="799.7" stroke="#5a5a5a" stroke-width="1"/>
<line x1="1339.2" y1="835.3" x2="1343.2" y2="835.3" stroke="#5a5a5a" stroke-width="1"/><line x1="1751.6" y1="835.3" x2="1747.6" y2="835.3" stroke="#5a5a5a" stroke-width="1"/>
<line x1="1339.2" y1="870.8" x2="1343.2" y2="870.8" stroke="#5a5a5a" stroke-width="1"/><line x1="1751.6" y1="870.8" x2="1747.6" y2="870.8" stroke="#5a5a5a" stroke-width="1"/>
<line x1="1339.2" y1="906.4" x2="1343.2" y2="906.4" stroke="#5a5a5a" stroke-width="1"/><line x1="1751.6" y1="906.4" x2="1747.6" y2="906.4" stroke="#5a5a5a" stroke-width="1"/>
<line x1="1339.2" y1="941.9" x2="1343.2" y2="941.9" stroke="#5a5a5a" stroke-width="1"/><line x1="1751.6" y1="941.9" x2="1747.6" y2="941.9" stroke="#5a5a5a" stroke-width="1"/>
<line x1="1339.2" y1="977.5" x2="1343.2" y2="977.5" stroke="#5a5a5a" stroke-width="1"/><line x1="1751.6" y1="977.5" x2="1747.6" y2="977.5" stroke="#5a5a5a" stroke-width="1"/>
<g font-family="Liberation Serif" font-size="16.3" fill="#262626">
<text x="1339.2" y="998.9" text-anchor="middle">7</text>
<text x="1421.7" y="998.9" text-anchor="middle">7.2</text>
<text x="1504.2" y="998.9" text-anchor="middle">7.4</text>
<text x="1586.6" y="998.9" text-anchor="middle">7.6</text>
<text x="1669.1" y="998.9" text-anchor="middle">7.8</text>
<text x="1751.6" y="998.9" text-anchor="middle">8</text>
<text x="1332.7" y="734.2" text-anchor="end">0</text>
<text x="1332.7" y="769.8" text-anchor="end">-20</text>
<text x="1332.7" y="805.3" text-anchor="end">-40</text>
<text x="1332.7" y="840.9" text-anchor="end">-60</text>
<text x="1332.7" y="876.4" text-anchor="end">-80</text>
<text x="1332.7" y="912.0" text-anchor="end">-100</text>
<text x="1332.7" y="947.5" text-anchor="end">-120</text>
<text x="1332.7" y="983.1" text-anchor="end">-140</text>
</g>
<text x="1545.4" y="1020.2" text-anchor="middle" font-family="Liberation Serif" font-size="18" fill="#262626">Frequency (GHz)</text>
<text x="1300.2" y="853.0" transform="rotate(-90 1300.2 853.0)" text-anchor="middle" font-family="Liberation Serif" font-size="18" fill="#262626">Transmission (S21, dB)</text>
<rect x="1472.6" y="778.2" width="265.7" height="65.0" fill="#ffffff" stroke="#3a3a3a" stroke-width="0.9"/>
<line x1="1477.3" y1="787.7" x2="1510.4" y2="787.7" stroke="#2424a0" stroke-width="1.6"/>
<text x="1514.1" y="792.1" font-family="Liberation Serif" font-size="12.8" fill="#262626">Copper tape</text>
<line x1="1477.3" y1="803.2" x2="1510.4" y2="803.2" stroke="#d844dc" stroke-width="1.6"/>
<text x="1514.1" y="807.6" font-family="Liberation Serif" font-size="12.8" fill="#262626">Dielectric with copper ground</text>
<line x1="1477.3" y1="818.7" x2="1510.4" y2="818.7" stroke="#46d446" stroke-width="1.6"/>
<text x="1514.1" y="823.1" font-family="Liberation Serif" font-size="12.8" fill="#262626">Stucuture on Dielectric</text>
<line x1="1477.3" y1="834.2" x2="1510.4" y2="834.2" stroke="#b83434" stroke-width="1.6"/>
<text x="1514.1" y="838.6" font-family="Liberation Serif" font-size="12.8" fill="#262626">Structure on Dielectric with copper ground</text>
<rect x="3.5" y="1043" width="726" height="300.5" rx="40" ry="40" fill="none" stroke="#c23a48" stroke-width="1.6"/>
<text x="364" y="1071.5" text-anchor="middle" font-size="28.9" font-weight="bold" fill="#000" textLength="506" lengthAdjust="spacingAndGlyphs">Impedance characterization @ 8 GHz</text>
<text x="364" y="1106.5" text-anchor="middle" font-size="28.7" font-weight="bold" font-style="italic" fill="#e8101a" textLength="245" lengthAdjust="spacingAndGlyphs">simulation results</text>
<rect x="42" y="1115" width="663" height="44.6" fill="#000"/>
<rect x="42" y="1159.6" width="663" height="41.4" fill="#e6e6e6"/>
<rect x="42" y="1201" width="663" height="42.3" fill="#ffffff"/>
<rect x="42" y="1243.3" width="663" height="42.3" fill="#e6e6e6"/>
<rect x="42" y="1285.6" width="663" height="42" fill="#ffffff"/>
<rect x="42" y="1327.4" width="663" height="2.2" fill="#000"/>
<g font-family="Liberation Serif">
<text x="153" y="1141.5" text-anchor="middle" font-size="22.5" font-weight="bold" fill="#fff">Sample</text>
<text x="484" y="1141.5" text-anchor="middle" font-size="22.5" font-weight="bold" fill="#fff">Surface Impedance (Ω/sq)</text>
<text x="373.4" y="1182.8" text-anchor="middle" font-size="21.5" fill="#000">Real</text>
<text x="594.6" y="1182.8" text-anchor="middle" font-size="21.5" fill="#000">Imag</text>
<text x="153" y="1228" text-anchor="middle" font-size="25" font-weight="bold" fill="#000">a</text>
<text x="373.4" y="1228" text-anchor="middle" font-size="24" fill="#000">0.4</text>
<text x="594.6" y="1228" text-anchor="middle" font-size="24" fill="#000">10.6</text>
<text x="153" y="1270.5" text-anchor="middle" font-size="25" font-weight="bold" fill="#000">b</text>
<text x="373.4" y="1270.5" text-anchor="middle" font-size="24" fill="#000">0.48</text>
<text x="594.6" y="1270.5" text-anchor="middle" font-size="24" fill="#000">-113</text>
<text x="153" y="1312.5" text-anchor="middle" font-size="25" font-weight="bold" fill="#000">c</text>
<text x="373.4" y="1312.5" text-anchor="middle" font-size="24" fill="#000">0.54</text>
<text x="594.6" y="1312.5" text-anchor="middle" font-size="24" fill="#000">-267</text>
</g>
<rect x="743.2" y="1041" width="1140" height="148" rx="25" ry="25" fill="none" stroke="#c23a48" stroke-width="1.6"/>
<text x="756.5" y="1075.7" font-size="21.8" font-weight="bold" fill="#000" textLength="131" lengthAdjust="spacingAndGlyphs">Conclusions</text>
<rect x="756.4" y="1078.6" width="131.5" height="2.2" fill="#000"/>
<g font-size="18.4" fill="#000">
<text x="757" y="1101.4">•</text>
<text x="757" y="1125">•</text>
<text x="757" y="1173">•</text>
<text x="795" y="1101.4" textLength="452" lengthAdjust="spacingAndGlyphs">Metallic structures were prepared by printing technique</text>
<text x="795" y="1125" textLength="1067" lengthAdjust="spacing">The metallic structures will be also measured with WG 112 to remove error from size mismatch between the sample and the</text>
<text x="795" y="1149.2">waveguide gap</text>
<text x="795" y="1173" textLength="934" lengthAdjust="spacingAndGlyphs">WG 112 measurements will be used to characterize the structures’ surface impedance to validate simulation results</text>
</g>
<rect x="743.2" y="1197.3" width="1140" height="81" rx="15" ry="15" fill="none" stroke="#c23a48" stroke-width="1.6"/>
<text x="753" y="1225.3" font-size="20.2" font-weight="bold" fill="#000" textLength="190" lengthAdjust="spacingAndGlyphs">Acknowledgements</text>
<rect x="753" y="1228" width="190" height="2" fill="#000"/>
<text x="753" y="1247" font-size="15.3" fill="#000" textLength="1112" lengthAdjust="spacingAndGlyphs">This work was supported by the “Metamaterial Products to Protect from Electromagnetic Radiation - PROPILEA” project with ID 16971 - OPS TA 5149205 funded by</text>
<text x="753" y="1267" font-size="15.3" fill="#000" textLength="701" lengthAdjust="spacingAndGlyphs">Greece 2.0 - National Recovery and Resilience Plan funded by the European Union – NextGenerationEU.</text>
<rect x="743.2" y="1293.4" width="530" height="86.4" rx="15" ry="15" fill="none" stroke="#c23a48" stroke-width="1.6"/>
<text x="753" y="1319" font-size="17" font-weight="bold" fill="#000" textLength="134" lengthAdjust="spacingAndGlyphs">Contact persons</text>
<g font-size="17.9" fill="#000">
<text x="757" y="1343">•</text><text x="757" y="1367">•</text>
<text x="790.8" y="1343" textLength="392" lengthAdjust="spacingAndGlyphs">Assist. Prof. Binas Vassilios, binabill@iesl.forth.gr</text>
<text x="790.8" y="1367" textLength="409" lengthAdjust="spacingAndGlyphs">Dr. Gagaoudakis Emmanouil. mgagas@iesl.forth.gr</text>
</g>
<g transform="translate(1420.1,1325.6)">
<rect x="-15.5" y="-15.5" width="31.0" height="31.0" fill="#4a2418"/>
<rect x="-15.5" y="-15.5" width="31.0" height="31.0" fill="#4a2418" transform="rotate(45)"/>
<rect x="-12.5" y="-12.5" width="25" height="25" fill="#a8783a"/>
<rect x="-5.9" y="5.6" width="2.5" height="2.3" fill="#5a3418" opacity="0.8"/>
<rect x="1.3" y="-8.9" width="2.7" height="2.8" fill="#5a3418" opacity="0.8"/>
<rect x="-0.3" y="-7.9" width="1.2" height="1.5" fill="#5a3418" opacity="0.8"/>
<rect x="9.4" y="-5.0" width="1.6" height="2.1" fill="#5a3418" opacity="0.8"/>
<rect x="-11.2" y="5.4" width="2.6" height="1.6" fill="#5a3418" opacity="0.8"/>
<rect x="-11.3" y="7.8" width="2.6" height="2.5" fill="#5a3418" opacity="0.8"/>
<rect x="-7.4" y="9.0" width="2.3" height="1.1" fill="#5a3418" opacity="0.8"/>
<rect x="9.6" y="3.4" width="1.4" height="2.8" fill="#5a3418" opacity="0.8"/>
<rect x="1.1" y="2.0" width="1.1" height="1.4" fill="#5a3418" opacity="0.8"/>
<rect x="5.4" y="-11.7" width="1.4" height="1.1" fill="#5a3418" opacity="0.8"/>
<rect x="0.8" y="-9.0" width="2.6" height="1.9" fill="#5a3418" opacity="0.8"/>
<rect x="5.2" y="8.1" width="2.9" height="1.4" fill="#5a3418" opacity="0.8"/>
<rect x="-4.0" y="5.5" width="1.7" height="2.9" fill="#5a3418" opacity="0.8"/>
<rect x="-4.6" y="1.8" width="1.5" height="2.4" fill="#5a3418" opacity="0.8"/>
</g>
<defs><linearGradient id="pig" gradientUnits="userSpaceOnUse" x1="0" y1="1305" x2="0" y2="1343"><stop offset="0" stop-color="#6b2c26"/><stop offset="0.3" stop-color="#6b2c26"/><stop offset="0.85" stop-color="#f2c200"/><stop offset="1" stop-color="#f2c200"/></linearGradient></defs>
<rect x="1450.4" y="1305.1" width="117.7" height="3.8" fill="#6b2c26"/>
<rect x="1454.7" y="1307.2" width="7.7" height="34.4" fill="#6b2c26"/>
<rect x="1450.4" y="1341.5" width="16.3" height="3.8" fill="#6b2c26"/>
<rect x="1480.5" y="1307.2" width="8.6" height="34.4" fill="#6b2c26"/>
<rect x="1476.2" y="1341.5" width="17.2" height="3.8" fill="#6b2c26"/>
<rect x="1531.2" y="1307.2" width="7.7" height="34.4" fill="url(#pig)"/>
<rect x="1526.9" y="1341.5" width="16.3" height="3.8" fill="url(#pig)"/>
<rect x="1556.9" y="1307.2" width="7.7" height="34.4" fill="url(#pig)"/>
<rect x="1552.6" y="1341.5" width="16.3" height="3.8" fill="url(#pig)"/>
<g fill="none" stroke="#222" stroke-width="1.3">
<circle cx="1500.2" cy="1311.5" r="2.3"/><circle cx="1498.5" cy="1340.7" r="2.3"/>
<circle cx="1517.4" cy="1333.8" r="9.6"/>
<path d="M1502.5,1311.5 L1515.7,1311.5 A7.7,7.7 0 0 1 1515.7,1326.9 L1505.4,1326.9 L1505.4,1337.2"/>
<circle cx="1517.4" cy="1333.8" r="1.2"/>
</g>
<g fill="none" stroke="#e02020" stroke-width="1.5">
<circle cx="1575.0" cy="1312.3" r="2.8"/>
<circle cx="1603.3" cy="1312.3" r="2.8"/>
<circle cx="1575.0" cy="1340.7" r="2.8"/>
<circle cx="1603.3" cy="1340.7" r="2.8"/>
<line x1="1575.0" y1="1315.1" x2="1575.0" y2="1337.9"/>
<line x1="1603.3" y1="1315.1" x2="1603.3" y2="1337.9"/>
<line x1="1575.0" y1="1326.9" x2="1603.3" y2="1326.9"/>
</g>
<g stroke="#555" stroke-width="1" fill="none">
<path d="M1616,1313 L1627,1313 M1614.5,1321 L1628,1325 L1614.5,1329 M1615,1333 L1628,1337 L1615,1341"/>
<circle cx="1627.5" cy="1313" r="1.4"/><circle cx="1628" cy="1325" r="1.4"/><circle cx="1628" cy="1337" r="1.4"/>
</g>
<text x="1655" y="1343" text-anchor="middle" font-family="Liberation Serif" font-style="italic" font-weight="bold" font-size="63" fill="#e81010">α</text>
<text x="1399" y="1357.3" font-family="Liberation Serif" font-size="6.6" fill="#333" textLength="273" lengthAdjust="spacingAndGlyphs"><tspan fill="#d02020">ΠΡΟ</tspan>ϊόντα <tspan fill="#d02020">Π</tspan>ροστασίας από <tspan fill="#d02020">ΗΛΕ</tspan>κτρομαγνητική <tspan fill="#d02020">Α</tspan>κτινοβολία Βασισμένα σε Μεταϋλικά</text>
</svg></body></html>
